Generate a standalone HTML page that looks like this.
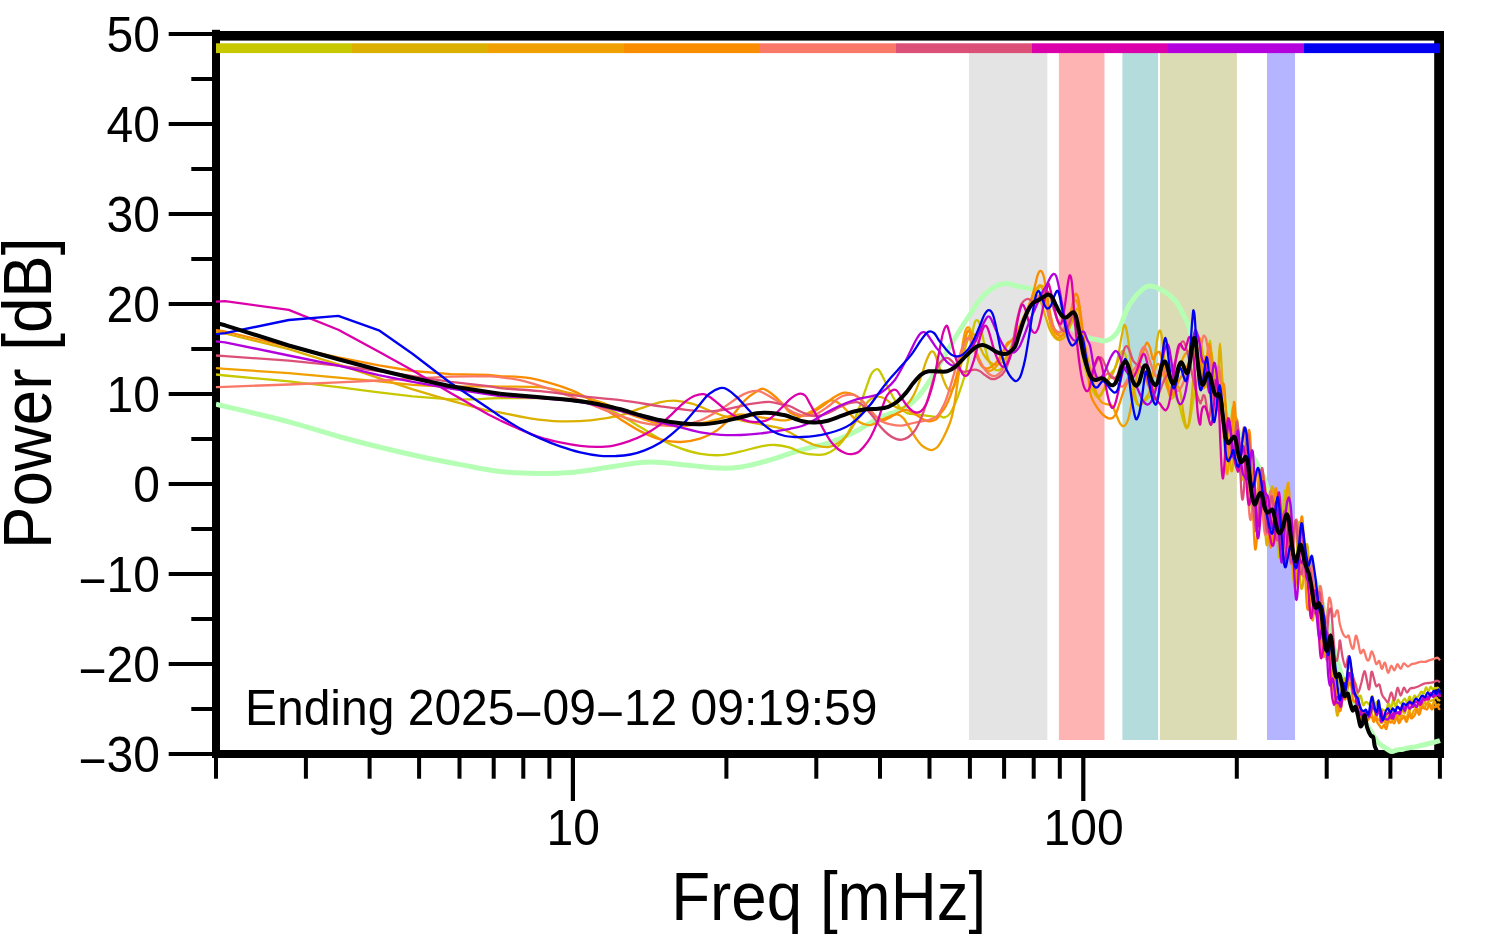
<!DOCTYPE html>
<html lang="en"><head><meta charset="utf-8"><title>Power spectrum</title>
<style>html,body{margin:0;padding:0;background:#fff}svg{display:block}text{font-family:"Liberation Sans",sans-serif;fill:#000}</style></head><body>
<svg width="1494" height="952" viewBox="0 0 1494 952">
<rect width="1494" height="952" fill="#fff"/>
<g fill="#000">
<rect x="168.7" y="752.0" width="46" height="4"/>
<rect x="191.3" y="707.0" width="24" height="4"/>
<rect x="168.7" y="662.0" width="46" height="4"/>
<rect x="191.3" y="617.0" width="24" height="4"/>
<rect x="168.7" y="572.0" width="46" height="4"/>
<rect x="191.3" y="527.0" width="24" height="4"/>
<rect x="168.7" y="482.0" width="46" height="4"/>
<rect x="191.3" y="437.0" width="24" height="4"/>
<rect x="168.7" y="392.0" width="46" height="4"/>
<rect x="191.3" y="347.0" width="24" height="4"/>
<rect x="168.7" y="302.0" width="46" height="4"/>
<rect x="191.3" y="257.0" width="24" height="4"/>
<rect x="168.7" y="212.0" width="46" height="4"/>
<rect x="191.3" y="167.0" width="24" height="4"/>
<rect x="168.7" y="122.0" width="46" height="4"/>
<rect x="191.3" y="77.0" width="24" height="4"/>
<rect x="168.7" y="32.0" width="46" height="4"/>
<rect x="214.0" y="754" width="4" height="24.7"/>
<rect x="303.9" y="754" width="4" height="24.7"/>
<rect x="367.6" y="754" width="4" height="24.7"/>
<rect x="417.1" y="754" width="4" height="24.7"/>
<rect x="457.5" y="754" width="4" height="24.7"/>
<rect x="491.7" y="754" width="4" height="24.7"/>
<rect x="521.3" y="754" width="4" height="24.7"/>
<rect x="547.4" y="754" width="4" height="24.7"/>
<rect x="570.8" y="754" width="4.2" height="47"/>
<rect x="724.4" y="754" width="4" height="24.7"/>
<rect x="814.3" y="754" width="4" height="24.7"/>
<rect x="878.0" y="754" width="4" height="24.7"/>
<rect x="927.5" y="754" width="4" height="24.7"/>
<rect x="967.9" y="754" width="4" height="24.7"/>
<rect x="1002.1" y="754" width="4" height="24.7"/>
<rect x="1031.7" y="754" width="4" height="24.7"/>
<rect x="1057.8" y="754" width="4" height="24.7"/>
<rect x="1081.2" y="754" width="4.2" height="47"/>
<rect x="1234.8" y="754" width="4" height="24.7"/>
<rect x="1324.7" y="754" width="4" height="24.7"/>
<rect x="1388.4" y="754" width="4" height="24.7"/>
<rect x="1437.9" y="754" width="4" height="24.7"/>
</g>
<g fill="#000">
<rect x="212" y="29.8" width="8" height="728.2"/>
<rect x="212" y="750" width="1232" height="8"/>
<rect x="212" y="31" width="1232" height="9.6"/>
<rect x="1434.2" y="31" width="9.8" height="727"/>
</g>
<rect x="969.00" y="44" width="78.35" height="696" fill="#e4e4e4"/>
<rect x="1058.90" y="44" width="45.60" height="696" fill="#ffb4b4"/>
<rect x="1122.40" y="44" width="35.70" height="696" fill="#b4dcdc"/>
<rect x="1159.90" y="44" width="77.00" height="696" fill="#dcdcb4"/>
<rect x="1267.00" y="44" width="28.00" height="696" fill="#b4b4ff"/>
<rect x="216.0" y="43.3" width="136.2" height="9.8" fill="#c8c800"/>
<rect x="352.0" y="43.3" width="136.2" height="9.8" fill="#dcb000"/>
<rect x="488.0" y="43.3" width="136.2" height="9.8" fill="#f0a000"/>
<rect x="624.0" y="43.3" width="136.2" height="9.8" fill="#fa8c00"/>
<rect x="760.0" y="43.3" width="136.2" height="9.8" fill="#fa7868"/>
<rect x="896.0" y="43.3" width="136.2" height="9.8" fill="#dc5078"/>
<rect x="1032.0" y="43.3" width="136.2" height="9.8" fill="#dc00aa"/>
<rect x="1168.0" y="43.3" width="136.2" height="9.8" fill="#b400dc"/>
<rect x="1304.0" y="43.3" width="136.0" height="9.8" fill="#0000f0"/>
<defs><clipPath id="cp"><rect x="216" y="34" width="1225.3" height="722"/></clipPath></defs>
<g clip-path="url(#cp)" fill="none" stroke-linejoin="round" stroke-linecap="butt">
<path d="M216.0,404.1 C228.1,407.1 268.4,416.4 288.8,421.8 C309.2,427.2 323.6,432.3 338.6,436.5 C353.6,440.7 365.4,443.7 379.0,447.0 C392.6,450.3 406.2,453.5 420.0,456.5 C433.8,459.5 448.7,462.4 462.0,464.9 C475.3,467.4 487.0,470.1 500.0,471.5 C513.0,472.9 528.5,473.3 540.2,473.5 C551.9,473.7 560.3,473.3 570.3,472.5 C580.3,471.7 588.7,470.2 600.4,468.5 C612.1,466.8 630.6,463.5 640.6,462.5 C650.6,461.5 652.2,462.0 660.6,462.5 C669.0,463.0 680.8,464.6 690.8,465.5 C700.8,466.4 712.5,467.9 720.9,468.1 C729.3,468.3 734.3,467.8 741.0,466.9 C747.7,466.0 754.3,464.2 761.0,462.5 C767.7,460.8 776.3,458.0 781.1,456.5 C785.9,455.0 785.4,454.8 790.0,453.4 C794.6,451.9 802.6,449.5 808.9,447.8 C815.2,446.1 821.5,445.3 827.8,443.3 C834.1,441.3 841.5,438.1 846.7,435.8 C852.0,433.5 855.1,431.8 859.3,429.5 C863.5,427.2 867.7,424.2 871.9,421.9 C876.1,419.6 880.3,417.4 884.5,415.6 C888.7,413.8 892.9,413.1 897.1,411.2 C901.3,409.3 906.1,407.1 909.7,404.5 C913.3,401.9 915.3,400.2 918.9,395.8 C922.5,391.4 927.7,384.1 931.5,378.2 C935.3,372.3 938.0,366.6 941.6,360.5 C945.2,354.4 949.3,347.5 952.9,341.6 C956.5,335.7 960.0,329.9 963.0,325.2 C966.0,320.5 968.1,317.3 970.6,313.5 C973.1,309.7 975.5,305.8 978.0,302.5 C980.5,299.2 982.9,296.2 985.4,293.8 C987.9,291.4 990.5,289.4 993.0,287.8 C995.5,286.2 998.0,285.1 1000.5,284.4 C1003.0,283.7 1005.7,283.4 1008.1,283.6 C1010.5,283.8 1012.4,285.1 1015.0,285.7 C1017.6,286.3 1020.9,286.6 1023.8,287.2 C1026.7,287.8 1029.6,288.4 1032.6,289.4 C1035.5,290.4 1038.5,291.4 1041.5,293.1 C1044.5,294.8 1047.4,296.9 1050.3,299.7 C1053.2,302.5 1056.2,306.1 1059.1,310.0 C1062.0,313.9 1065.0,319.5 1067.9,323.2 C1070.9,326.9 1073.8,329.9 1076.8,332.1 C1079.8,334.3 1083.4,335.5 1085.6,336.5 C1087.8,337.5 1088.1,337.8 1090.0,338.3 C1091.9,338.8 1094.5,339.2 1096.8,339.6 C1099.1,340.1 1101.4,341.1 1103.7,341.0 C1106.0,340.9 1108.5,340.0 1110.5,338.9 C1112.5,337.8 1114.3,336.1 1115.9,334.2 C1117.5,332.3 1118.6,330.3 1120.0,327.3 C1121.4,324.3 1122.7,319.8 1124.1,316.4 C1125.5,313.0 1126.6,309.8 1128.2,306.9 C1129.8,303.9 1131.9,301.1 1133.7,298.7 C1135.5,296.3 1137.3,294.3 1139.1,292.5 C1140.9,290.7 1143.0,288.8 1144.6,287.7 C1146.2,286.6 1147.1,286.3 1148.7,286.1 C1150.3,285.9 1152.4,286.2 1154.2,286.7 C1156.0,287.2 1157.8,288.2 1159.6,289.1 C1161.4,290.0 1163.3,290.7 1165.1,291.8 C1166.9,292.9 1168.7,294.3 1170.5,295.9 C1172.3,297.5 1174.4,299.3 1176.0,301.4 C1177.6,303.4 1178.7,305.7 1180.1,308.2 C1181.5,310.7 1183.0,313.9 1184.2,316.4 C1185.5,318.9 1186.6,320.7 1187.6,323.2 C1188.6,325.7 1189.5,328.9 1190.3,331.4 C1191.1,333.9 1191.3,334.9 1192.4,338.3 C1193.5,341.7 1195.4,347.4 1197.0,352.0 C1198.6,356.6 1199.8,361.3 1202.0,365.6 C1204.2,369.9 1207.5,374.3 1210.0,378.0 C1212.5,381.7 1214.6,384.6 1217.0,388.0 C1219.4,391.4 1221.2,391.6 1224.5,398.3 C1227.8,405.0 1232.6,418.9 1237.0,428.0 C1241.4,437.1 1246.5,444.7 1251.0,453.0 C1255.5,461.3 1260.0,468.2 1264.0,478.0 C1268.0,487.8 1269.0,500.8 1275.0,512.0 C1281.0,523.2 1293.3,533.7 1300.0,545.0 C1306.7,556.3 1310.5,567.5 1315.0,580.0 C1319.5,592.5 1323.3,606.7 1327.0,620.0 C1330.7,633.3 1333.7,648.3 1337.0,660.0 C1340.3,671.7 1343.2,681.0 1347.0,690.0 C1350.8,699.0 1356.4,707.8 1360.0,714.0 C1363.6,720.2 1366.2,723.7 1368.4,727.2 C1370.6,730.7 1371.5,732.5 1373.1,735.0 C1374.7,737.5 1376.2,740.2 1377.8,742.1 C1379.4,744.0 1381.0,744.9 1382.6,746.1 C1384.2,747.3 1385.7,748.3 1387.3,749.2 C1388.9,750.1 1390.4,751.5 1392.0,751.6 C1393.6,751.7 1394.9,750.4 1396.7,750.0 C1398.5,749.6 1400.9,749.6 1403.0,749.2 C1405.1,748.8 1407.2,748.1 1409.3,747.7 C1411.4,747.3 1413.5,747.3 1415.6,746.9 C1417.7,746.5 1419.9,745.8 1422.0,745.3 C1424.1,744.8 1426.2,744.2 1428.3,743.7 C1430.4,743.2 1432.6,742.6 1434.6,742.1 C1436.5,741.6 1439.1,740.9 1440.0,740.6" stroke="#b4ffb4" stroke-width="5"/>
<path d="M216.0,374.5 L225.1,375.5 L288.8,381.4 L338.3,387.1 L378.9,392.4 L412.8,396.3 L450.6,399.4 L475.8,399.4" stroke="#c8c800" stroke-width="2.3"/>
<path d="M475.8,399.4 C480.0,399.2 490.3,398.4 501.0,398.2 C511.7,398.0 527.0,397.9 540.2,398.2 C553.4,398.5 570.3,399.0 580.3,400.2 C590.3,401.4 593.7,402.8 600.4,405.3 C607.1,407.8 613.8,411.6 620.5,415.3 C627.2,419.0 633.9,423.3 640.6,427.3 C647.3,431.3 653.9,435.9 660.6,439.4 C667.3,442.9 674.0,446.0 680.7,448.4 C687.4,450.8 694.1,452.8 700.8,453.9 C707.5,455.0 714.2,455.5 720.9,455.1 C727.6,454.7 734.3,452.8 741.0,451.4 C747.7,449.9 755.3,447.5 761.0,446.4 C766.7,445.3 770.4,444.8 775.1,445.0 C779.8,445.2 784.6,446.1 789.2,447.4 C793.8,448.7 798.3,451.6 802.6,452.8 C806.9,454.0 811.4,454.5 815.2,454.7 C819.0,454.9 822.1,455.0 825.3,454.1 C828.4,453.2 831.2,451.8 834.1,449.6 C837.0,447.4 840.2,444.4 842.9,440.8 C845.6,437.2 848.0,433.2 850.5,428.2 C853.0,423.2 855.8,416.5 858.1,410.6 C860.4,404.7 862.3,398.8 864.4,392.9 C866.5,387.0 869.1,379.0 870.7,375.3 C872.3,371.6 872.6,371.9 873.8,370.9 C874.9,369.9 876.5,368.9 877.6,369.2 C878.8,369.5 879.3,370.5 880.7,372.8 C882.1,375.1 884.1,379.5 885.8,382.8 C887.5,386.1 889.1,389.7 890.8,392.9 C892.5,396.1 894.2,399.2 895.9,401.8 C897.6,404.4 899.0,406.8 900.9,408.7 C902.8,410.6 904.7,412.2 907.2,413.1 C909.7,414.1 912.9,414.0 916.0,414.4 C919.1,414.8 923.0,415.2 926.1,415.6 C929.2,416.0 932.6,416.8 934.9,416.9 C937.2,417.0 938.5,416.0 940.0,416.1 C941.5,416.2 942.5,417.8 944.1,417.5 C945.7,417.2 947.8,416.4 949.6,414.1 C951.4,411.8 953.2,408.0 955.0,403.8 C956.8,399.6 958.7,394.3 960.5,388.8 C962.3,383.3 964.4,377.8 966.0,371.0 C967.6,364.2 968.9,355.1 970.1,347.8 C971.4,340.5 972.5,331.9 973.5,327.3 C974.5,322.8 974.9,321.4 975.8,320.5 C976.7,319.6 977.9,320.1 978.9,321.9 C979.9,323.7 980.7,327.1 981.7,331.4 C982.7,335.7 983.9,342.8 985.1,347.8 C986.4,352.8 987.8,358.1 989.2,361.5 C990.6,364.9 991.9,366.8 993.3,368.3 C994.7,369.8 996.0,370.4 997.4,370.4 C998.8,370.4 1000.1,369.6 1001.5,368.3 C1002.9,367.0 1003.9,366.2 1005.6,362.8 C1007.4,359.4 1009.6,353.5 1012.0,348.0 C1014.4,342.5 1017.0,337.3 1020.0,330.0 C1023.0,322.7 1027.0,310.4 1029.7,304.1 C1032.4,297.8 1033.9,295.1 1036.0,292.0 C1038.1,288.9 1040.7,285.7 1042.2,285.7 C1043.7,285.7 1043.9,287.0 1045.0,292.0 C1046.1,297.0 1047.2,309.5 1048.8,315.9 C1050.4,322.3 1053.0,327.7 1054.7,330.6 C1056.4,333.5 1057.5,333.9 1059.1,333.5 C1060.6,333.1 1062.2,330.6 1064.0,328.0 C1065.8,325.4 1068.2,319.0 1070.0,318.0 C1071.8,317.0 1073.3,317.5 1075.0,322.0 C1076.7,326.5 1078.3,337.3 1080.0,345.0 C1081.7,352.7 1083.3,361.6 1085.0,368.0 C1086.7,374.4 1088.5,379.5 1090.0,383.7 C1091.5,387.9 1092.7,391.0 1094.1,393.3 C1095.5,395.6 1096.8,397.4 1098.2,397.4 C1099.6,397.4 1100.9,395.6 1102.3,393.3 C1103.7,391.0 1105.0,386.9 1106.4,383.7 C1107.8,380.5 1109.1,376.6 1110.5,374.1 C1111.9,371.6 1113.2,371.2 1114.6,368.7 C1116.0,366.2 1117.5,362.1 1118.7,359.1 C1120.0,356.2 1121.0,351.7 1122.1,351.0 C1123.2,350.3 1124.4,351.6 1125.5,355.0 C1126.6,358.4 1127.8,365.7 1128.9,371.4 C1130.0,377.1 1131.2,384.2 1132.3,389.2 C1133.4,394.2 1134.6,398.7 1135.7,401.4 C1136.8,404.1 1137.8,405.3 1139.1,405.5 C1140.3,405.7 1141.8,403.9 1143.2,402.8 C1144.6,401.7 1145.9,400.1 1147.3,398.7 C1148.7,397.3 1150.0,396.7 1151.4,394.6 C1152.8,392.6 1154.1,389.8 1155.5,386.4 C1156.9,383.0 1158.2,376.8 1159.6,374.1 C1161.0,371.4 1162.3,369.0 1163.7,370.1 C1165.1,371.2 1166.4,377.4 1167.8,381.0 C1169.2,384.6 1170.5,389.2 1171.9,391.9 C1173.3,394.6 1174.8,395.1 1176.0,397.4 C1177.2,399.7 1178.3,401.9 1179.4,405.5 C1180.5,409.1 1181.8,415.7 1182.8,419.2 C1183.8,422.7 1184.8,425.2 1185.5,426.7 C1186.2,428.2 1186.5,428.9 1187.2,428.1 C1187.9,427.3 1188.7,425.7 1189.6,421.9 C1190.5,418.1 1191.4,411.4 1192.4,405.5 C1193.4,399.6 1194.5,391.4 1195.8,386.4 C1197.1,381.4 1199.1,377.2 1200.0,375.5 C1200.9,373.8 1200.7,376.2 1201.0,376.4 C1201.3,376.6 1201.7,376.2 1202.0,376.6 C1202.3,377.0 1202.7,377.6 1203.0,378.6 C1203.3,379.5 1203.7,381.1 1204.0,382.2 C1204.3,383.4 1204.7,384.8 1205.0,385.5 C1205.3,386.2 1205.7,387.3 1206.0,386.5 C1206.3,385.7 1206.7,384.5 1207.0,380.9 C1207.3,377.2 1207.7,370.2 1208.0,364.7 C1208.3,359.2 1208.7,351.8 1209.0,347.8 C1209.3,343.8 1209.7,340.7 1210.0,340.8 C1210.3,341.0 1210.7,344.8 1211.0,348.5 C1211.3,352.2 1211.7,358.5 1212.0,362.9 C1212.3,367.3 1212.7,371.3 1213.0,374.9 C1213.3,378.5 1213.7,381.7 1214.0,384.4 C1214.3,387.1 1214.7,389.5 1215.0,391.2 C1215.3,392.9 1215.7,393.7 1216.0,394.5 C1216.3,395.3 1216.7,395.4 1217.0,395.9 C1217.3,396.3 1217.7,396.9 1218.0,397.4 C1218.3,397.9 1218.7,397.5 1219.0,399.0 C1219.3,400.4 1219.7,403.6 1220.0,406.2 C1220.3,408.8 1220.7,411.8 1221.0,414.7 C1221.3,417.5 1221.7,420.7 1222.0,423.2 C1222.3,425.7 1222.7,428.2 1223.0,429.6 C1223.3,431.1 1223.7,431.8 1224.0,432.1 C1224.3,432.4 1224.7,431.4 1225.0,431.5 C1225.3,431.6 1225.7,432.1 1226.0,432.6 C1226.3,433.2 1226.7,433.5 1227.0,434.7 C1227.3,436.0 1227.7,438.0 1228.0,440.1 C1228.3,442.2 1228.7,445.3 1229.0,447.3 C1229.3,449.4 1229.7,451.7 1230.0,452.4 C1230.3,453.2 1230.7,453.0 1231.0,451.8 C1231.3,450.5 1231.7,447.8 1232.0,444.6 C1232.3,441.5 1232.7,437.0 1233.0,433.0 C1233.3,429.0 1233.7,423.7 1234.0,420.8 C1234.3,417.9 1234.7,415.9 1235.0,415.5 C1235.3,415.1 1235.7,416.5 1236.0,418.4 C1236.3,420.4 1236.7,423.4 1237.0,427.4 C1237.3,431.4 1237.7,437.3 1238.0,442.3 C1238.3,447.4 1238.7,453.4 1239.0,457.7 C1239.3,461.9 1239.7,465.2 1240.0,467.9 C1240.3,470.6 1240.7,472.6 1241.0,473.9 C1241.3,475.1 1241.7,475.2 1242.0,475.2 C1242.3,475.1 1242.7,474.0 1243.0,473.4 C1243.3,472.9 1243.7,472.0 1244.0,471.7 C1244.3,471.5 1244.7,472.2 1245.0,472.0 C1245.3,471.8 1245.7,470.8 1246.0,470.6 C1246.3,470.5 1246.7,471.4 1247.0,471.1 C1247.3,470.7 1247.7,469.8 1248.0,468.8 C1248.3,467.7 1248.7,465.5 1249.0,464.8 C1249.3,464.0 1249.7,463.8 1250.0,464.4 C1250.3,464.9 1250.7,465.6 1251.0,467.8 C1251.3,470.1 1251.7,473.6 1252.0,477.9 C1252.3,482.3 1252.7,489.3 1253.0,494.0 C1253.3,498.7 1253.7,502.8 1254.0,506.2 C1254.3,509.7 1254.7,513.0 1255.0,514.5 C1255.3,516.0 1255.7,516.3 1256.0,515.4 C1256.3,514.4 1256.7,511.9 1257.0,508.9 C1257.3,505.8 1257.7,500.6 1258.0,497.3 C1258.3,493.9 1258.7,490.8 1259.0,488.6 C1259.3,486.3 1259.7,483.9 1260.0,483.7 C1260.3,483.4 1260.7,485.2 1261.0,487.2 C1261.3,489.2 1261.7,492.7 1262.0,495.6 C1262.3,498.6 1262.7,502.5 1263.0,505.0 C1263.3,507.5 1263.7,509.2 1264.0,510.6 C1264.3,512.0 1264.7,513.1 1265.0,513.5 C1265.3,514.0 1265.7,513.6 1266.0,513.3 C1266.3,512.9 1266.7,511.8 1267.0,511.4 C1267.3,511.0 1267.7,510.7 1268.0,510.6 C1268.3,510.5 1268.7,510.9 1269.0,510.9 C1269.3,510.9 1269.7,510.7 1270.0,510.4 C1270.3,510.2 1270.7,510.0 1271.0,509.4 C1271.3,508.8 1271.7,508.0 1272.0,507.1 C1272.3,506.1 1272.7,504.4 1273.0,503.7 C1273.3,503.0 1273.7,502.3 1274.0,502.9 C1274.3,503.5 1274.7,505.2 1275.0,507.5 C1275.3,509.9 1275.7,513.1 1276.0,517.2 C1276.3,521.2 1276.7,526.6 1277.0,531.7 C1277.3,536.8 1277.7,543.6 1278.0,547.8 C1278.3,552.0 1278.7,555.1 1279.0,556.7 C1279.3,558.3 1279.7,558.8 1280.0,557.4 C1280.3,556.1 1280.7,552.9 1281.0,548.6 C1281.3,544.3 1281.7,537.7 1282.0,531.7 C1282.3,525.8 1282.7,518.4 1283.0,512.9 C1283.3,507.3 1283.7,502.1 1284.0,498.4 C1284.3,494.6 1284.7,491.3 1285.0,490.4 C1285.3,489.4 1285.7,490.9 1286.0,492.5 C1286.3,494.0 1286.7,496.2 1287.0,499.5 C1287.3,502.8 1287.7,508.0 1288.0,512.3 C1288.3,516.6 1288.7,521.1 1289.0,525.3 C1289.3,529.6 1289.7,533.4 1290.0,537.7 C1290.3,542.0 1290.7,546.8 1291.0,551.1 C1291.3,555.4 1291.7,559.6 1292.0,563.5 C1292.3,567.5 1292.7,571.7 1293.0,574.6 C1293.3,577.6 1293.7,580.7 1294.0,581.2 C1294.3,581.7 1294.7,580.1 1295.0,577.8 C1295.3,575.5 1295.7,572.0 1296.0,567.5 C1296.3,563.0 1296.7,556.6 1297.0,550.8 C1297.3,545.0 1297.7,537.2 1298.0,532.7 C1298.3,528.1 1298.7,525.0 1299.0,523.3 C1299.3,521.7 1299.7,521.2 1300.0,522.7 C1300.3,524.2 1300.7,528.1 1301.0,532.3 C1301.3,536.6 1301.7,543.1 1302.0,548.3 C1302.3,553.5 1302.7,559.5 1303.0,563.6 C1303.3,567.8 1303.7,571.1 1304.0,573.2 C1304.3,575.3 1304.7,576.2 1305.0,576.3 C1305.3,576.4 1305.7,575.1 1306.0,573.9 C1306.3,572.8 1306.7,570.3 1307.0,569.3 C1307.3,568.3 1307.7,567.6 1308.0,567.9 C1308.3,568.2 1308.7,569.1 1309.0,570.8 C1309.3,572.6 1309.7,575.3 1310.0,578.3 C1310.3,581.4 1310.7,585.6 1311.0,589.2 C1311.3,592.8 1311.7,597.7 1312.0,600.2 C1312.3,602.7 1312.7,603.1 1313.0,604.4 C1313.3,605.7 1313.7,607.1 1314.0,608.0 C1314.3,608.8 1314.7,609.2 1315.0,609.7 C1315.3,610.2 1315.7,610.3 1316.0,611.0 C1316.3,611.7 1316.7,612.4 1317.0,613.7 C1317.3,615.1 1317.7,617.9 1318.0,619.1 C1318.3,620.2 1318.7,620.1 1319.0,620.5 C1319.3,620.9 1319.7,621.6 1320.0,621.5 C1320.3,621.4 1320.7,620.6 1321.0,619.8 C1321.3,619.1 1321.7,617.5 1322.0,616.9 C1322.3,616.3 1322.7,615.3 1323.0,616.2 C1323.3,617.1 1323.7,620.3 1324.0,622.2 C1324.3,624.0 1324.7,624.9 1325.0,627.3 C1325.3,629.7 1325.7,633.6 1326.0,636.5 C1326.3,639.5 1326.7,643.1 1327.0,645.2 C1327.3,647.4 1327.7,647.7 1328.0,649.4 C1328.3,651.0 1328.7,653.2 1329.0,655.0 C1329.3,656.8 1329.7,658.2 1330.0,660.3 C1330.3,662.3 1330.7,665.1 1331.0,667.5 C1331.3,669.8 1331.7,673.1 1332.0,674.3 C1332.3,675.6 1332.7,674.5 1333.0,674.9 C1333.3,675.4 1333.7,676.7 1334.0,676.7 C1334.3,676.8 1334.7,675.9 1335.0,675.3 C1335.3,674.7 1335.7,673.8 1336.0,673.2 C1336.3,672.5 1336.7,671.2 1337.0,671.4 C1337.3,671.5 1337.7,672.5 1338.0,673.8 C1338.3,675.2 1338.7,677.4 1339.0,679.7 C1339.3,682.1 1339.7,686.0 1340.0,687.9 C1340.3,689.8 1340.7,690.3 1341.0,690.9 C1341.3,691.6 1341.7,692.7 1342.0,691.7 C1342.3,690.8 1342.7,687.2 1343.0,685.1 C1343.3,682.9 1343.7,680.0 1344.0,678.9 C1344.3,677.8 1344.7,678.4 1345.0,678.4 C1345.3,678.4 1345.7,679.4 1346.0,679.0 C1346.3,678.5 1346.7,677.1 1347.0,675.7 C1347.3,674.3 1347.7,672.1 1348.0,670.7 C1348.3,669.3 1348.7,668.0 1349.0,667.3 C1349.3,666.6 1349.7,666.4 1350.0,666.6 C1350.3,666.7 1350.7,667.1 1351.0,668.2 C1351.3,669.2 1351.7,670.8 1352.0,672.8 C1352.3,674.8 1352.7,678.3 1353.0,680.2 C1353.3,682.1 1353.7,683.6 1354.0,684.1 C1354.3,684.6 1354.7,683.3 1355.0,683.3 C1355.3,683.4 1355.7,683.0 1356.0,684.2 C1356.3,685.4 1356.7,688.2 1357.0,690.4 C1357.3,692.6 1357.7,696.0 1358.0,697.4 C1358.3,698.8 1358.7,699.0 1359.0,698.8 C1359.3,698.5 1359.7,696.4 1360.0,696.0 C1360.3,695.6 1360.7,695.5 1361.0,696.3 C1361.3,697.2 1361.7,699.7 1362.0,701.2 C1362.3,702.6 1362.7,704.5 1363.0,705.1 C1363.3,705.7 1363.7,705.1 1364.0,704.7 C1364.3,704.3 1364.7,703.1 1365.0,702.7 C1365.3,702.2 1365.7,701.9 1366.0,701.8 C1366.3,701.7 1366.7,702.1 1367.0,702.3 C1367.3,702.6 1367.7,703.1 1368.0,703.4 C1368.3,703.8 1368.7,704.3 1369.0,704.4 C1369.3,704.4 1369.7,704.3 1370.0,703.6 C1370.3,702.8 1370.7,701.0 1371.0,699.8 C1371.3,698.5 1371.7,696.3 1372.0,696.1 C1372.3,695.8 1372.7,697.0 1373.0,698.3 C1373.3,699.7 1373.7,702.9 1374.0,704.3 C1374.3,705.7 1374.7,706.7 1375.0,706.5 C1375.3,706.4 1375.7,704.0 1376.0,703.3 C1376.3,702.5 1376.7,701.9 1377.0,702.0 C1377.3,702.1 1377.7,702.7 1378.0,703.7 C1378.3,704.7 1378.7,706.9 1379.0,707.9 C1379.3,709.0 1379.7,709.9 1380.0,710.1 C1380.3,710.3 1380.7,709.3 1381.0,709.1 C1381.3,708.9 1381.7,708.8 1382.0,709.1 C1382.3,709.3 1382.7,710.3 1383.0,710.5 C1383.3,710.8 1383.7,710.4 1384.0,710.4 C1384.3,710.4 1384.7,710.5 1385.0,710.4 C1385.3,710.3 1385.7,710.5 1386.0,710.0 C1386.3,709.6 1386.7,708.9 1387.0,707.9 C1387.3,706.9 1387.7,704.7 1388.0,704.0 C1388.3,703.3 1388.7,703.0 1389.0,703.6 C1389.3,704.1 1389.7,706.4 1390.0,707.3 C1390.3,708.1 1390.7,709.2 1391.0,708.8 C1391.3,708.4 1391.7,706.1 1392.0,704.7 C1392.3,703.2 1392.7,700.6 1393.0,700.1 C1393.3,699.5 1393.7,700.5 1394.0,701.5 C1394.3,702.5 1394.7,705.2 1395.0,705.9 C1395.3,706.7 1395.7,706.8 1396.0,706.2 C1396.3,705.6 1396.7,703.4 1397.0,702.3 C1397.3,701.2 1397.7,700.0 1398.0,699.8 C1398.3,699.6 1398.7,700.5 1399.0,701.1 C1399.3,701.6 1399.7,702.5 1400.0,702.9 C1400.3,703.2 1400.7,703.3 1401.0,703.2 C1401.3,703.0 1401.7,702.5 1402.0,702.1 C1402.3,701.7 1402.7,701.2 1403.0,700.7 C1403.3,700.2 1403.7,699.6 1404.0,699.3 C1404.3,699.0 1404.7,698.4 1405.0,698.7 C1405.3,698.9 1405.7,700.2 1406.0,700.9 C1406.3,701.7 1406.7,703.1 1407.0,703.2 C1407.3,703.3 1407.7,702.5 1408.0,701.6 C1408.3,700.6 1408.7,698.3 1409.0,697.5 C1409.3,696.7 1409.7,696.4 1410.0,696.9 C1410.3,697.4 1410.7,699.5 1411.0,700.4 C1411.3,701.4 1411.7,702.6 1412.0,702.6 C1412.3,702.5 1412.7,701.0 1413.0,699.9 C1413.3,698.8 1413.7,696.9 1414.0,696.2 C1414.3,695.5 1414.7,695.6 1415.0,695.8 C1415.3,695.9 1415.7,696.9 1416.0,697.2 C1416.3,697.5 1416.7,697.6 1417.0,697.5 C1417.3,697.4 1417.7,696.8 1418.0,696.4 C1418.3,696.0 1418.7,695.7 1419.0,695.2 C1419.3,694.8 1419.7,694.1 1420.0,693.5 C1420.3,693.0 1420.7,692.2 1421.0,691.9 C1421.3,691.6 1421.7,691.5 1422.0,691.8 C1422.3,692.0 1422.7,693.3 1423.0,693.5 C1423.3,693.7 1423.7,693.8 1424.0,693.2 C1424.3,692.6 1424.7,690.9 1425.0,690.0 C1425.3,689.0 1425.7,687.6 1426.0,687.4 C1426.3,687.2 1426.7,688.2 1427.0,688.9 C1427.3,689.5 1427.7,691.2 1428.0,691.4 C1428.3,691.7 1428.7,691.2 1429.0,690.6 C1429.3,689.9 1429.7,688.2 1430.0,687.5 C1430.3,686.9 1430.7,686.6 1431.0,686.8 C1431.3,686.9 1431.7,688.0 1432.0,688.5 C1432.3,688.9 1432.7,689.4 1433.0,689.4 C1433.3,689.4 1433.7,688.7 1434.0,688.4 C1434.3,688.2 1434.7,688.0 1435.0,688.0 C1435.3,688.0 1435.7,688.3 1436.0,688.3 C1436.3,688.3 1436.7,687.9 1437.0,687.8 C1437.3,687.7 1437.7,687.4 1438.0,687.7 C1438.3,688.0 1438.7,689.2 1439.0,689.6 C1439.3,690.0 1439.8,690.0 1440.0,690.1" stroke="#c8c800" stroke-width="2.3"/>
<path d="M216.0,332.2 L225.1,333.5 L288.8,349.2 L338.3,364.4 L378.9,378.2 L412.8,389.3 L450.6,400.7 L488.4,410.8 L500.0,412.3" stroke="#dcb000" stroke-width="2.3"/>
<path d="M500.0,412.3 C505.0,413.3 520.1,416.8 530.1,418.3 C540.1,419.8 550.2,421.0 560.2,421.3 C570.2,421.6 580.4,421.3 590.4,420.3 C600.4,419.3 612.1,417.3 620.5,415.3 C628.9,413.3 633.9,410.5 640.6,408.3 C647.3,406.1 654.6,403.4 660.6,402.2 C666.6,400.9 671.3,400.5 676.7,400.8 C682.1,401.1 687.4,402.3 692.8,403.9 C698.1,405.5 703.4,408.2 708.8,410.3 C714.1,412.4 719.5,414.6 724.9,416.3 C730.3,418.0 735.0,419.0 741.0,420.3 C747.0,421.6 754.3,423.0 761.0,424.3 C767.7,425.6 776.3,427.0 781.1,428.4 C785.9,429.8 786.4,430.7 790.0,432.6 C793.6,434.5 798.4,437.5 802.6,439.6 C806.8,441.7 811.0,443.9 815.2,445.2 C819.4,446.4 824.0,447.4 827.8,447.1 C831.6,446.8 834.8,445.2 837.9,443.3 C841.0,441.4 843.8,439.4 846.7,435.8 C849.6,432.2 852.8,426.5 855.5,421.9 C858.2,417.3 860.6,411.9 863.1,408.1 C865.6,404.3 868.2,401.1 870.7,399.2 C873.2,397.3 875.7,396.7 878.2,396.7 C880.7,396.7 883.3,397.7 885.8,399.2 C888.3,400.7 890.8,403.9 893.3,405.5 C895.8,407.1 898.6,408.9 900.9,408.7 C903.2,408.5 905.1,406.5 907.2,404.3 C909.3,402.1 911.4,399.5 913.5,395.5 C915.6,391.5 917.7,386.0 919.8,380.3 C921.9,374.6 924.4,365.9 926.1,361.4 C927.8,356.9 928.9,354.9 929.9,353.2 C930.9,351.5 931.6,351.2 932.4,351.3 C933.2,351.4 933.8,351.6 934.9,353.9 C936.0,356.2 937.4,361.2 938.7,365.2 C940.0,369.2 941.4,374.2 942.7,377.9 C944.1,381.6 945.5,385.2 946.8,387.4 C948.0,389.5 949.1,390.8 950.2,390.8 C951.4,390.8 952.4,389.8 953.7,387.4 C955.0,385.0 956.4,380.8 957.8,376.5 C959.2,372.2 960.5,366.7 961.9,361.5 C963.3,356.3 964.8,349.4 966.0,345.1 C967.2,340.8 968.4,337.6 969.4,335.5 C970.4,333.4 971.1,332.6 972.1,332.8 C973.1,333.0 974.2,334.6 975.5,336.9 C976.8,339.2 978.2,343.4 979.6,346.4 C981.0,349.3 982.3,352.3 983.7,354.6 C985.1,356.9 986.2,358.5 987.8,360.1 C989.4,361.7 991.5,363.5 993.3,364.2 C995.1,364.9 996.9,364.9 998.7,364.2 C1000.5,363.5 1002.0,363.3 1004.2,360.1 C1006.4,356.9 1009.4,350.9 1012.0,345.0 C1014.6,339.1 1017.3,331.2 1020.0,325.0 C1022.7,318.8 1025.5,312.5 1028.0,308.0 C1030.5,303.5 1033.0,299.3 1035.0,298.0 C1037.0,296.7 1038.3,297.2 1040.0,300.0 C1041.7,302.8 1043.3,310.0 1045.0,315.0 C1046.7,320.0 1048.3,326.2 1050.0,330.0 C1051.7,333.8 1053.3,336.3 1055.0,338.0 C1056.7,339.7 1058.2,340.5 1060.0,340.0 C1061.8,339.5 1064.0,338.0 1066.0,335.0 C1068.0,332.0 1070.3,326.2 1072.0,322.0 C1073.7,317.8 1074.8,311.7 1076.0,310.0 C1077.2,308.3 1077.8,307.8 1079.0,312.0 C1080.2,316.2 1081.7,327.8 1083.0,335.0 C1084.3,342.2 1085.8,349.6 1087.0,355.0 C1088.2,360.4 1088.8,362.1 1090.0,367.3 C1091.2,372.5 1092.7,381.6 1094.1,386.4 C1095.5,391.2 1096.8,395.1 1098.2,396.0 C1099.6,396.9 1100.7,394.4 1102.3,391.9 C1103.9,389.4 1105.9,384.2 1107.7,381.0 C1109.5,377.8 1111.6,376.2 1113.2,372.8 C1114.8,369.4 1116.0,365.7 1117.3,360.5 C1118.5,355.3 1119.7,346.9 1120.7,341.4 C1121.7,335.9 1122.7,330.4 1123.4,327.7 C1124.1,325.0 1124.3,324.5 1124.8,325.0 C1125.3,325.5 1125.9,327.1 1126.6,330.5 C1127.3,333.9 1128.2,339.8 1128.9,345.5 C1129.6,351.2 1130.1,357.8 1130.9,364.6 C1131.7,371.4 1132.8,380.5 1133.7,386.4 C1134.6,392.3 1135.5,396.9 1136.4,400.1 C1137.3,403.3 1138.1,405.1 1139.1,405.5 C1140.1,405.9 1141.3,404.2 1142.5,402.8 C1143.7,401.4 1144.8,399.2 1146.0,397.4 C1147.2,395.6 1148.4,395.1 1149.4,391.9 C1150.4,388.7 1151.2,383.9 1152.1,378.2 C1153.0,372.5 1153.9,364.6 1154.8,357.8 C1155.7,351.0 1156.8,341.9 1157.6,337.3 C1158.4,332.8 1158.9,330.7 1159.6,330.5 C1160.3,330.3 1161.0,332.1 1161.7,336.0 C1162.4,339.9 1163.0,347.3 1163.7,353.7 C1164.4,360.1 1165.0,367.7 1165.8,374.1 C1166.6,380.5 1167.5,387.8 1168.5,391.9 C1169.5,396.0 1170.8,398.7 1171.9,398.7 C1173.0,398.7 1174.3,393.9 1175.3,391.9 C1176.3,389.8 1177.1,385.9 1178.0,386.4 C1178.9,386.8 1179.9,390.1 1180.8,394.6 C1181.7,399.2 1182.7,408.7 1183.5,413.7 C1184.3,418.7 1184.9,422.3 1185.5,424.6 C1186.1,426.9 1186.6,427.8 1187.2,427.4 C1187.8,426.9 1188.2,426.9 1189.0,421.9 C1189.8,416.9 1190.8,406.9 1191.7,397.4 C1192.6,387.8 1193.6,373.5 1194.4,364.6 C1195.2,355.7 1195.8,348.7 1196.5,344.1 C1197.2,339.6 1197.9,337.8 1198.5,337.3 C1199.1,336.9 1199.6,340.3 1200.0,341.4 C1200.4,342.5 1200.7,342.5 1201.0,343.6 C1201.3,344.8 1201.7,346.4 1202.0,348.3 C1202.3,350.2 1202.7,352.7 1203.0,355.3 C1203.3,357.8 1203.7,360.8 1204.0,363.6 C1204.3,366.4 1204.7,369.8 1205.0,371.9 C1205.3,374.1 1205.7,375.6 1206.0,376.4 C1206.3,377.2 1206.7,377.5 1207.0,376.7 C1207.3,376.0 1207.7,374.1 1208.0,371.9 C1208.3,369.6 1208.7,365.8 1209.0,363.3 C1209.3,360.7 1209.7,358.4 1210.0,356.6 C1210.3,354.8 1210.7,352.8 1211.0,352.6 C1211.3,352.4 1211.7,353.4 1212.0,355.4 C1212.3,357.5 1212.7,361.1 1213.0,365.0 C1213.3,368.9 1213.7,374.0 1214.0,378.8 C1214.3,383.5 1214.7,389.2 1215.0,393.4 C1215.3,397.5 1215.7,402.3 1216.0,403.7 C1216.3,405.2 1216.7,405.2 1217.0,402.0 C1217.3,398.7 1217.7,391.9 1218.0,384.3 C1218.3,376.7 1218.7,363.2 1219.0,356.4 C1219.3,349.6 1219.7,343.5 1220.0,343.5 C1220.3,343.5 1220.7,351.2 1221.0,356.4 C1221.3,361.5 1221.7,369.5 1222.0,374.6 C1222.3,379.6 1222.7,383.6 1223.0,386.9 C1223.3,390.3 1223.7,392.2 1224.0,394.7 C1224.3,397.2 1224.7,399.4 1225.0,402.1 C1225.3,404.8 1225.7,407.3 1226.0,410.7 C1226.3,414.1 1226.7,418.7 1227.0,422.5 C1227.3,426.3 1227.7,429.2 1228.0,433.3 C1228.3,437.5 1228.7,442.8 1229.0,447.4 C1229.3,452.0 1229.7,457.4 1230.0,461.1 C1230.3,464.7 1230.7,467.7 1231.0,469.3 C1231.3,471.0 1231.7,471.8 1232.0,471.0 C1232.3,470.2 1232.7,467.8 1233.0,464.4 C1233.3,461.0 1233.7,455.8 1234.0,450.7 C1234.3,445.7 1234.7,438.8 1235.0,434.2 C1235.3,429.6 1235.7,425.4 1236.0,422.9 C1236.3,420.4 1236.7,418.3 1237.0,419.1 C1237.3,419.9 1237.7,423.5 1238.0,427.7 C1238.3,431.9 1238.7,438.6 1239.0,444.2 C1239.3,449.8 1239.7,456.5 1240.0,461.5 C1240.3,466.6 1240.7,471.3 1241.0,474.4 C1241.3,477.5 1241.7,480.0 1242.0,480.0 C1242.3,479.9 1242.7,477.1 1243.0,474.2 C1243.3,471.2 1243.7,466.2 1244.0,462.1 C1244.3,457.9 1244.7,453.0 1245.0,449.3 C1245.3,445.6 1245.7,441.9 1246.0,440.1 C1246.3,438.3 1246.7,437.1 1247.0,438.3 C1247.3,439.6 1247.7,443.5 1248.0,447.6 C1248.3,451.7 1248.7,457.0 1249.0,462.7 C1249.3,468.3 1249.7,475.5 1250.0,481.6 C1250.3,487.8 1250.7,494.7 1251.0,499.6 C1251.3,504.6 1251.7,508.5 1252.0,511.4 C1252.3,514.3 1252.7,515.9 1253.0,517.0 C1253.3,518.1 1253.7,518.5 1254.0,517.8 C1254.3,517.2 1254.7,514.8 1255.0,513.1 C1255.3,511.4 1255.7,509.9 1256.0,507.7 C1256.3,505.5 1256.7,502.9 1257.0,499.8 C1257.3,496.8 1257.7,492.9 1258.0,489.6 C1258.3,486.3 1258.7,482.8 1259.0,480.1 C1259.3,477.4 1259.7,474.9 1260.0,473.3 C1260.3,471.7 1260.7,470.3 1261.0,470.6 C1261.3,470.9 1261.7,472.3 1262.0,475.1 C1262.3,477.9 1262.7,482.3 1263.0,487.3 C1263.3,492.3 1263.7,498.7 1264.0,504.9 C1264.3,511.2 1264.7,518.9 1265.0,524.8 C1265.3,530.7 1265.7,536.9 1266.0,540.4 C1266.3,543.8 1266.7,545.5 1267.0,545.4 C1267.3,545.3 1267.7,542.9 1268.0,539.8 C1268.3,536.7 1268.7,531.9 1269.0,526.6 C1269.3,521.4 1269.7,513.9 1270.0,508.3 C1270.3,502.8 1270.7,497.0 1271.0,493.4 C1271.3,489.8 1271.7,487.2 1272.0,486.6 C1272.3,485.9 1272.7,487.2 1273.0,489.4 C1273.3,491.6 1273.7,495.2 1274.0,499.7 C1274.3,504.2 1274.7,511.3 1275.0,516.4 C1275.3,521.4 1275.7,526.5 1276.0,530.1 C1276.3,533.8 1276.7,536.8 1277.0,538.2 C1277.3,539.6 1277.7,539.5 1278.0,538.7 C1278.3,537.9 1278.7,535.7 1279.0,533.3 C1279.3,531.0 1279.7,526.9 1280.0,524.5 C1280.3,522.1 1280.7,520.2 1281.0,519.1 C1281.3,518.1 1281.7,517.8 1282.0,518.2 C1282.3,518.6 1282.7,519.7 1283.0,521.4 C1283.3,523.1 1283.7,526.3 1284.0,528.5 C1284.3,530.6 1284.7,532.8 1285.0,534.3 C1285.3,535.8 1285.7,536.9 1286.0,537.4 C1286.3,537.9 1286.7,537.5 1287.0,537.2 C1287.3,537.0 1287.7,536.4 1288.0,535.8 C1288.3,535.2 1288.7,534.2 1289.0,533.7 C1289.3,533.3 1289.7,533.1 1290.0,533.1 C1290.3,533.1 1290.7,533.5 1291.0,533.8 C1291.3,534.1 1291.7,534.8 1292.0,534.8 C1292.3,534.8 1292.7,534.4 1293.0,533.9 C1293.3,533.4 1293.7,532.3 1294.0,531.8 C1294.3,531.4 1294.7,531.1 1295.0,531.1 C1295.3,531.1 1295.7,530.3 1296.0,531.7 C1296.3,533.1 1296.7,536.4 1297.0,539.4 C1297.3,542.4 1297.7,545.5 1298.0,549.6 C1298.3,553.7 1298.7,559.1 1299.0,563.9 C1299.3,568.7 1299.7,574.4 1300.0,578.3 C1300.3,582.2 1300.7,585.5 1301.0,587.2 C1301.3,588.9 1301.7,589.2 1302.0,588.6 C1302.3,588.0 1302.7,586.6 1303.0,583.7 C1303.3,580.8 1303.7,575.3 1304.0,571.0 C1304.3,566.7 1304.7,561.7 1305.0,557.8 C1305.3,554.0 1305.7,550.4 1306.0,548.1 C1306.3,545.8 1306.7,543.9 1307.0,544.1 C1307.3,544.4 1307.7,546.5 1308.0,549.6 C1308.3,552.7 1308.7,557.9 1309.0,562.8 C1309.3,567.6 1309.7,573.7 1310.0,578.8 C1310.3,583.8 1310.7,588.9 1311.0,592.9 C1311.3,596.9 1311.7,600.6 1312.0,602.7 C1312.3,604.8 1312.7,604.9 1313.0,605.4 C1313.3,605.9 1313.7,605.6 1314.0,605.5 C1314.3,605.5 1314.7,605.4 1315.0,605.2 C1315.3,605.1 1315.7,604.6 1316.0,604.6 C1316.3,604.7 1316.7,604.7 1317.0,605.7 C1317.3,606.7 1317.7,609.2 1318.0,610.6 C1318.3,612.1 1318.7,613.2 1319.0,614.5 C1319.3,615.8 1319.7,616.8 1320.0,618.5 C1320.3,620.2 1320.7,622.7 1321.0,624.7 C1321.3,626.7 1321.7,628.6 1322.0,630.6 C1322.3,632.6 1322.7,634.2 1323.0,636.6 C1323.3,639.1 1323.7,642.8 1324.0,645.6 C1324.3,648.4 1324.7,651.5 1325.0,653.6 C1325.3,655.7 1325.7,657.0 1326.0,658.2 C1326.3,659.4 1326.7,660.8 1327.0,660.7 C1327.3,660.7 1327.7,659.8 1328.0,657.9 C1328.3,655.9 1328.7,651.8 1329.0,649.1 C1329.3,646.4 1329.7,644.2 1330.0,641.9 C1330.3,639.6 1330.7,636.4 1331.0,635.2 C1331.3,634.0 1331.7,632.4 1332.0,634.7 C1332.3,637.1 1332.7,643.5 1333.0,649.2 C1333.3,654.8 1333.7,661.8 1334.0,668.9 C1334.3,676.0 1334.7,685.4 1335.0,691.9 C1335.3,698.4 1335.7,704.1 1336.0,708.0 C1336.3,711.8 1336.7,713.8 1337.0,714.9 C1337.3,716.1 1337.7,716.0 1338.0,714.7 C1338.3,713.5 1338.7,709.9 1339.0,707.3 C1339.3,704.6 1339.7,700.2 1340.0,699.1 C1340.3,698.0 1340.7,700.4 1341.0,700.7 C1341.3,701.1 1341.7,702.3 1342.0,701.3 C1342.3,700.3 1342.7,697.1 1343.0,694.8 C1343.3,692.5 1343.7,689.1 1344.0,687.5 C1344.3,685.9 1344.7,685.4 1345.0,685.0 C1345.3,684.5 1345.7,685.1 1346.0,684.6 C1346.3,684.0 1346.7,683.0 1347.0,681.7 C1347.3,680.5 1347.7,678.4 1348.0,677.1 C1348.3,675.8 1348.7,674.4 1349.0,673.7 C1349.3,673.0 1349.7,672.9 1350.0,673.0 C1350.3,673.1 1350.7,673.4 1351.0,674.2 C1351.3,675.1 1351.7,676.0 1352.0,677.9 C1352.3,679.8 1352.7,683.2 1353.0,685.7 C1353.3,688.2 1353.7,691.3 1354.0,692.8 C1354.3,694.3 1354.7,694.6 1355.0,694.9 C1355.3,695.1 1355.7,694.0 1356.0,694.5 C1356.3,694.9 1356.7,695.7 1357.0,697.6 C1357.3,699.5 1357.7,703.2 1358.0,705.6 C1358.3,708.0 1358.7,711.0 1359.0,712.2 C1359.3,713.3 1359.7,712.8 1360.0,712.5 C1360.3,712.3 1360.7,710.7 1361.0,710.7 C1361.3,710.7 1361.7,711.3 1362.0,712.3 C1362.3,713.4 1362.7,715.6 1363.0,716.8 C1363.3,717.9 1363.7,718.9 1364.0,719.3 C1364.3,719.6 1364.7,719.2 1365.0,718.9 C1365.3,718.7 1365.7,718.1 1366.0,717.8 C1366.3,717.4 1366.7,717.2 1367.0,716.8 C1367.3,716.4 1367.7,715.7 1368.0,715.2 C1368.3,714.7 1368.7,714.1 1369.0,714.0 C1369.3,713.9 1369.7,714.7 1370.0,714.8 C1370.3,714.9 1370.7,715.5 1371.0,714.8 C1371.3,714.2 1371.7,712.1 1372.0,710.7 C1372.3,709.3 1372.7,706.9 1373.0,706.4 C1373.3,705.9 1373.7,706.4 1374.0,707.5 C1374.3,708.5 1374.7,711.5 1375.0,712.9 C1375.3,714.2 1375.7,715.4 1376.0,715.6 C1376.3,715.7 1376.7,714.8 1377.0,713.8 C1377.3,712.7 1377.7,709.9 1378.0,709.2 C1378.3,708.6 1378.7,709.1 1379.0,710.0 C1379.3,710.9 1379.7,713.5 1380.0,714.8 C1380.3,716.1 1380.7,717.1 1381.0,717.7 C1381.3,718.4 1381.7,718.5 1382.0,718.8 C1382.3,719.1 1382.7,719.7 1383.0,719.5 C1383.3,719.3 1383.7,718.4 1384.0,717.8 C1384.3,717.2 1384.7,716.2 1385.0,715.9 C1385.3,715.7 1385.7,715.7 1386.0,716.3 C1386.3,716.9 1386.7,718.7 1387.0,719.3 C1387.3,720.0 1387.7,720.5 1388.0,720.2 C1388.3,719.9 1388.7,718.3 1389.0,717.4 C1389.3,716.4 1389.7,714.8 1390.0,714.6 C1390.3,714.3 1390.7,715.0 1391.0,715.8 C1391.3,716.6 1391.7,718.7 1392.0,719.4 C1392.3,720.1 1392.7,720.3 1393.0,720.0 C1393.3,719.8 1393.7,718.4 1394.0,717.7 C1394.3,717.0 1394.7,716.1 1395.0,715.8 C1395.3,715.4 1395.7,715.7 1396.0,715.8 C1396.3,715.9 1396.7,716.2 1397.0,716.3 C1397.3,716.3 1397.7,716.1 1398.0,716.1 C1398.3,716.0 1398.7,716.1 1399.0,716.0 C1399.3,716.0 1399.7,716.1 1400.0,715.6 C1400.3,715.2 1400.7,714.3 1401.0,713.4 C1401.3,712.5 1401.7,710.8 1402.0,710.2 C1402.3,709.6 1402.7,709.4 1403.0,709.8 C1403.3,710.2 1403.7,712.2 1404.0,712.7 C1404.3,713.2 1404.7,713.5 1405.0,712.9 C1405.3,712.4 1405.7,710.4 1406.0,709.2 C1406.3,707.9 1406.7,706.1 1407.0,705.7 C1407.3,705.3 1407.7,706.2 1408.0,706.9 C1408.3,707.6 1408.7,709.4 1409.0,709.9 C1409.3,710.5 1409.7,710.5 1410.0,710.1 C1410.3,709.7 1410.7,708.1 1411.0,707.4 C1411.3,706.7 1411.7,706.0 1412.0,705.9 C1412.3,705.7 1412.7,706.3 1413.0,706.5 C1413.3,706.7 1413.7,707.0 1414.0,707.2 C1414.3,707.3 1414.7,707.2 1415.0,707.2 C1415.3,707.2 1415.7,707.3 1416.0,707.3 C1416.3,707.3 1416.7,707.5 1417.0,707.2 C1417.3,706.9 1417.7,706.1 1418.0,705.6 C1418.3,705.0 1418.7,704.2 1419.0,704.1 C1419.3,704.0 1419.7,704.6 1420.0,705.1 C1420.3,705.7 1420.7,707.3 1421.0,707.5 C1421.3,707.8 1421.7,707.5 1422.0,706.8 C1422.3,706.1 1422.7,704.3 1423.0,703.4 C1423.3,702.5 1423.7,701.3 1424.0,701.3 C1424.3,701.3 1424.7,702.6 1425.0,703.2 C1425.3,703.9 1425.7,705.1 1426.0,705.2 C1426.3,705.3 1426.7,704.6 1427.0,703.9 C1427.3,703.2 1427.7,701.8 1428.0,701.1 C1428.3,700.5 1428.7,700.1 1429.0,700.0 C1429.3,700.0 1429.7,700.5 1430.0,700.6 C1430.3,700.7 1430.7,700.9 1431.0,700.9 C1431.3,700.8 1431.7,700.6 1432.0,700.4 C1432.3,700.3 1432.7,700.4 1433.0,700.2 C1433.3,700.0 1433.7,699.7 1434.0,699.3 C1434.3,698.8 1434.7,698.1 1435.0,697.8 C1435.3,697.4 1435.7,697.0 1436.0,697.1 C1436.3,697.1 1436.7,697.7 1437.0,698.2 C1437.3,698.7 1437.7,699.8 1438.0,700.1 C1438.3,700.4 1438.7,699.7 1439.0,699.9 C1439.3,700.1 1439.8,700.9 1440.0,701.1" stroke="#dcb000" stroke-width="2.3"/>
<path d="M216.0,368.2 L225.1,368.8 L288.8,373.2 L338.3,377.6 L378.9,381.4 L412.8,384.9 L450.6,386.8 L488.4,386.2 L500.0,386.6" stroke="#f0a000" stroke-width="2.3"/>
<path d="M500.0,386.6 C506.7,386.7 528.5,386.1 540.2,387.2 C551.9,388.3 560.3,390.7 570.3,393.2 C580.3,395.7 590.4,398.7 600.4,402.2 C610.4,405.7 620.5,410.6 630.5,414.3 C640.5,418.0 652.2,422.3 660.6,424.3 C669.0,426.3 674.0,426.5 680.7,426.3 C687.4,426.1 694.1,424.6 700.8,423.3 C707.5,422.0 714.2,419.8 720.9,418.3 C727.6,416.8 734.3,414.5 741.0,414.3 C747.7,414.1 754.3,416.3 761.0,417.3 C767.7,418.3 776.3,420.0 781.1,420.3 C785.9,420.6 786.4,420.2 790.0,419.4 C793.6,418.6 798.4,417.3 802.6,415.6 C806.8,413.9 811.4,411.5 815.2,409.3 C819.0,407.1 822.4,403.9 825.3,402.4 C828.2,400.9 830.3,400.2 832.8,400.5 C835.3,400.8 837.9,402.4 840.4,404.3 C842.9,406.2 845.5,409.3 848.0,411.8 C850.5,414.3 853.0,417.4 855.5,419.4 C858.0,421.4 860.6,422.9 863.1,423.8 C865.6,424.8 868.2,425.4 870.7,425.1 C873.2,424.8 875.3,423.3 878.2,421.9 C881.1,420.5 885.1,418.1 888.3,416.9 C891.4,415.6 894.6,414.2 897.1,414.4 C899.6,414.6 901.3,415.8 903.4,418.1 C905.5,420.4 907.6,424.8 909.7,428.2 C911.8,431.6 913.9,435.4 916.0,438.3 C918.1,441.2 920.2,444.0 922.3,445.9 C924.4,447.8 926.9,448.7 928.6,449.4 C930.3,450.1 930.9,450.3 932.4,449.9 C933.9,449.5 935.5,449.2 937.4,447.1 C939.3,445.0 941.7,440.9 943.7,437.0 C945.7,433.1 948.0,427.8 949.5,424.0 C951.0,420.2 951.5,418.5 952.5,414.0 C953.5,409.5 954.4,404.3 955.5,397.0 C956.6,389.7 958.2,378.0 959.3,370.0 C960.4,362.0 961.0,355.1 961.9,349.0 C962.8,342.9 963.7,337.1 964.6,333.5 C965.5,329.9 966.4,328.0 967.3,327.3 C968.2,326.6 969.2,327.6 970.1,329.4 C971.0,331.2 971.8,334.8 972.8,338.3 C973.8,341.8 975.0,346.6 976.2,350.5 C977.5,354.4 978.9,358.5 980.3,361.5 C981.7,364.5 982.9,366.7 984.4,368.3 C985.9,369.9 987.5,371.0 989.2,371.0 C990.9,371.0 992.8,370.1 994.6,368.3 C996.4,366.5 998.3,363.5 1000.1,360.1 C1001.9,356.7 1004.0,350.8 1005.6,347.8 C1007.2,344.8 1007.6,344.9 1009.7,342.3 C1011.8,339.7 1015.5,336.6 1018.0,332.0 C1020.5,327.4 1022.8,320.3 1025.0,315.0 C1027.2,309.7 1029.0,304.5 1031.0,300.0 C1033.0,295.5 1035.3,290.3 1037.0,288.0 C1038.7,285.7 1039.7,284.3 1041.0,286.0 C1042.3,287.7 1043.7,292.7 1045.0,298.0 C1046.3,303.3 1047.7,312.3 1049.0,318.0 C1050.3,323.7 1051.5,328.7 1053.0,332.0 C1054.5,335.3 1056.3,337.7 1058.0,338.0 C1059.7,338.3 1061.3,336.7 1063.0,334.0 C1064.7,331.3 1066.5,326.3 1068.0,322.0 C1069.5,317.7 1070.8,311.7 1072.0,308.0 C1073.2,304.3 1074.0,300.5 1075.0,300.0 C1076.0,299.5 1077.0,301.3 1078.0,305.0 C1079.0,308.7 1080.0,315.8 1081.0,322.0 C1082.0,328.2 1083.0,335.7 1084.0,342.0 C1085.0,348.3 1086.0,354.4 1087.0,360.0 C1088.0,365.6 1088.6,370.2 1090.0,375.5 C1091.4,380.8 1093.7,387.6 1095.5,391.9 C1097.3,396.2 1099.1,399.3 1100.9,401.4 C1102.7,403.4 1104.6,403.5 1106.4,404.2 C1108.2,404.9 1110.2,403.9 1111.8,405.5 C1113.4,407.1 1114.5,410.7 1115.9,413.7 C1117.3,416.7 1118.6,421.2 1120.0,423.3 C1121.4,425.4 1122.7,426.7 1124.1,426.0 C1125.5,425.3 1126.8,423.5 1128.2,419.2 C1129.6,414.9 1130.9,406.9 1132.3,400.1 C1133.7,393.3 1135.0,383.7 1136.4,378.2 C1137.8,372.7 1139.1,368.0 1140.5,367.3 C1141.9,366.6 1143.2,370.9 1144.6,374.1 C1146.0,377.3 1147.3,385.7 1148.7,386.4 C1150.1,387.1 1151.4,381.8 1152.8,378.2 C1154.2,374.6 1155.5,366.4 1156.9,364.6 C1158.3,362.8 1159.6,364.6 1161.0,367.3 C1162.4,370.0 1163.7,376.9 1165.1,381.0 C1166.5,385.1 1167.8,390.5 1169.2,391.9 C1170.6,393.3 1172.0,391.9 1173.3,389.2 C1174.6,386.5 1175.9,380.1 1177.3,375.5 C1178.7,370.9 1180.0,365.5 1181.4,361.9 C1182.8,358.3 1184.1,355.5 1185.5,353.7 C1186.9,351.9 1188.2,350.8 1189.6,351.0 C1191.0,351.2 1192.3,351.6 1193.7,355.0 C1195.1,358.4 1196.8,367.1 1197.8,371.4 C1198.8,375.7 1199.5,380.3 1200.0,381.0 C1200.5,381.7 1200.7,377.4 1201.0,375.5 C1201.3,373.6 1201.7,371.6 1202.0,369.4 C1202.3,367.2 1202.7,364.2 1203.0,362.2 C1203.3,360.3 1203.7,358.6 1204.0,357.6 C1204.3,356.6 1204.7,356.3 1205.0,356.4 C1205.3,356.5 1205.7,356.9 1206.0,358.0 C1206.3,359.1 1206.7,360.9 1207.0,362.9 C1207.3,365.0 1207.7,368.0 1208.0,370.3 C1208.3,372.7 1208.7,374.6 1209.0,377.0 C1209.3,379.4 1209.7,382.5 1210.0,384.8 C1210.3,387.1 1210.7,389.1 1211.0,390.8 C1211.3,392.4 1211.7,393.8 1212.0,395.0 C1212.3,396.2 1212.7,397.4 1213.0,398.0 C1213.3,398.5 1213.7,398.4 1214.0,398.2 C1214.3,398.0 1214.7,397.6 1215.0,396.6 C1215.3,395.7 1215.7,394.3 1216.0,392.5 C1216.3,390.7 1216.7,388.0 1217.0,385.7 C1217.3,383.4 1217.7,380.6 1218.0,378.7 C1218.3,376.8 1218.7,375.3 1219.0,374.2 C1219.3,373.2 1219.7,371.5 1220.0,372.4 C1220.3,373.4 1220.7,376.4 1221.0,379.9 C1221.3,383.3 1221.7,387.8 1222.0,393.3 C1222.3,398.7 1222.7,405.5 1223.0,412.3 C1223.3,419.2 1223.7,427.2 1224.0,434.1 C1224.3,441.0 1224.7,448.2 1225.0,453.7 C1225.3,459.2 1225.7,463.8 1226.0,467.2 C1226.3,470.6 1226.7,473.5 1227.0,474.0 C1227.3,474.5 1227.7,472.7 1228.0,470.1 C1228.3,467.5 1228.7,463.0 1229.0,458.3 C1229.3,453.7 1229.7,447.8 1230.0,442.3 C1230.3,436.9 1230.7,430.7 1231.0,425.8 C1231.3,420.9 1231.7,416.0 1232.0,412.9 C1232.3,409.7 1232.7,407.7 1233.0,407.1 C1233.3,406.5 1233.7,407.5 1234.0,409.3 C1234.3,411.1 1234.7,414.0 1235.0,417.9 C1235.3,421.7 1235.7,427.7 1236.0,432.5 C1236.3,437.2 1236.7,442.6 1237.0,446.6 C1237.3,450.5 1237.7,453.4 1238.0,456.2 C1238.3,459.0 1238.7,461.6 1239.0,463.5 C1239.3,465.4 1239.7,467.0 1240.0,467.8 C1240.3,468.7 1240.7,468.5 1241.0,468.8 C1241.3,469.1 1241.7,469.5 1242.0,469.7 C1242.3,469.8 1242.7,469.9 1243.0,469.6 C1243.3,469.3 1243.7,468.6 1244.0,467.9 C1244.3,467.2 1244.7,466.1 1245.0,465.2 C1245.3,464.4 1245.7,463.9 1246.0,462.9 C1246.3,461.9 1246.7,459.6 1247.0,459.1 C1247.3,458.7 1247.7,459.4 1248.0,460.1 C1248.3,460.9 1248.7,461.9 1249.0,463.6 C1249.3,465.2 1249.7,466.9 1250.0,469.9 C1250.3,472.9 1250.7,477.5 1251.0,481.5 C1251.3,485.5 1251.7,489.8 1252.0,493.9 C1252.3,498.0 1252.7,502.4 1253.0,506.1 C1253.3,509.8 1253.7,514.6 1254.0,516.3 C1254.3,517.9 1254.7,517.2 1255.0,516.2 C1255.3,515.1 1255.7,512.8 1256.0,509.9 C1256.3,507.1 1256.7,502.9 1257.0,498.9 C1257.3,495.0 1257.7,490.2 1258.0,486.2 C1258.3,482.2 1258.7,477.4 1259.0,475.0 C1259.3,472.7 1259.7,471.9 1260.0,472.1 C1260.3,472.2 1260.7,473.0 1261.0,475.7 C1261.3,478.4 1261.7,483.5 1262.0,488.3 C1262.3,493.2 1262.7,499.5 1263.0,504.8 C1263.3,510.2 1263.7,516.2 1264.0,520.4 C1264.3,524.6 1264.7,527.7 1265.0,530.0 C1265.3,532.2 1265.7,533.8 1266.0,534.0 C1266.3,534.1 1266.7,532.8 1267.0,531.0 C1267.3,529.1 1267.7,525.7 1268.0,522.7 C1268.3,519.6 1268.7,516.0 1269.0,512.8 C1269.3,509.7 1269.7,506.5 1270.0,503.9 C1270.3,501.3 1270.7,498.7 1271.0,497.3 C1271.3,495.9 1271.7,495.3 1272.0,495.3 C1272.3,495.3 1272.7,496.3 1273.0,497.2 C1273.3,498.1 1273.7,499.4 1274.0,500.9 C1274.3,502.5 1274.7,504.3 1275.0,506.3 C1275.3,508.3 1275.7,510.8 1276.0,513.0 C1276.3,515.2 1276.7,517.0 1277.0,519.5 C1277.3,522.0 1277.7,524.6 1278.0,527.9 C1278.3,531.1 1278.7,535.6 1279.0,539.0 C1279.3,542.4 1279.7,545.3 1280.0,548.1 C1280.3,550.9 1280.7,554.1 1281.0,555.9 C1281.3,557.7 1281.7,559.2 1282.0,558.8 C1282.3,558.4 1282.7,556.4 1283.0,553.3 C1283.3,550.2 1283.7,545.4 1284.0,540.2 C1284.3,535.0 1284.7,528.5 1285.0,522.2 C1285.3,515.9 1285.7,507.8 1286.0,502.3 C1286.3,496.7 1286.7,492.0 1287.0,488.7 C1287.3,485.4 1287.7,482.3 1288.0,482.3 C1288.3,482.4 1288.7,485.3 1289.0,489.0 C1289.3,492.8 1289.7,498.6 1290.0,504.8 C1290.3,511.0 1290.7,518.7 1291.0,526.3 C1291.3,533.9 1291.7,542.9 1292.0,550.2 C1292.3,557.5 1292.7,564.6 1293.0,570.1 C1293.3,575.7 1293.7,580.5 1294.0,583.5 C1294.3,586.5 1294.7,588.4 1295.0,588.3 C1295.3,588.1 1295.7,585.2 1296.0,582.6 C1296.3,580.1 1296.7,576.6 1297.0,572.9 C1297.3,569.3 1297.7,564.7 1298.0,560.7 C1298.3,556.7 1298.7,551.7 1299.0,548.9 C1299.3,546.1 1299.7,545.1 1300.0,543.8 C1300.3,542.5 1300.7,541.6 1301.0,541.2 C1301.3,540.9 1301.7,541.4 1302.0,541.8 C1302.3,542.3 1302.7,543.2 1303.0,543.8 C1303.3,544.5 1303.7,545.0 1304.0,545.6 C1304.3,546.2 1304.7,546.4 1305.0,547.5 C1305.3,548.6 1305.7,550.2 1306.0,552.4 C1306.3,554.7 1306.7,557.6 1307.0,561.0 C1307.3,564.4 1307.7,568.5 1308.0,573.0 C1308.3,577.5 1308.7,583.2 1309.0,588.0 C1309.3,592.9 1309.7,598.1 1310.0,602.2 C1310.3,606.4 1310.7,610.1 1311.0,613.0 C1311.3,615.8 1311.7,618.2 1312.0,619.3 C1312.3,620.4 1312.7,621.0 1313.0,619.6 C1313.3,618.2 1313.7,613.8 1314.0,611.0 C1314.3,608.2 1314.7,605.2 1315.0,602.6 C1315.3,600.0 1315.7,597.0 1316.0,595.3 C1316.3,593.5 1316.7,592.0 1317.0,592.0 C1317.3,592.1 1317.7,592.9 1318.0,595.4 C1318.3,597.9 1318.7,603.0 1319.0,607.0 C1319.3,611.0 1319.7,615.0 1320.0,619.6 C1320.3,624.1 1320.7,629.9 1321.0,634.3 C1321.3,638.7 1321.7,643.0 1322.0,645.9 C1322.3,648.8 1322.7,650.7 1323.0,651.9 C1323.3,653.1 1323.7,652.9 1324.0,653.2 C1324.3,653.4 1324.7,654.3 1325.0,653.2 C1325.3,652.2 1325.7,648.5 1326.0,646.8 C1326.3,645.0 1326.7,643.6 1327.0,642.5 C1327.3,641.4 1327.7,640.8 1328.0,640.2 C1328.3,639.6 1328.7,638.0 1329.0,638.9 C1329.3,639.9 1329.7,642.8 1330.0,645.7 C1330.3,648.7 1330.7,652.4 1331.0,656.8 C1331.3,661.2 1331.7,667.0 1332.0,672.0 C1332.3,677.0 1332.7,683.1 1333.0,686.7 C1333.3,690.3 1333.7,691.3 1334.0,693.6 C1334.3,695.9 1334.7,698.7 1335.0,700.2 C1335.3,701.8 1335.7,702.2 1336.0,702.9 C1336.3,703.5 1336.7,703.9 1337.0,704.3 C1337.3,704.7 1337.7,704.5 1338.0,705.1 C1338.3,705.7 1338.7,707.0 1339.0,707.9 C1339.3,708.9 1339.7,710.7 1340.0,710.8 C1340.3,710.9 1340.7,710.1 1341.0,708.5 C1341.3,706.8 1341.7,703.3 1342.0,701.0 C1342.3,698.6 1342.7,695.7 1343.0,694.4 C1343.3,693.2 1343.7,693.7 1344.0,693.5 C1344.3,693.3 1344.7,693.9 1345.0,693.3 C1345.3,692.8 1345.7,691.4 1346.0,690.3 C1346.3,689.2 1346.7,687.7 1347.0,686.7 C1347.3,685.7 1347.7,685.5 1348.0,684.3 C1348.3,683.2 1348.7,681.4 1349.0,679.9 C1349.3,678.4 1349.7,675.9 1350.0,675.3 C1350.3,674.8 1350.7,675.1 1351.0,676.5 C1351.3,678.0 1351.7,681.5 1352.0,684.1 C1352.3,686.7 1352.7,690.4 1353.0,692.2 C1353.3,694.0 1353.7,694.4 1354.0,694.9 C1354.3,695.4 1354.7,694.9 1355.0,695.4 C1355.3,696.0 1355.7,697.2 1356.0,698.3 C1356.3,699.3 1356.7,700.7 1357.0,701.7 C1357.3,702.7 1357.7,703.2 1358.0,704.3 C1358.3,705.3 1358.7,706.5 1359.0,708.1 C1359.3,709.7 1359.7,712.3 1360.0,713.8 C1360.3,715.4 1360.7,716.9 1361.0,717.2 C1361.3,717.5 1361.7,716.1 1362.0,715.5 C1362.3,714.8 1362.7,713.1 1363.0,713.1 C1363.3,713.0 1363.7,714.0 1364.0,715.1 C1364.3,716.3 1364.7,718.7 1365.0,719.8 C1365.3,720.8 1365.7,721.5 1366.0,721.6 C1366.3,721.7 1366.7,720.8 1367.0,720.5 C1367.3,720.1 1367.7,719.8 1368.0,719.4 C1368.3,719.0 1368.7,718.9 1369.0,718.2 C1369.3,717.6 1369.7,716.4 1370.0,715.6 C1370.3,714.7 1370.7,713.5 1371.0,713.3 C1371.3,713.2 1371.7,713.7 1372.0,714.6 C1372.3,715.5 1372.7,717.7 1373.0,718.6 C1373.3,719.4 1373.7,719.8 1374.0,719.5 C1374.3,719.1 1374.7,717.2 1375.0,716.3 C1375.3,715.5 1375.7,714.2 1376.0,714.4 C1376.3,714.7 1376.7,716.8 1377.0,717.6 C1377.3,718.5 1377.7,719.0 1378.0,719.4 C1378.3,719.8 1378.7,719.7 1379.0,720.0 C1379.3,720.3 1379.7,720.9 1380.0,721.4 C1380.3,721.8 1380.7,722.5 1381.0,722.7 C1381.3,722.9 1381.7,723.0 1382.0,722.7 C1382.3,722.4 1382.7,721.5 1383.0,721.0 C1383.3,720.5 1383.7,719.4 1384.0,719.6 C1384.3,719.8 1384.7,721.3 1385.0,722.1 C1385.3,722.8 1385.7,724.2 1386.0,724.2 C1386.3,724.1 1386.7,723.0 1387.0,721.7 C1387.3,720.5 1387.7,717.8 1388.0,716.7 C1388.3,715.7 1388.7,715.4 1389.0,715.6 C1389.3,715.8 1389.7,717.4 1390.0,718.1 C1390.3,718.7 1390.7,719.3 1391.0,719.4 C1391.3,719.5 1391.7,718.9 1392.0,718.8 C1392.3,718.7 1392.7,718.6 1393.0,718.7 C1393.3,718.9 1393.7,719.7 1394.0,719.6 C1394.3,719.6 1394.7,719.1 1395.0,718.4 C1395.3,717.7 1395.7,716.0 1396.0,715.5 C1396.3,715.1 1396.7,715.0 1397.0,715.7 C1397.3,716.3 1397.7,718.3 1398.0,719.3 C1398.3,720.2 1398.7,721.4 1399.0,721.4 C1399.3,721.4 1399.7,720.2 1400.0,719.4 C1400.3,718.5 1400.7,717.1 1401.0,716.4 C1401.3,715.8 1401.7,715.5 1402.0,715.4 C1402.3,715.3 1402.7,715.6 1403.0,715.7 C1403.3,715.8 1403.7,716.0 1404.0,716.2 C1404.3,716.4 1404.7,716.5 1405.0,716.8 C1405.3,717.0 1405.7,717.9 1406.0,717.9 C1406.3,718.0 1406.7,717.8 1407.0,717.1 C1407.3,716.3 1407.7,714.6 1408.0,713.6 C1408.3,712.5 1408.7,711.2 1409.0,711.0 C1409.3,710.8 1409.7,711.9 1410.0,712.6 C1410.3,713.4 1410.7,715.1 1411.0,715.6 C1411.3,716.1 1411.7,716.1 1412.0,715.6 C1412.3,715.1 1412.7,713.5 1413.0,712.7 C1413.3,711.8 1413.7,710.8 1414.0,710.3 C1414.3,709.8 1414.7,709.8 1415.0,709.6 C1415.3,709.3 1415.7,709.0 1416.0,708.9 C1416.3,708.7 1416.7,708.4 1417.0,708.6 C1417.3,708.7 1417.7,709.3 1418.0,709.7 C1418.3,710.1 1418.7,711.0 1419.0,710.9 C1419.3,710.7 1419.7,709.8 1420.0,708.7 C1420.3,707.7 1420.7,705.7 1421.0,704.7 C1421.3,703.8 1421.7,702.9 1422.0,703.0 C1422.3,703.2 1422.7,704.7 1423.0,705.5 C1423.3,706.2 1423.7,707.4 1424.0,707.7 C1424.3,707.9 1424.7,707.6 1425.0,707.2 C1425.3,706.8 1425.7,705.6 1426.0,705.1 C1426.3,704.5 1426.7,704.2 1427.0,703.9 C1427.3,703.7 1427.7,703.6 1428.0,703.5 C1428.3,703.3 1428.7,703.0 1429.0,703.1 C1429.3,703.2 1429.7,703.5 1430.0,704.0 C1430.3,704.6 1430.7,705.9 1431.0,706.4 C1431.3,706.9 1431.7,707.4 1432.0,707.0 C1432.3,706.7 1432.7,705.3 1433.0,704.4 C1433.3,703.5 1433.7,701.8 1434.0,701.5 C1434.3,701.2 1434.7,701.8 1435.0,702.4 C1435.3,703.1 1435.7,704.7 1436.0,705.3 C1436.3,705.9 1436.7,705.9 1437.0,705.8 C1437.3,705.7 1437.7,704.9 1438.0,704.7 C1438.3,704.4 1438.7,704.5 1439.0,704.6 C1439.3,704.6 1439.8,705.0 1440.0,705.1" stroke="#f0a000" stroke-width="2.3"/>
<path d="M216.0,330.1 L225.1,331.5 L288.8,346.7 L338.3,357.4 L378.9,365.4 L412.8,371.0 L450.6,374.2 L488.4,374.8 L500.0,376.1" stroke="#fa8c00" stroke-width="2.3"/>
<path d="M500.0,376.1 C505.0,376.5 520.1,376.5 530.1,378.2 C540.1,379.9 551.8,383.5 560.2,386.2 C568.6,388.9 573.6,390.8 580.3,394.2 C587.0,397.6 593.7,402.1 600.4,406.3 C607.1,410.5 613.8,415.1 620.5,419.3 C627.2,423.5 633.9,428.0 640.6,431.4 C647.3,434.8 653.9,437.6 660.6,439.4 C667.3,441.2 674.0,442.2 680.7,442.0 C687.4,441.8 694.8,440.3 700.8,438.4 C706.8,436.5 711.9,433.9 716.9,430.4 C721.9,426.9 726.2,422.3 730.9,417.3 C735.6,412.3 740.6,404.6 745.0,400.2 C749.4,395.8 754.0,393.1 757.0,391.2 C760.0,389.3 760.8,388.5 763.1,388.8 C765.5,389.1 768.1,391.0 771.1,393.2 C774.1,395.4 778.0,399.0 781.1,402.2 C784.2,405.4 786.9,410.2 790.0,412.5 C793.1,414.8 796.9,415.7 800.0,416.0 C803.1,416.3 805.3,415.9 808.9,414.4 C812.5,412.9 817.3,409.6 821.5,406.8 C825.7,404.0 830.3,399.7 834.1,397.3 C837.9,394.9 841.1,393.2 844.2,392.7 C847.4,392.2 850.3,393.1 853.0,394.2 C855.7,395.3 858.1,396.9 860.6,399.2 C863.1,401.5 865.6,405.2 868.1,408.1 C870.6,411.1 873.2,414.9 875.7,416.9 C878.2,418.9 880.8,420.0 883.3,420.0 C885.8,420.0 888.3,418.1 890.8,416.9 C893.3,415.6 895.9,413.7 898.4,412.5 C900.9,411.3 903.4,409.8 905.9,409.9 C908.4,410.0 911.0,411.7 913.5,413.1 C916.0,414.5 918.6,416.7 921.1,418.1 C923.6,419.5 926.1,421.1 928.6,421.3 C931.1,421.5 934.3,420.6 936.2,419.4 C938.1,418.2 938.5,416.2 940.0,414.1 C941.5,412.0 943.7,409.9 945.5,406.6 C947.3,403.3 949.1,399.3 950.9,394.3 C952.7,389.3 954.8,382.2 956.4,376.5 C958.0,370.8 959.1,366.0 960.5,360.1 C961.9,354.2 963.4,345.9 964.6,341.0 C965.9,336.1 967.0,331.6 968.0,330.7 C969.0,329.8 969.7,332.6 970.7,335.5 C971.7,338.4 972.9,343.7 974.2,347.8 C975.5,351.9 976.9,356.9 978.3,360.1 C979.6,363.3 980.7,365.5 982.3,366.9 C983.9,368.3 985.8,368.8 987.8,368.3 C989.8,367.9 992.3,366.5 994.6,364.2 C996.9,361.9 999.5,358.0 1001.5,354.6 C1003.5,351.2 1005.3,346.0 1006.9,343.7 C1008.5,341.4 1009.5,342.4 1011.0,341.0 C1012.5,339.6 1014.0,338.5 1016.0,335.0 C1018.0,331.5 1020.7,325.1 1023.0,320.0 C1025.3,314.9 1027.9,309.2 1029.7,304.1 C1031.5,299.0 1032.8,294.3 1034.1,289.4 C1035.4,284.5 1036.7,277.8 1037.8,274.7 C1038.9,271.6 1039.7,270.8 1040.7,271.0 C1041.7,271.2 1042.7,272.6 1043.7,276.2 C1044.7,279.8 1045.6,286.8 1046.6,292.4 C1047.6,298.0 1048.6,304.9 1049.6,310.0 C1050.6,315.1 1051.5,319.5 1052.5,323.2 C1053.5,326.9 1054.3,330.0 1055.4,332.1 C1056.5,334.2 1057.9,335.2 1059.1,335.7 C1060.3,336.2 1061.6,336.1 1062.8,335.0 C1064.0,333.9 1065.3,332.3 1066.5,329.1 C1067.7,325.9 1069.0,320.5 1070.1,315.9 C1071.2,311.2 1072.2,304.9 1073.1,301.2 C1074.0,297.5 1074.8,294.3 1075.6,293.8 C1076.4,293.3 1077.4,295.2 1078.2,298.2 C1079.0,301.1 1079.7,306.4 1080.4,311.5 C1081.1,316.6 1081.8,323.2 1082.6,329.1 C1083.3,335.0 1084.0,340.7 1084.9,346.8 C1085.8,352.9 1087.0,358.4 1087.8,365.9 C1088.6,373.4 1089.0,385.8 1090.0,391.9 C1091.0,398.0 1092.5,399.6 1094.1,402.8 C1095.7,406.0 1097.8,408.7 1099.6,411.0 C1101.4,413.3 1103.2,415.2 1105.0,416.5 C1106.8,417.8 1108.8,418.7 1110.5,418.5 C1112.2,418.3 1113.7,417.5 1115.2,415.1 C1116.7,412.7 1117.9,408.1 1119.3,404.2 C1120.7,400.3 1121.9,395.8 1123.4,391.9 C1124.9,388.0 1126.5,384.0 1128.2,381.0 C1129.9,378.0 1132.1,375.9 1133.7,374.1 C1135.3,372.3 1136.4,373.1 1137.8,370.1 C1139.2,367.2 1140.7,360.5 1141.9,356.4 C1143.2,352.3 1144.4,347.8 1145.3,345.5 C1146.2,343.2 1146.5,342.4 1147.3,342.8 C1148.1,343.2 1149.2,345.5 1150.1,348.2 C1151.0,350.9 1152.0,357.7 1152.8,359.1 C1153.6,360.5 1154.0,357.5 1154.8,356.4 C1155.6,355.3 1156.7,352.8 1157.6,352.3 C1158.5,351.9 1159.3,351.2 1160.3,353.7 C1161.3,356.2 1162.6,362.3 1163.7,367.3 C1164.8,372.3 1166.0,379.1 1167.1,383.7 C1168.2,388.2 1169.2,393.2 1170.5,394.6 C1171.8,396.0 1173.2,394.2 1174.6,391.9 C1176.0,389.6 1177.3,384.0 1178.7,381.0 C1180.1,378.0 1181.4,376.4 1182.8,374.1 C1184.2,371.8 1185.5,370.7 1186.9,367.3 C1188.3,363.9 1189.6,358.0 1191.0,353.7 C1192.4,349.4 1194.0,344.1 1195.1,341.4 C1196.2,338.7 1197.0,337.5 1197.8,337.3 C1198.6,337.1 1199.5,336.1 1200.0,340.0 C1200.5,343.9 1200.7,354.4 1201.0,360.5 C1201.3,366.6 1201.7,372.1 1202.0,376.4 C1202.3,380.7 1202.7,384.4 1203.0,386.3 C1203.3,388.2 1203.7,388.6 1204.0,387.8 C1204.3,387.0 1204.7,384.2 1205.0,381.3 C1205.3,378.5 1205.7,374.7 1206.0,370.7 C1206.3,366.8 1206.7,361.4 1207.0,357.7 C1207.3,353.9 1207.7,350.4 1208.0,348.2 C1208.3,346.0 1208.7,344.6 1209.0,344.3 C1209.3,344.0 1209.7,344.6 1210.0,346.5 C1210.3,348.3 1210.7,352.4 1211.0,355.6 C1211.3,358.9 1211.7,362.5 1212.0,366.1 C1212.3,369.6 1212.7,373.6 1213.0,377.0 C1213.3,380.4 1213.7,383.8 1214.0,386.7 C1214.3,389.5 1214.7,391.9 1215.0,394.1 C1215.3,396.4 1215.7,398.5 1216.0,400.4 C1216.3,402.4 1216.7,404.5 1217.0,405.9 C1217.3,407.4 1217.7,408.2 1218.0,408.9 C1218.3,409.6 1218.7,410.7 1219.0,410.2 C1219.3,409.8 1219.7,408.2 1220.0,406.3 C1220.3,404.3 1220.7,401.1 1221.0,398.6 C1221.3,396.0 1221.7,393.3 1222.0,390.9 C1222.3,388.5 1222.7,385.2 1223.0,384.2 C1223.3,383.2 1223.7,383.1 1224.0,384.8 C1224.3,386.5 1224.7,389.9 1225.0,394.3 C1225.3,398.6 1225.7,405.0 1226.0,411.2 C1226.3,417.4 1226.7,424.9 1227.0,431.6 C1227.3,438.3 1227.7,446.5 1228.0,451.3 C1228.3,456.2 1228.7,459.0 1229.0,460.9 C1229.3,462.7 1229.7,463.4 1230.0,462.3 C1230.3,461.1 1230.7,458.3 1231.0,453.8 C1231.3,449.3 1231.7,441.9 1232.0,435.3 C1232.3,428.7 1232.7,419.7 1233.0,414.2 C1233.3,408.7 1233.7,403.2 1234.0,402.1 C1234.3,401.0 1234.7,404.0 1235.0,407.8 C1235.3,411.6 1235.7,419.2 1236.0,425.1 C1236.3,431.1 1236.7,438.4 1237.0,443.5 C1237.3,448.6 1237.7,452.0 1238.0,455.5 C1238.3,459.1 1238.7,462.4 1239.0,464.9 C1239.3,467.3 1239.7,469.2 1240.0,470.4 C1240.3,471.7 1240.7,471.9 1241.0,472.3 C1241.3,472.7 1241.7,472.5 1242.0,472.7 C1242.3,473.0 1242.7,474.0 1243.0,473.8 C1243.3,473.6 1243.7,472.8 1244.0,471.6 C1244.3,470.4 1244.7,468.9 1245.0,466.7 C1245.3,464.5 1245.7,461.8 1246.0,458.4 C1246.3,455.0 1246.7,450.4 1247.0,446.4 C1247.3,442.3 1247.7,436.9 1248.0,434.2 C1248.3,431.4 1248.7,429.7 1249.0,429.8 C1249.3,429.9 1249.7,430.8 1250.0,434.6 C1250.3,438.3 1250.7,444.8 1251.0,452.4 C1251.3,460.0 1251.7,470.6 1252.0,480.1 C1252.3,489.6 1252.7,500.4 1253.0,509.5 C1253.3,518.5 1253.7,527.6 1254.0,534.1 C1254.3,540.6 1254.7,546.2 1255.0,548.4 C1255.3,550.6 1255.7,549.3 1256.0,547.3 C1256.3,545.3 1256.7,541.3 1257.0,536.3 C1257.3,531.3 1257.7,524.1 1258.0,517.5 C1258.3,511.0 1258.7,502.9 1259.0,496.8 C1259.3,490.8 1259.7,485.2 1260.0,481.3 C1260.3,477.4 1260.7,474.9 1261.0,473.2 C1261.3,471.5 1261.7,470.9 1262.0,470.9 C1262.3,471.0 1262.7,472.3 1263.0,473.6 C1263.3,475.0 1263.7,476.9 1264.0,479.0 C1264.3,481.0 1264.7,483.1 1265.0,485.9 C1265.3,488.8 1265.7,492.4 1266.0,496.2 C1266.3,500.0 1266.7,504.5 1267.0,508.9 C1267.3,513.2 1267.7,517.7 1268.0,522.1 C1268.3,526.5 1268.7,531.3 1269.0,535.2 C1269.3,539.1 1269.7,543.6 1270.0,545.6 C1270.3,547.6 1270.7,548.0 1271.0,547.1 C1271.3,546.2 1271.7,543.7 1272.0,540.1 C1272.3,536.6 1272.7,531.0 1273.0,525.6 C1273.3,520.2 1273.7,513.4 1274.0,507.8 C1274.3,502.3 1274.7,495.6 1275.0,492.3 C1275.3,489.0 1275.7,487.8 1276.0,488.1 C1276.3,488.3 1276.7,490.2 1277.0,493.6 C1277.3,497.0 1277.7,502.9 1278.0,508.5 C1278.3,514.1 1278.7,521.4 1279.0,527.2 C1279.3,533.0 1279.7,539.4 1280.0,543.2 C1280.3,547.1 1280.7,549.3 1281.0,550.5 C1281.3,551.6 1281.7,551.5 1282.0,550.2 C1282.3,548.9 1282.7,545.8 1283.0,542.8 C1283.3,539.7 1283.7,535.2 1284.0,532.0 C1284.3,528.8 1284.7,526.0 1285.0,523.7 C1285.3,521.4 1285.7,519.3 1286.0,518.1 C1286.3,516.9 1286.7,516.5 1287.0,516.3 C1287.3,516.1 1287.7,516.3 1288.0,516.7 C1288.3,517.1 1288.7,518.0 1289.0,518.7 C1289.3,519.4 1289.7,519.9 1290.0,520.9 C1290.3,521.9 1290.7,523.0 1291.0,525.0 C1291.3,526.9 1291.7,529.3 1292.0,532.5 C1292.3,535.7 1292.7,540.1 1293.0,544.4 C1293.3,548.6 1293.7,553.7 1294.0,558.2 C1294.3,562.8 1294.7,567.8 1295.0,571.6 C1295.3,575.5 1295.7,579.7 1296.0,581.3 C1296.3,582.8 1296.7,582.3 1297.0,580.9 C1297.3,579.5 1297.7,577.3 1298.0,572.9 C1298.3,568.6 1298.7,561.0 1299.0,554.7 C1299.3,548.4 1299.7,540.9 1300.0,535.2 C1300.3,529.6 1300.7,524.1 1301.0,521.0 C1301.3,517.8 1301.7,515.8 1302.0,516.4 C1302.3,517.1 1302.7,519.9 1303.0,524.8 C1303.3,529.6 1303.7,538.2 1304.0,545.6 C1304.3,553.0 1304.7,561.5 1305.0,569.1 C1305.3,576.8 1305.7,585.4 1306.0,591.6 C1306.3,597.8 1306.7,603.2 1307.0,606.3 C1307.3,609.3 1307.7,609.8 1308.0,609.8 C1308.3,609.9 1308.7,608.1 1309.0,606.5 C1309.3,604.8 1309.7,602.1 1310.0,599.9 C1310.3,597.8 1310.7,595.2 1311.0,593.4 C1311.3,591.5 1311.7,589.9 1312.0,588.9 C1312.3,587.8 1312.7,587.6 1313.0,587.0 C1313.3,586.4 1313.7,585.7 1314.0,585.4 C1314.3,585.2 1314.7,585.3 1315.0,585.5 C1315.3,585.8 1315.7,586.4 1316.0,587.0 C1316.3,587.7 1316.7,588.1 1317.0,589.5 C1317.3,590.9 1317.7,592.3 1318.0,595.3 C1318.3,598.4 1318.7,603.4 1319.0,607.8 C1319.3,612.2 1319.7,617.0 1320.0,621.7 C1320.3,626.4 1320.7,631.3 1321.0,635.9 C1321.3,640.5 1321.7,646.0 1322.0,649.4 C1322.3,652.8 1322.7,655.3 1323.0,656.5 C1323.3,657.7 1323.7,657.0 1324.0,656.6 C1324.3,656.3 1324.7,655.5 1325.0,654.5 C1325.3,653.5 1325.7,651.9 1326.0,650.8 C1326.3,649.7 1326.7,648.0 1327.0,647.9 C1327.3,647.9 1327.7,649.3 1328.0,650.6 C1328.3,651.9 1328.7,654.1 1329.0,655.6 C1329.3,657.2 1329.7,658.1 1330.0,659.6 C1330.3,661.1 1330.7,663.7 1331.0,664.6 C1331.3,665.4 1331.7,665.0 1332.0,664.8 C1332.3,664.6 1332.7,662.5 1333.0,663.3 C1333.3,664.1 1333.7,667.2 1334.0,669.6 C1334.3,672.0 1334.7,674.2 1335.0,677.5 C1335.3,680.8 1335.7,686.0 1336.0,689.6 C1336.3,693.2 1336.7,696.5 1337.0,699.3 C1337.3,702.0 1337.7,704.1 1338.0,706.1 C1338.3,708.0 1338.7,710.0 1339.0,710.9 C1339.3,711.7 1339.7,711.4 1340.0,711.0 C1340.3,710.6 1340.7,710.1 1341.0,708.4 C1341.3,706.7 1341.7,703.2 1342.0,700.9 C1342.3,698.6 1342.7,695.4 1343.0,694.6 C1343.3,693.8 1343.7,695.2 1344.0,696.1 C1344.3,696.9 1344.7,699.3 1345.0,699.5 C1345.3,699.7 1345.7,698.6 1346.0,697.2 C1346.3,695.8 1346.7,692.8 1347.0,691.1 C1347.3,689.4 1347.7,688.1 1348.0,687.0 C1348.3,685.8 1348.7,685.1 1349.0,684.3 C1349.3,683.6 1349.7,682.5 1350.0,682.6 C1350.3,682.6 1350.7,683.2 1351.0,684.7 C1351.3,686.3 1351.7,689.5 1352.0,692.1 C1352.3,694.6 1352.7,698.4 1353.0,700.0 C1353.3,701.7 1353.7,701.8 1354.0,702.0 C1354.3,702.1 1354.7,700.6 1355.0,700.8 C1355.3,701.0 1355.7,701.8 1356.0,703.1 C1356.3,704.3 1356.7,706.6 1357.0,708.0 C1357.3,709.5 1357.7,710.8 1358.0,711.9 C1358.3,713.0 1358.7,713.6 1359.0,714.5 C1359.3,715.5 1359.7,716.8 1360.0,717.7 C1360.3,718.6 1360.7,719.7 1361.0,719.8 C1361.3,719.9 1361.7,718.9 1362.0,718.2 C1362.3,717.6 1362.7,716.0 1363.0,715.9 C1363.3,715.8 1363.7,716.6 1364.0,717.6 C1364.3,718.7 1364.7,721.1 1365.0,722.2 C1365.3,723.2 1365.7,724.0 1366.0,723.9 C1366.3,723.8 1366.7,722.5 1367.0,721.8 C1367.3,721.1 1367.7,720.2 1368.0,719.7 C1368.3,719.1 1368.7,719.1 1369.0,718.6 C1369.3,718.2 1369.7,717.7 1370.0,717.2 C1370.3,716.7 1370.7,715.7 1371.0,715.6 C1371.3,715.5 1371.7,715.8 1372.0,716.6 C1372.3,717.4 1372.7,719.6 1373.0,720.5 C1373.3,721.3 1373.7,722.0 1374.0,721.8 C1374.3,721.6 1374.7,719.9 1375.0,719.3 C1375.3,718.6 1375.7,717.3 1376.0,717.7 C1376.3,718.0 1376.7,720.3 1377.0,721.3 C1377.3,722.3 1377.7,723.1 1378.0,723.7 C1378.3,724.2 1378.7,724.3 1379.0,724.7 C1379.3,725.1 1379.7,725.7 1380.0,726.2 C1380.3,726.8 1380.7,727.5 1381.0,727.8 C1381.3,728.1 1381.7,728.3 1382.0,728.1 C1382.3,727.8 1382.7,726.9 1383.0,726.4 C1383.3,725.8 1383.7,724.6 1384.0,724.7 C1384.3,724.9 1384.7,726.4 1385.0,727.1 C1385.3,727.8 1385.7,729.3 1386.0,729.2 C1386.3,729.2 1386.7,728.2 1387.0,726.9 C1387.3,725.7 1387.7,723.0 1388.0,721.9 C1388.3,720.8 1388.7,720.4 1389.0,720.4 C1389.3,720.4 1389.7,721.7 1390.0,722.0 C1390.3,722.4 1390.7,722.6 1391.0,722.5 C1391.3,722.5 1391.7,721.8 1392.0,721.7 C1392.3,721.7 1392.7,721.9 1393.0,722.2 C1393.3,722.5 1393.7,723.5 1394.0,723.4 C1394.3,723.3 1394.7,722.6 1395.0,721.6 C1395.3,720.7 1395.7,718.6 1396.0,717.9 C1396.3,717.2 1396.7,717.0 1397.0,717.5 C1397.3,718.0 1397.7,719.9 1398.0,720.9 C1398.3,721.8 1398.7,723.0 1399.0,723.2 C1399.3,723.3 1399.7,722.5 1400.0,721.9 C1400.3,721.4 1400.7,720.5 1401.0,720.0 C1401.3,719.5 1401.7,719.2 1402.0,718.8 C1402.3,718.4 1402.7,717.9 1403.0,717.7 C1403.3,717.4 1403.7,717.1 1404.0,717.3 C1404.3,717.5 1404.7,718.0 1405.0,718.7 C1405.3,719.4 1405.7,721.1 1406.0,721.5 C1406.3,722.0 1406.7,722.1 1407.0,721.4 C1407.3,720.8 1407.7,718.8 1408.0,717.7 C1408.3,716.6 1408.7,715.1 1409.0,714.8 C1409.3,714.5 1409.7,715.2 1410.0,715.8 C1410.3,716.3 1410.7,717.6 1411.0,718.0 C1411.3,718.4 1411.7,718.4 1412.0,718.3 C1412.3,718.1 1412.7,717.5 1413.0,717.2 C1413.3,716.8 1413.7,716.7 1414.0,716.3 C1414.3,715.9 1414.7,715.5 1415.0,714.7 C1415.3,713.9 1415.7,712.4 1416.0,711.7 C1416.3,711.0 1416.7,710.3 1417.0,710.5 C1417.3,710.6 1417.7,711.8 1418.0,712.5 C1418.3,713.2 1418.7,714.7 1419.0,714.8 C1419.3,714.9 1419.7,714.0 1420.0,713.1 C1420.3,712.2 1420.7,710.3 1421.0,709.4 C1421.3,708.4 1421.7,707.6 1422.0,707.3 C1422.3,707.1 1422.7,707.8 1423.0,708.0 C1423.3,708.2 1423.7,708.3 1424.0,708.4 C1424.3,708.5 1424.7,708.5 1425.0,708.6 C1425.3,708.8 1425.7,709.1 1426.0,709.2 C1426.3,709.3 1426.7,709.7 1427.0,709.4 C1427.3,709.1 1427.7,708.2 1428.0,707.5 C1428.3,706.7 1428.7,705.3 1429.0,705.0 C1429.3,704.7 1429.7,704.9 1430.0,705.4 C1430.3,706.0 1430.7,707.6 1431.0,708.3 C1431.3,709.0 1431.7,709.5 1432.0,709.5 C1432.3,709.4 1432.7,708.5 1433.0,708.0 C1433.3,707.6 1433.7,706.8 1434.0,706.6 C1434.3,706.4 1434.7,707.0 1435.0,707.1 C1435.3,707.1 1435.7,707.3 1436.0,707.1 C1436.3,707.0 1436.7,706.0 1437.0,705.9 C1437.3,705.8 1437.7,705.8 1438.0,706.3 C1438.3,706.8 1438.7,708.7 1439.0,709.0 C1439.3,709.3 1439.8,708.3 1440.0,708.1" stroke="#fa8c00" stroke-width="2.3"/>
<path d="M216.0,387.1 L225.1,386.8 L288.8,384.5 L338.3,382.4 L378.9,380.5 L412.8,378.6 L450.6,376.7 L488.4,376.1 L500.0,377.1" stroke="#fa7868" stroke-width="2.3"/>
<path d="M500.0,377.1 C503.3,377.6 511.6,378.2 520.0,380.2 C528.4,382.2 540.2,385.9 550.2,389.2 C560.2,392.5 570.3,396.3 580.3,400.2 C590.3,404.1 600.3,408.6 610.4,412.3 C620.5,416.0 632.2,420.1 640.6,422.3 C649.0,424.5 653.9,424.8 660.6,425.3 C667.3,425.8 674.0,426.1 680.7,425.3 C687.4,424.5 694.1,423.0 700.8,420.3 C707.5,417.6 714.9,413.0 720.9,409.3 C726.9,405.6 732.2,401.1 736.9,398.2 C741.6,395.3 745.3,393.4 749.0,392.2 C752.7,391.0 755.3,390.4 759.0,391.2 C762.7,392.0 766.8,394.7 771.1,397.2 C775.5,399.7 782.0,404.1 785.1,406.3 C788.2,408.5 787.1,409.1 790.0,410.6 C792.9,412.2 798.4,415.0 802.6,415.6 C806.8,416.2 811.0,415.9 815.2,414.4 C819.4,412.9 824.0,409.4 827.8,406.8 C831.6,404.2 834.9,400.5 837.9,398.6 C840.9,396.7 842.6,395.7 845.5,395.2 C848.4,394.7 852.6,394.4 855.5,395.5 C858.4,396.6 860.4,399.1 863.1,401.8 C865.8,404.5 869.0,408.7 871.9,411.8 C874.8,414.9 877.6,418.6 880.7,420.7 C883.9,422.8 887.4,423.6 890.8,424.4 C894.2,425.2 897.8,425.8 900.9,425.7 C904.0,425.6 906.8,424.4 909.7,423.8 C912.6,423.2 915.4,422.5 918.5,421.9 C921.6,421.3 925.6,420.8 928.6,420.0 C931.6,419.2 934.3,418.2 936.2,416.9 C938.1,415.6 938.5,414.6 940.0,412.0 C941.5,409.4 943.7,405.7 945.5,401.1 C947.3,396.6 949.1,390.6 950.9,384.7 C952.7,378.8 954.6,371.5 956.4,365.6 C958.2,359.7 960.2,353.6 961.9,349.2 C963.6,344.8 965.2,340.5 966.6,338.9 C968.0,337.3 968.8,337.7 970.1,339.6 C971.4,341.5 972.6,346.9 974.2,350.5 C975.8,354.1 977.8,358.3 979.6,361.5 C981.4,364.7 983.3,367.4 985.1,369.7 C986.9,372.0 988.7,374.1 990.5,375.1 C992.3,376.1 994.2,376.5 996.0,375.8 C997.8,375.1 999.7,373.4 1001.5,371.0 C1003.3,368.6 1005.1,365.4 1006.9,361.5 C1008.7,357.6 1010.4,352.7 1012.4,347.8 C1014.4,342.9 1016.7,337.3 1019.0,332.0 C1021.3,326.7 1023.8,320.7 1026.0,316.0 C1028.2,311.3 1030.0,307.3 1032.0,304.0 C1034.0,300.7 1036.2,297.0 1038.0,296.0 C1039.8,295.0 1041.3,295.3 1043.0,298.0 C1044.7,300.7 1046.3,307.3 1048.0,312.0 C1049.7,316.7 1051.3,322.7 1053.0,326.0 C1054.7,329.3 1056.3,331.3 1058.0,332.0 C1059.7,332.7 1061.3,332.0 1063.0,330.0 C1064.7,328.0 1066.3,323.0 1068.0,320.0 C1069.7,317.0 1071.5,312.3 1073.0,312.0 C1074.5,311.7 1075.7,314.2 1077.0,318.0 C1078.3,321.8 1079.7,328.8 1081.0,335.0 C1082.3,341.2 1083.5,349.1 1085.0,355.0 C1086.5,360.9 1088.2,366.5 1090.0,370.1 C1091.8,373.8 1093.7,375.1 1095.5,376.9 C1097.3,378.7 1099.1,381.5 1100.9,381.0 C1102.7,380.5 1104.6,375.0 1106.4,374.1 C1108.2,373.2 1110.0,373.9 1111.8,375.5 C1113.6,377.1 1115.5,381.9 1117.3,383.7 C1119.1,385.5 1121.0,387.3 1122.8,386.4 C1124.6,385.5 1126.4,380.9 1128.2,378.2 C1130.0,375.5 1132.1,372.6 1133.7,370.1 C1135.3,367.6 1136.5,366.4 1137.8,363.2 C1139.0,360.0 1140.2,353.7 1141.2,351.0 C1142.2,348.3 1143.0,346.9 1143.9,346.9 C1144.8,346.9 1145.6,348.5 1146.6,351.0 C1147.6,353.5 1148.8,358.3 1150.1,361.9 C1151.3,365.5 1152.8,370.1 1154.1,372.8 C1155.4,375.5 1156.8,378.0 1158.2,378.2 C1159.6,378.4 1160.9,375.5 1162.3,374.1 C1163.7,372.8 1165.0,369.4 1166.4,370.1 C1167.8,370.8 1169.1,375.0 1170.5,378.2 C1171.9,381.4 1173.2,387.1 1174.6,389.2 C1176.0,391.2 1177.3,391.4 1178.7,390.5 C1180.1,389.6 1181.4,386.9 1182.8,383.7 C1184.2,380.5 1185.5,376.2 1186.9,371.4 C1188.3,366.6 1189.6,359.3 1191.0,355.0 C1192.4,350.7 1193.6,346.2 1195.1,345.5 C1196.6,344.8 1199.0,350.9 1200.0,351.0 C1201.0,351.1 1200.7,348.0 1201.0,346.4 C1201.3,344.8 1201.7,343.1 1202.0,341.6 C1202.3,340.0 1202.7,338.0 1203.0,337.1 C1203.3,336.1 1203.7,335.8 1204.0,335.7 C1204.3,335.6 1204.7,336.1 1205.0,336.6 C1205.3,337.1 1205.7,337.4 1206.0,338.6 C1206.3,339.8 1206.7,342.1 1207.0,343.9 C1207.3,345.7 1207.7,347.3 1208.0,349.4 C1208.3,351.5 1208.7,354.0 1209.0,356.7 C1209.3,359.5 1209.7,362.7 1210.0,365.8 C1210.3,368.9 1210.7,372.2 1211.0,375.3 C1211.3,378.4 1211.7,381.8 1212.0,384.5 C1212.3,387.1 1212.7,389.9 1213.0,391.3 C1213.3,392.7 1213.7,393.0 1214.0,392.8 C1214.3,392.6 1214.7,392.0 1215.0,390.2 C1215.3,388.4 1215.7,384.9 1216.0,382.0 C1216.3,379.0 1216.7,374.9 1217.0,372.5 C1217.3,370.0 1217.7,368.1 1218.0,367.3 C1218.3,366.4 1218.7,365.8 1219.0,367.2 C1219.3,368.7 1219.7,372.1 1220.0,376.2 C1220.3,380.4 1220.7,386.4 1221.0,392.2 C1221.3,397.9 1221.7,405.0 1222.0,410.8 C1222.3,416.6 1222.7,422.5 1223.0,427.2 C1223.3,431.9 1223.7,436.8 1224.0,439.1 C1224.3,441.4 1224.7,441.0 1225.0,441.0 C1225.3,441.0 1225.7,440.1 1226.0,439.1 C1226.3,438.2 1226.7,436.6 1227.0,435.1 C1227.3,433.6 1227.7,431.4 1228.0,430.3 C1228.3,429.2 1228.7,428.6 1229.0,428.4 C1229.3,428.3 1229.7,428.8 1230.0,429.3 C1230.3,429.8 1230.7,430.7 1231.0,431.3 C1231.3,431.9 1231.7,432.1 1232.0,432.7 C1232.3,433.4 1232.7,434.4 1233.0,435.0 C1233.3,435.6 1233.7,435.2 1234.0,436.2 C1234.3,437.1 1234.7,439.0 1235.0,440.9 C1235.3,442.9 1235.7,445.6 1236.0,447.9 C1236.3,450.2 1236.7,452.7 1237.0,454.8 C1237.3,456.9 1237.7,459.0 1238.0,460.5 C1238.3,462.1 1238.7,464.1 1239.0,464.1 C1239.3,464.1 1239.7,462.6 1240.0,460.6 C1240.3,458.6 1240.7,455.4 1241.0,452.2 C1241.3,449.1 1241.7,445.1 1242.0,441.7 C1242.3,438.3 1242.7,434.3 1243.0,431.9 C1243.3,429.5 1243.7,427.1 1244.0,427.4 C1244.3,427.7 1244.7,430.5 1245.0,434.0 C1245.3,437.5 1245.7,442.4 1246.0,448.4 C1246.3,454.4 1246.7,462.5 1247.0,469.9 C1247.3,477.3 1247.7,486.2 1248.0,492.8 C1248.3,499.5 1248.7,505.5 1249.0,509.8 C1249.3,514.1 1249.7,516.9 1250.0,518.5 C1250.3,520.1 1250.7,520.4 1251.0,519.2 C1251.3,518.1 1251.7,514.3 1252.0,511.6 C1252.3,508.9 1252.7,505.9 1253.0,502.9 C1253.3,499.8 1253.7,496.5 1254.0,493.4 C1254.3,490.4 1254.7,487.0 1255.0,484.6 C1255.3,482.1 1255.7,480.2 1256.0,478.6 C1256.3,477.1 1256.7,476.2 1257.0,475.2 C1257.3,474.2 1257.7,473.2 1258.0,472.8 C1258.3,472.4 1258.7,472.3 1259.0,473.1 C1259.3,473.8 1259.7,475.0 1260.0,477.1 C1260.3,479.2 1260.7,482.0 1261.0,485.7 C1261.3,489.5 1261.7,494.7 1262.0,499.6 C1262.3,504.6 1262.7,510.7 1263.0,515.4 C1263.3,520.0 1263.7,524.4 1264.0,527.6 C1264.3,530.7 1264.7,533.1 1265.0,534.1 C1265.3,535.2 1265.7,535.5 1266.0,534.0 C1266.3,532.4 1266.7,528.5 1267.0,524.8 C1267.3,521.1 1267.7,516.1 1268.0,512.0 C1268.3,507.8 1268.7,503.1 1269.0,499.8 C1269.3,496.5 1269.7,493.6 1270.0,492.3 C1270.3,490.9 1270.7,490.1 1271.0,491.5 C1271.3,492.9 1271.7,497.0 1272.0,500.5 C1272.3,504.1 1272.7,508.5 1273.0,512.6 C1273.3,516.7 1273.7,521.5 1274.0,524.9 C1274.3,528.4 1274.7,531.5 1275.0,533.4 C1275.3,535.3 1275.7,536.3 1276.0,536.2 C1276.3,536.1 1276.7,534.1 1277.0,532.7 C1277.3,531.4 1277.7,529.6 1278.0,528.1 C1278.3,526.5 1278.7,524.6 1279.0,523.2 C1279.3,521.8 1279.7,520.3 1280.0,519.5 C1280.3,518.7 1280.7,518.9 1281.0,518.6 C1281.3,518.2 1281.7,517.8 1282.0,517.3 C1282.3,516.7 1282.7,516.0 1283.0,515.3 C1283.3,514.5 1283.7,513.3 1284.0,512.7 C1284.3,512.2 1284.7,511.9 1285.0,512.2 C1285.3,512.6 1285.7,513.0 1286.0,514.8 C1286.3,516.5 1286.7,519.2 1287.0,522.6 C1287.3,526.0 1287.7,530.7 1288.0,535.2 C1288.3,539.6 1288.7,545.3 1289.0,549.4 C1289.3,553.6 1289.7,557.6 1290.0,560.1 C1290.3,562.5 1290.7,564.0 1291.0,564.2 C1291.3,564.5 1291.7,563.7 1292.0,561.4 C1292.3,559.1 1292.7,554.2 1293.0,550.5 C1293.3,546.7 1293.7,543.0 1294.0,538.9 C1294.3,534.9 1294.7,529.4 1295.0,526.2 C1295.3,523.0 1295.7,520.7 1296.0,519.8 C1296.3,519.0 1296.7,519.8 1297.0,521.3 C1297.3,522.8 1297.7,525.5 1298.0,528.8 C1298.3,532.0 1298.7,536.2 1299.0,540.7 C1299.3,545.1 1299.7,551.2 1300.0,555.4 C1300.3,559.6 1300.7,562.8 1301.0,565.8 C1301.3,568.8 1301.7,571.5 1302.0,573.2 C1302.3,575.0 1302.7,576.0 1303.0,576.2 C1303.3,576.4 1303.7,575.2 1304.0,574.5 C1304.3,573.8 1304.7,572.7 1305.0,571.8 C1305.3,570.9 1305.7,570.1 1306.0,569.2 C1306.3,568.3 1306.7,567.3 1307.0,566.2 C1307.3,565.2 1307.7,563.8 1308.0,562.8 C1308.3,561.7 1308.7,560.8 1309.0,559.9 C1309.3,559.0 1309.7,557.5 1310.0,557.3 C1310.3,557.2 1310.7,557.6 1311.0,559.1 C1311.3,560.6 1311.7,563.3 1312.0,566.2 C1312.3,569.0 1312.7,572.7 1313.0,576.3 C1313.3,579.8 1313.7,583.7 1314.0,587.5 C1314.3,591.2 1314.7,596.2 1315.0,598.9 C1315.3,601.5 1315.7,602.9 1316.0,603.4 C1316.3,603.9 1316.7,602.7 1317.0,601.8 C1317.3,600.8 1317.7,599.4 1318.0,597.7 C1318.3,595.9 1318.7,593.1 1319.0,591.2 C1319.3,589.3 1319.7,586.7 1320.0,586.1 C1320.3,585.6 1320.7,586.5 1321.0,588.0 C1321.3,589.5 1321.7,592.2 1322.0,594.9 C1322.3,597.5 1322.7,600.7 1323.0,604.1 C1323.3,607.6 1323.7,612.4 1324.0,615.5 C1324.3,618.6 1324.7,621.6 1325.0,622.7 C1325.3,623.8 1325.7,622.8 1326.0,622.0 C1326.3,621.2 1326.7,620.2 1327.0,617.9 C1327.3,615.6 1327.7,611.4 1328.0,608.1 C1328.3,604.8 1328.7,599.8 1329.0,598.3 C1329.3,596.7 1329.7,598.1 1330.0,598.9 C1330.3,599.6 1330.7,600.7 1331.0,602.7 C1331.3,604.8 1331.7,608.7 1332.0,610.9 C1332.3,613.0 1332.7,614.7 1333.0,615.6 C1333.3,616.6 1333.7,616.5 1334.0,616.6 C1334.3,616.6 1334.7,616.5 1335.0,615.8 C1335.3,615.1 1335.7,613.2 1336.0,612.3 C1336.3,611.4 1336.7,610.5 1337.0,610.4 C1337.3,610.3 1337.7,610.3 1338.0,611.6 C1338.3,612.9 1338.7,616.0 1339.0,618.2 C1339.3,620.3 1339.3,622.0 1340.0,624.7 C1340.7,627.4 1342.2,632.1 1343.2,634.2 C1344.2,636.3 1345.4,637.0 1346.3,637.3 C1347.2,637.6 1347.9,634.5 1348.7,635.8 C1349.5,637.1 1350.2,643.1 1351.0,645.2 C1351.8,647.3 1352.6,650.0 1353.4,648.4 C1354.2,646.8 1355.0,636.8 1355.8,635.8 C1356.6,634.8 1357.3,639.2 1358.1,642.1 C1358.9,645.0 1359.6,651.8 1360.5,653.1 C1361.4,654.4 1362.5,648.9 1363.6,649.9 C1364.6,650.9 1365.9,657.8 1366.8,659.4 C1367.7,661.0 1368.4,660.7 1369.2,659.4 C1370.0,658.1 1370.7,652.0 1371.5,651.5 C1372.3,651.0 1373.1,654.1 1373.9,656.2 C1374.7,658.3 1375.3,663.3 1376.2,664.1 C1377.1,664.9 1378.5,660.2 1379.4,661.0 C1380.3,661.8 1380.9,668.6 1381.8,668.9 C1382.7,669.2 1383.9,662.0 1384.9,662.6 C1386.0,663.2 1387.0,672.3 1388.1,672.8 C1389.1,673.3 1390.2,666.1 1391.2,665.7 C1392.2,665.3 1393.4,670.7 1394.4,670.4 C1395.5,670.1 1396.5,664.4 1397.5,664.1 C1398.5,663.9 1399.7,669.0 1400.7,668.9 C1401.8,668.8 1402.6,663.7 1403.8,663.3 C1405.0,662.9 1406.5,666.4 1407.8,666.5 C1409.1,666.6 1410.4,664.6 1411.7,664.1 C1413.0,663.6 1414.2,663.7 1415.7,663.3 C1417.2,662.9 1418.8,662.0 1420.4,661.8 C1422.0,661.5 1423.5,662.1 1425.1,661.8 C1426.7,661.5 1428.2,660.7 1429.8,660.2 C1431.4,659.7 1433.3,659.0 1434.6,658.6 C1435.9,658.2 1436.8,657.5 1437.7,657.8 C1438.6,658.1 1439.6,659.8 1440.0,660.2" stroke="#fa7868" stroke-width="2.3"/>
<path d="M216.0,355.5 L225.1,356.2 L288.8,360.6 L338.3,365.6 L378.9,371.0 L412.8,376.1 L450.6,381.8 L488.4,386.2 L500.0,388.2" stroke="#dc5078" stroke-width="2.3"/>
<path d="M500.0,388.2 C506.7,388.7 526.8,389.9 540.2,391.2 C553.6,392.5 566.9,394.7 580.3,396.2 C593.7,397.7 607.1,398.5 620.5,400.2 C633.9,401.9 648.9,404.6 660.6,406.3 C672.3,408.0 682.4,409.5 690.8,410.3 C699.2,411.1 704.1,411.6 710.8,411.3 C717.5,411.0 724.2,409.5 730.9,408.3 C737.6,407.1 744.6,405.0 751.0,403.9 C757.4,402.8 764.1,401.7 769.1,401.8 C774.1,401.9 777.6,403.6 781.1,404.3 C784.6,405.0 786.4,404.8 790.0,406.2 C793.6,407.6 798.4,410.8 802.6,412.5 C806.8,414.2 811.0,416.1 815.2,416.2 C819.4,416.3 823.6,414.7 827.8,413.1 C832.0,411.5 836.6,408.5 840.4,406.8 C844.2,405.1 847.5,403.7 850.5,403.0 C853.5,402.3 855.6,401.5 858.1,402.4 C860.6,403.2 863.1,405.7 865.6,408.1 C868.1,410.5 870.7,413.8 873.2,416.9 C875.7,420.0 878.2,424.1 880.7,427.0 C883.2,429.9 885.8,432.5 888.3,434.5 C890.8,436.5 893.6,438.0 895.9,438.9 C898.2,439.8 900.1,439.9 902.2,439.6 C904.3,439.3 906.4,438.5 908.5,437.0 C910.6,435.5 912.7,433.8 914.8,430.7 C916.9,427.6 919.0,423.1 921.1,418.1 C923.2,413.1 925.5,406.4 927.4,400.5 C929.3,394.6 930.7,388.3 932.4,382.8 C934.1,377.3 936.1,371.0 937.4,367.7 C938.7,364.4 938.9,364.3 940.0,362.8 C941.1,361.3 942.7,359.5 944.1,358.7 C945.5,357.9 946.8,357.6 948.2,358.1 C949.6,358.6 950.7,359.8 952.3,361.5 C953.9,363.2 956.0,366.6 957.8,368.3 C959.6,370.0 961.4,371.2 963.2,371.7 C965.0,372.1 966.9,371.3 968.7,371.0 C970.5,370.7 972.4,369.7 974.2,369.7 C976.0,369.7 977.8,370.1 979.6,371.0 C981.4,371.9 983.3,373.8 985.1,375.1 C986.9,376.4 988.7,378.0 990.5,378.6 C992.3,379.2 994.2,379.2 996.0,378.6 C997.8,378.0 999.7,377.1 1001.5,375.1 C1003.3,373.2 1005.1,371.9 1006.9,366.9 C1008.7,361.9 1010.9,352.0 1012.4,345.0 C1013.9,338.0 1014.6,331.5 1016.0,325.0 C1017.4,318.5 1019.2,310.1 1020.6,306.1 C1022.0,302.1 1022.9,302.0 1024.1,300.8 C1025.3,299.6 1026.5,299.0 1027.7,298.9 C1028.9,298.8 1030.0,299.6 1031.2,300.4 C1032.4,301.2 1033.2,303.6 1034.7,303.5 C1036.2,303.4 1038.1,302.1 1040.0,300.0 C1041.9,297.9 1044.3,291.7 1046.0,291.0 C1047.7,290.3 1048.7,292.8 1050.0,296.0 C1051.3,299.2 1052.7,305.7 1054.0,310.0 C1055.3,314.3 1056.7,318.7 1058.0,322.0 C1059.3,325.3 1060.7,328.7 1062.0,330.0 C1063.3,331.3 1064.7,331.3 1066.0,330.0 C1067.3,328.7 1068.7,325.0 1070.0,322.0 C1071.3,319.0 1072.7,312.3 1074.0,312.0 C1075.3,311.7 1076.7,315.0 1078.0,320.0 C1079.3,325.0 1080.7,335.0 1082.0,342.0 C1083.3,349.0 1084.7,356.0 1086.0,362.0 C1087.3,368.0 1088.7,377.3 1090.0,378.2 C1091.3,379.1 1092.7,370.5 1094.1,367.3 C1095.5,364.1 1097.0,360.7 1098.2,359.1 C1099.5,357.5 1100.5,356.9 1101.6,357.8 C1102.7,358.7 1103.8,361.9 1105.0,364.6 C1106.2,367.3 1107.7,371.8 1109.1,374.1 C1110.5,376.4 1111.8,378.0 1113.2,378.2 C1114.6,378.4 1116.0,378.0 1117.3,375.5 C1118.5,373.0 1119.6,367.5 1120.7,363.2 C1121.8,358.9 1123.1,352.4 1124.1,349.6 C1125.1,346.8 1125.9,346.0 1126.8,346.2 C1127.7,346.4 1128.6,348.6 1129.6,351.0 C1130.6,353.4 1131.8,358.2 1133.0,360.5 C1134.2,362.8 1135.7,363.5 1137.1,364.6 C1138.5,365.7 1139.8,365.7 1141.2,367.3 C1142.6,368.9 1143.9,370.7 1145.3,374.1 C1146.7,377.5 1148.2,383.9 1149.4,387.8 C1150.7,391.7 1151.7,395.6 1152.8,397.4 C1153.9,399.2 1155.1,399.6 1156.2,398.7 C1157.3,397.8 1158.3,394.8 1159.6,391.9 C1160.8,388.9 1162.3,384.0 1163.7,381.0 C1165.1,378.0 1166.4,375.9 1167.8,374.1 C1169.2,372.3 1170.5,372.6 1171.9,370.1 C1173.3,367.6 1174.8,363.0 1176.0,359.1 C1177.2,355.2 1178.3,349.8 1179.4,346.9 C1180.5,343.9 1181.8,341.6 1182.8,341.4 C1183.8,341.2 1184.5,342.6 1185.5,345.5 C1186.5,348.4 1187.8,354.1 1189.0,359.1 C1190.2,364.1 1191.3,370.3 1192.4,375.5 C1193.5,380.7 1194.5,385.9 1195.8,390.5 C1197.1,395.1 1199.1,401.0 1200.0,402.8 C1200.9,404.6 1200.7,401.8 1201.0,401.3 C1201.3,400.8 1201.7,400.7 1202.0,399.8 C1202.3,398.9 1202.7,396.4 1203.0,395.7 C1203.3,394.9 1203.7,395.0 1204.0,395.3 C1204.3,395.5 1204.7,395.8 1205.0,397.0 C1205.3,398.2 1205.7,400.2 1206.0,402.3 C1206.3,404.5 1206.7,407.6 1207.0,409.8 C1207.3,412.0 1207.7,414.5 1208.0,415.8 C1208.3,417.2 1208.7,418.1 1209.0,417.9 C1209.3,417.6 1209.7,416.6 1210.0,414.4 C1210.3,412.1 1210.7,407.8 1211.0,404.3 C1211.3,400.9 1211.7,397.0 1212.0,393.6 C1212.3,390.2 1212.7,386.3 1213.0,384.0 C1213.3,381.7 1213.7,380.0 1214.0,379.8 C1214.3,379.6 1214.7,381.1 1215.0,382.8 C1215.3,384.6 1215.7,387.3 1216.0,390.2 C1216.3,393.1 1216.7,397.0 1217.0,400.0 C1217.3,403.0 1217.7,406.1 1218.0,408.2 C1218.3,410.2 1218.7,411.3 1219.0,412.1 C1219.3,413.0 1219.7,413.0 1220.0,413.4 C1220.3,413.8 1220.7,414.1 1221.0,414.4 C1221.3,414.7 1221.7,414.1 1222.0,415.3 C1222.3,416.5 1222.7,419.4 1223.0,421.7 C1223.3,423.9 1223.7,426.5 1224.0,428.8 C1224.3,431.1 1224.7,433.7 1225.0,435.6 C1225.3,437.5 1225.7,439.2 1226.0,440.1 C1226.3,441.0 1226.7,441.2 1227.0,441.2 C1227.3,441.2 1227.7,440.2 1228.0,440.3 C1228.3,440.4 1228.7,441.2 1229.0,441.9 C1229.3,442.6 1229.7,443.3 1230.0,444.5 C1230.3,445.7 1230.7,447.7 1231.0,449.2 C1231.3,450.7 1231.7,452.8 1232.0,453.6 C1232.3,454.4 1232.7,454.9 1233.0,454.0 C1233.3,453.1 1233.7,450.8 1234.0,448.1 C1234.3,445.4 1234.7,441.1 1235.0,437.6 C1235.3,434.0 1235.7,429.6 1236.0,426.9 C1236.3,424.2 1236.7,421.2 1237.0,421.3 C1237.3,421.4 1237.7,423.8 1238.0,427.5 C1238.3,431.2 1238.7,437.4 1239.0,443.4 C1239.3,449.4 1239.7,456.8 1240.0,463.6 C1240.3,470.5 1240.7,478.8 1241.0,484.5 C1241.3,490.3 1241.7,495.8 1242.0,498.1 C1242.3,500.4 1242.7,500.1 1243.0,498.4 C1243.3,496.7 1243.7,492.7 1244.0,487.9 C1244.3,483.2 1244.7,476.2 1245.0,470.0 C1245.3,463.8 1245.7,456.1 1246.0,450.6 C1246.3,445.1 1246.7,439.8 1247.0,437.1 C1247.3,434.4 1247.7,433.9 1248.0,434.3 C1248.3,434.8 1248.7,436.2 1249.0,439.7 C1249.3,443.1 1249.7,449.5 1250.0,455.0 C1250.3,460.4 1250.7,466.9 1251.0,472.4 C1251.3,478.0 1251.7,483.1 1252.0,488.3 C1252.3,493.5 1252.7,499.1 1253.0,503.5 C1253.3,508.0 1253.7,511.6 1254.0,515.0 C1254.3,518.5 1254.7,521.6 1255.0,524.2 C1255.3,526.9 1255.7,530.4 1256.0,531.1 C1256.3,531.7 1256.7,530.2 1257.0,528.3 C1257.3,526.3 1257.7,523.2 1258.0,519.3 C1258.3,515.4 1258.7,510.0 1259.0,504.8 C1259.3,499.5 1259.7,493.1 1260.0,487.8 C1260.3,482.5 1260.7,476.1 1261.0,472.8 C1261.3,469.4 1261.7,467.8 1262.0,467.8 C1262.3,467.7 1262.7,468.9 1263.0,472.3 C1263.3,475.7 1263.7,482.2 1264.0,488.1 C1264.3,494.1 1264.7,501.9 1265.0,508.1 C1265.3,514.3 1265.7,521.1 1266.0,525.1 C1266.3,529.1 1266.7,531.2 1267.0,532.0 C1267.3,532.8 1267.7,531.8 1268.0,529.7 C1268.3,527.6 1268.7,523.3 1269.0,519.4 C1269.3,515.5 1269.7,510.0 1270.0,506.4 C1270.3,502.7 1270.7,499.3 1271.0,497.7 C1271.3,496.1 1271.7,495.9 1272.0,496.9 C1272.3,497.9 1272.7,500.4 1273.0,503.5 C1273.3,506.7 1273.7,511.6 1274.0,515.9 C1274.3,520.1 1274.7,525.4 1275.0,529.0 C1275.3,532.6 1275.7,535.6 1276.0,537.5 C1276.3,539.4 1276.7,540.3 1277.0,540.4 C1277.3,540.6 1277.7,539.8 1278.0,538.4 C1278.3,537.1 1278.7,534.3 1279.0,532.3 C1279.3,530.3 1279.7,527.8 1280.0,526.2 C1280.3,524.6 1280.7,524.1 1281.0,522.7 C1281.3,521.4 1281.7,519.5 1282.0,518.2 C1282.3,517.0 1282.7,516.1 1283.0,515.1 C1283.3,514.2 1283.7,513.4 1284.0,512.6 C1284.3,511.8 1284.7,510.7 1285.0,510.5 C1285.3,510.4 1285.7,510.4 1286.0,511.8 C1286.3,513.2 1286.7,515.9 1287.0,518.9 C1287.3,522.0 1287.7,525.7 1288.0,530.1 C1288.3,534.5 1288.7,540.9 1289.0,545.3 C1289.3,549.7 1289.7,553.5 1290.0,556.3 C1290.3,559.2 1290.7,562.0 1291.0,562.3 C1291.3,562.6 1291.7,560.8 1292.0,558.0 C1292.3,555.2 1292.7,549.8 1293.0,545.4 C1293.3,541.0 1293.7,535.6 1294.0,531.6 C1294.3,527.7 1294.7,523.4 1295.0,521.7 C1295.3,520.0 1295.7,519.9 1296.0,521.6 C1296.3,523.2 1296.7,527.6 1297.0,531.6 C1297.3,535.7 1297.7,540.7 1298.0,545.7 C1298.3,550.8 1298.7,557.3 1299.0,561.8 C1299.3,566.2 1299.7,570.3 1300.0,572.4 C1300.3,574.5 1300.7,574.3 1301.0,574.3 C1301.3,574.3 1301.7,573.9 1302.0,572.6 C1302.3,571.3 1302.7,568.3 1303.0,566.5 C1303.3,564.6 1303.7,562.5 1304.0,561.3 C1304.3,560.1 1304.7,559.4 1305.0,559.2 C1305.3,558.9 1305.7,559.3 1306.0,559.7 C1306.3,560.0 1306.7,560.6 1307.0,561.3 C1307.3,562.0 1307.7,563.0 1308.0,563.9 C1308.3,564.8 1308.7,565.6 1309.0,566.4 C1309.3,567.3 1309.7,567.7 1310.0,569.1 C1310.3,570.4 1310.7,572.2 1311.0,574.5 C1311.3,576.8 1311.7,579.6 1312.0,582.7 C1312.3,585.8 1312.7,589.5 1313.0,593.2 C1313.3,596.9 1313.7,601.3 1314.0,604.6 C1314.3,607.9 1314.7,612.0 1315.0,613.1 C1315.3,614.3 1315.7,612.7 1316.0,611.6 C1316.3,610.4 1316.7,608.6 1317.0,606.5 C1317.3,604.3 1317.7,601.0 1318.0,598.7 C1318.3,596.3 1318.7,593.4 1319.0,592.5 C1319.3,591.6 1319.7,591.3 1320.0,593.2 C1320.3,595.2 1320.7,600.0 1321.0,604.2 C1321.3,608.4 1321.7,613.2 1322.0,618.3 C1322.3,623.5 1322.7,630.4 1323.0,635.1 C1323.3,639.9 1323.7,644.6 1324.0,647.0 C1324.3,649.4 1324.7,650.2 1325.0,649.7 C1325.3,649.3 1325.7,646.5 1326.0,644.2 C1326.3,641.9 1326.7,639.6 1327.0,635.8 C1327.3,632.1 1327.7,625.5 1328.0,621.6 C1328.3,617.7 1328.7,614.5 1329.0,612.4 C1329.3,610.3 1329.7,609.5 1330.0,609.0 C1330.3,608.5 1330.7,607.8 1331.0,609.4 C1331.3,611.1 1331.7,615.1 1332.0,618.8 C1332.3,622.5 1332.7,627.0 1333.0,631.6 C1333.3,636.3 1333.7,642.1 1334.0,646.5 C1334.3,651.0 1334.7,656.0 1335.0,658.3 C1335.3,660.6 1335.7,660.0 1336.0,660.3 C1336.3,660.6 1336.7,661.2 1337.0,660.3 C1337.3,659.4 1337.7,657.2 1338.0,655.2 C1338.3,653.1 1338.7,650.6 1339.0,648.2 C1339.3,645.8 1339.4,639.2 1340.0,640.5 C1340.6,641.8 1341.5,651.7 1342.4,656.2 C1343.3,660.7 1344.5,667.3 1345.5,667.3 C1346.5,667.3 1347.7,655.4 1348.7,656.2 C1349.8,657.0 1350.8,667.5 1351.8,672.0 C1352.8,676.5 1354.0,679.6 1355.0,683.0 C1356.0,686.4 1357.0,692.5 1358.1,692.5 C1359.1,692.5 1360.2,686.5 1361.3,683.0 C1362.3,679.5 1363.5,671.7 1364.4,671.2 C1365.3,670.7 1366.0,676.9 1366.8,679.9 C1367.6,682.9 1368.4,690.6 1369.2,689.3 C1370.0,688.0 1370.7,673.8 1371.5,672.0 C1372.3,670.2 1373.1,675.9 1373.9,678.3 C1374.7,680.7 1375.3,685.2 1376.2,686.2 C1377.1,687.2 1378.5,683.3 1379.4,684.6 C1380.3,685.9 1380.9,691.7 1381.8,694.1 C1382.7,696.5 1383.9,697.5 1384.9,698.8 C1386.0,700.1 1387.0,703.0 1388.1,702.0 C1389.1,701.0 1390.2,692.8 1391.2,692.5 C1392.2,692.2 1393.4,701.2 1394.4,700.4 C1395.5,699.6 1396.5,688.6 1397.5,687.8 C1398.5,687.0 1399.7,695.6 1400.7,695.6 C1401.8,695.6 1402.8,688.3 1403.8,687.8 C1404.8,687.3 1406.0,692.4 1407.0,692.5 C1408.0,692.6 1408.9,689.4 1410.1,688.6 C1411.3,687.8 1412.6,688.2 1414.1,687.8 C1415.5,687.4 1417.2,686.9 1418.8,686.2 C1420.4,685.5 1421.9,684.3 1423.5,683.8 C1425.1,683.3 1426.7,683.2 1428.3,683.0 C1429.9,682.8 1431.6,682.7 1433.0,682.3 C1434.4,681.9 1435.7,680.7 1436.9,680.7 C1438.1,680.7 1439.5,682.0 1440.0,682.3" stroke="#dc5078" stroke-width="2.3"/>
<path d="M216.0,301.6 L225.1,301.1 L288.8,309.9 L338.3,329.7 L378.9,351.8 L412.8,370.4 L450.6,393.1 L488.4,414.5 L500.0,420.3" stroke="#dc00aa" stroke-width="2.3"/>
<path d="M500.0,420.3 C503.3,421.8 513.3,426.5 520.0,429.4 C526.7,432.2 533.5,435.2 540.2,437.4 C546.9,439.6 553.5,441.0 560.2,442.4 C566.9,443.8 574.3,445.1 580.3,445.8 C586.3,446.5 591.0,446.8 596.4,446.8 C601.8,446.8 607.0,446.7 612.4,445.8 C617.8,444.9 623.1,443.3 628.5,441.4 C633.9,439.5 639.2,437.2 644.6,434.4 C650.0,431.5 655.9,427.8 660.6,424.3 C665.3,420.8 668.7,417.0 672.7,413.3 C676.7,409.6 681.0,405.1 684.7,402.2 C688.4,399.3 691.6,397.1 694.8,395.8 C698.0,394.5 700.8,393.6 703.8,394.2 C706.8,394.8 709.4,396.7 712.9,399.2 C716.4,401.7 720.9,406.3 724.9,409.3 C728.9,412.3 732.9,415.3 736.9,417.3 C740.9,419.3 745.3,420.5 749.0,421.3 C752.7,422.1 755.6,422.2 759.0,421.9 C762.4,421.6 765.4,421.6 769.1,419.3 C772.8,417.0 777.6,411.7 781.1,408.3 C784.6,404.9 787.0,401.6 790.0,399.2 C793.0,396.8 796.3,394.5 798.8,393.9 C801.3,393.3 803.2,393.8 805.1,395.5 C807.0,397.2 808.3,400.9 810.2,404.3 C812.1,407.7 814.4,411.6 816.5,415.6 C818.6,419.6 820.5,424.0 822.8,428.2 C825.1,432.4 827.8,437.3 830.3,440.8 C832.8,444.3 835.4,446.9 837.9,449.0 C840.4,451.1 843.2,452.3 845.5,453.2 C847.8,454.1 849.7,454.3 851.8,454.1 C853.9,453.9 856.0,453.6 858.1,452.2 C860.2,450.8 862.3,448.4 864.4,445.9 C866.5,443.4 868.6,440.8 870.7,437.0 C872.8,433.2 875.1,428.0 877.0,423.2 C878.9,418.4 880.3,412.7 882.0,408.1 C883.7,403.5 885.3,398.4 887.0,395.5 C888.7,392.6 890.5,391.2 892.1,390.4 C893.7,389.5 895.0,389.3 896.5,390.4 C898.0,391.4 899.3,394.4 900.9,396.7 C902.5,399.0 904.2,402.1 905.9,404.3 C907.6,406.5 909.3,408.5 911.0,409.9 C912.7,411.3 914.3,412.3 916.0,412.5 C917.7,412.7 919.4,412.6 921.1,411.2 C922.8,409.8 924.4,407.8 926.1,404.3 C927.8,400.8 929.6,395.2 931.1,390.4 C932.6,385.6 933.8,380.7 934.9,375.3 C936.0,369.9 937.1,362.6 938.0,358.0 C938.9,353.4 939.2,351.8 940.0,347.8 C940.8,343.8 941.7,337.8 942.7,334.2 C943.7,330.6 945.2,326.9 946.1,326.0 C947.0,325.1 947.3,326.0 948.2,328.7 C949.1,331.4 950.5,337.8 951.6,342.3 C952.7,346.9 953.8,351.9 955.0,356.0 C956.2,360.1 957.9,363.9 959.1,366.9 C960.4,369.9 961.4,372.3 962.5,373.8 C963.6,375.3 964.9,376.0 966.0,375.8 C967.1,375.6 968.1,374.8 969.4,372.4 C970.6,370.0 972.1,365.8 973.5,361.5 C974.9,357.2 976.4,350.9 977.6,346.4 C978.9,341.8 980.0,337.4 981.0,334.2 C982.0,331.0 982.9,328.7 983.7,327.3 C984.5,325.9 985.1,325.5 985.8,325.7 C986.5,325.9 986.9,326.4 987.8,328.7 C988.7,331.0 990.1,335.7 991.2,339.6 C992.3,343.5 993.4,348.2 994.6,351.9 C995.9,355.5 997.3,359.0 998.7,361.5 C1000.1,364.0 1001.4,366.4 1002.8,366.9 C1004.2,367.3 1005.5,366.2 1006.9,364.2 C1008.3,362.1 1009.6,359.3 1011.0,354.6 C1012.4,349.9 1013.9,342.0 1015.0,336.0 C1016.1,330.0 1016.9,323.6 1017.9,318.8 C1018.9,314.0 1020.0,309.4 1020.9,307.1 C1021.8,304.8 1022.2,304.2 1023.1,304.9 C1024.0,305.6 1025.0,308.4 1026.0,311.5 C1027.0,314.6 1028.0,320.0 1029.0,323.2 C1030.0,326.4 1030.9,329.0 1031.9,330.6 C1032.9,332.2 1033.9,333.1 1034.9,332.8 C1035.9,332.6 1036.8,331.4 1037.8,329.1 C1038.8,326.8 1039.7,323.0 1040.7,318.8 C1041.7,314.6 1042.8,308.3 1043.7,304.1 C1044.6,299.9 1045.2,297.2 1045.9,293.8 C1046.6,290.4 1047.4,284.2 1048.1,283.5 C1048.8,282.8 1049.4,286.2 1050.3,289.4 C1051.2,292.6 1052.2,298.2 1053.2,302.6 C1054.2,307.0 1055.2,312.5 1056.2,315.9 C1057.2,319.3 1058.2,322.0 1059.1,323.2 C1059.9,324.4 1060.6,324.7 1061.3,323.2 C1062.0,321.7 1062.8,318.3 1063.5,314.4 C1064.2,310.5 1065.0,304.8 1065.7,299.7 C1066.4,294.6 1067.2,287.6 1067.9,283.5 C1068.6,279.4 1069.1,275.9 1069.7,275.4 C1070.3,274.9 1071.0,277.0 1071.6,280.6 C1072.2,284.2 1072.6,290.4 1073.1,296.8 C1073.6,303.2 1074.0,311.5 1074.6,318.8 C1075.2,326.1 1076.1,334.0 1076.8,340.9 C1077.5,347.8 1078.3,354.4 1079.0,360.0 C1079.7,365.6 1080.5,370.5 1081.2,374.7 C1081.9,378.9 1082.7,382.4 1083.4,385.0 C1084.1,387.6 1084.9,389.1 1085.6,390.1 C1086.3,391.1 1087.1,391.5 1087.8,390.9 C1088.5,390.3 1089.3,389.1 1090.0,386.5 C1090.7,383.9 1091.2,379.1 1092.0,375.5 C1092.8,371.9 1093.8,367.7 1094.8,364.6 C1095.8,361.5 1097.2,357.6 1098.2,357.1 C1099.2,356.7 1100.0,359.1 1100.9,361.9 C1101.8,364.7 1102.7,369.6 1103.6,374.1 C1104.5,378.7 1105.5,384.6 1106.4,389.2 C1107.3,393.8 1108.2,398.3 1109.1,401.4 C1110.0,404.5 1110.9,406.9 1111.8,407.6 C1112.7,408.3 1113.7,407.4 1114.6,405.5 C1115.5,403.6 1116.4,399.6 1117.3,396.0 C1118.2,392.4 1119.1,387.8 1120.0,383.7 C1120.9,379.6 1121.9,374.1 1122.8,371.4 C1123.7,368.7 1124.6,367.5 1125.5,367.3 C1126.4,367.1 1127.3,368.7 1128.2,370.1 C1129.1,371.5 1130.0,374.4 1130.9,375.5 C1131.8,376.6 1132.8,377.6 1133.7,376.9 C1134.6,376.2 1135.4,373.9 1136.4,371.4 C1137.4,368.9 1138.8,364.6 1139.8,361.9 C1140.8,359.2 1141.7,356.2 1142.5,355.0 C1143.3,353.8 1143.9,353.5 1144.6,354.4 C1145.3,355.3 1145.8,357.2 1146.6,360.5 C1147.4,363.8 1148.5,369.6 1149.4,374.1 C1150.3,378.7 1151.2,383.9 1152.1,387.8 C1153.0,391.7 1153.9,395.1 1154.8,397.4 C1155.7,399.7 1156.7,400.3 1157.6,401.4 C1158.5,402.5 1159.4,403.0 1160.3,404.2 C1161.2,405.4 1162.1,407.3 1163.0,408.3 C1163.9,409.3 1164.9,410.8 1165.8,410.3 C1166.7,409.8 1167.6,408.6 1168.5,405.5 C1169.4,402.4 1170.3,397.3 1171.2,391.9 C1172.1,386.4 1173.0,379.2 1173.9,372.8 C1174.8,366.4 1175.9,358.2 1176.7,353.7 C1177.5,349.1 1178.0,347.1 1178.7,345.5 C1179.4,343.9 1180.1,343.7 1180.8,344.1 C1181.5,344.6 1182.1,347.3 1182.8,348.2 C1183.5,349.1 1184.2,350.3 1184.9,349.6 C1185.6,348.9 1186.2,346.2 1186.9,344.1 C1187.6,342.1 1188.2,338.0 1189.0,337.3 C1189.8,336.6 1190.7,336.6 1191.5,340.0 C1192.3,343.4 1193.0,350.1 1193.7,357.8 C1194.4,365.5 1195.1,377.1 1195.8,386.4 C1196.5,395.7 1197.1,407.3 1197.8,413.7 C1198.5,420.1 1199.5,424.2 1200.0,424.6 C1200.5,425.0 1200.7,418.5 1201.0,416.0 C1201.3,413.5 1201.7,411.1 1202.0,409.6 C1202.3,408.1 1202.7,407.5 1203.0,407.0 C1203.3,406.4 1203.7,406.5 1204.0,406.4 C1204.3,406.4 1204.7,406.1 1205.0,406.5 C1205.3,407.0 1205.7,408.4 1206.0,409.2 C1206.3,410.1 1206.7,410.5 1207.0,411.5 C1207.3,412.5 1207.7,413.9 1208.0,415.3 C1208.3,416.7 1208.7,418.5 1209.0,419.8 C1209.3,421.1 1209.7,422.5 1210.0,423.3 C1210.3,424.2 1210.7,425.0 1211.0,424.8 C1211.3,424.7 1211.7,424.2 1212.0,422.4 C1212.3,420.7 1212.7,417.4 1213.0,414.3 C1213.3,411.1 1213.7,407.4 1214.0,403.5 C1214.3,399.5 1214.7,394.3 1215.0,390.5 C1215.3,386.7 1215.7,382.5 1216.0,380.9 C1216.3,379.3 1216.7,379.3 1217.0,380.7 C1217.3,382.1 1217.7,384.7 1218.0,389.3 C1218.3,394.0 1218.7,401.1 1219.0,408.4 C1219.3,415.8 1219.7,425.1 1220.0,433.2 C1220.3,441.2 1220.7,450.1 1221.0,456.7 C1221.3,463.3 1221.7,468.9 1222.0,472.6 C1222.3,476.2 1222.7,478.9 1223.0,478.5 C1223.3,478.1 1223.7,473.9 1224.0,470.0 C1224.3,466.2 1224.7,460.7 1225.0,455.6 C1225.3,450.5 1225.7,444.4 1226.0,439.3 C1226.3,434.3 1226.7,428.7 1227.0,425.2 C1227.3,421.7 1227.7,419.5 1228.0,418.5 C1228.3,417.6 1228.7,418.3 1229.0,419.6 C1229.3,420.9 1229.7,423.6 1230.0,426.1 C1230.3,428.6 1230.7,431.5 1231.0,434.5 C1231.3,437.4 1231.7,441.2 1232.0,443.8 C1232.3,446.4 1232.7,447.9 1233.0,450.0 C1233.3,452.2 1233.7,454.6 1234.0,456.6 C1234.3,458.7 1234.7,460.7 1235.0,462.3 C1235.3,463.9 1235.7,465.1 1236.0,466.3 C1236.3,467.4 1236.7,468.2 1237.0,469.2 C1237.3,470.1 1237.7,471.7 1238.0,471.8 C1238.3,471.8 1238.7,470.9 1239.0,469.7 C1239.3,468.5 1239.7,466.6 1240.0,464.6 C1240.3,462.6 1240.7,460.2 1241.0,457.8 C1241.3,455.5 1241.7,452.6 1242.0,450.6 C1242.3,448.6 1242.7,446.1 1243.0,445.9 C1243.3,445.7 1243.7,447.4 1244.0,449.5 C1244.3,451.6 1244.7,454.7 1245.0,458.7 C1245.3,462.8 1245.7,468.6 1246.0,473.9 C1246.3,479.1 1246.7,485.7 1247.0,490.3 C1247.3,494.9 1247.7,498.9 1248.0,501.3 C1248.3,503.8 1248.7,504.9 1249.0,505.0 C1249.3,505.1 1249.7,503.9 1250.0,501.9 C1250.3,499.8 1250.7,495.3 1251.0,492.6 C1251.3,490.0 1251.7,487.3 1252.0,485.7 C1252.3,484.0 1252.7,482.8 1253.0,482.8 C1253.3,482.9 1253.7,483.8 1254.0,486.1 C1254.3,488.4 1254.7,492.6 1255.0,496.7 C1255.3,500.8 1255.7,506.5 1256.0,510.6 C1256.3,514.8 1256.7,519.0 1257.0,521.6 C1257.3,524.3 1257.7,526.1 1258.0,526.3 C1258.3,526.5 1258.7,525.0 1259.0,522.7 C1259.3,520.3 1259.7,515.9 1260.0,512.0 C1260.3,508.1 1260.7,503.3 1261.0,499.4 C1261.3,495.5 1261.7,491.4 1262.0,488.5 C1262.3,485.6 1262.7,482.8 1263.0,481.8 C1263.3,480.8 1263.7,481.0 1264.0,482.5 C1264.3,484.0 1264.7,487.5 1265.0,490.7 C1265.3,493.8 1265.7,497.5 1266.0,501.3 C1266.3,505.0 1266.7,509.4 1267.0,513.2 C1267.3,516.9 1267.7,520.6 1268.0,523.7 C1268.3,526.7 1268.7,529.4 1269.0,531.5 C1269.3,533.5 1269.7,534.4 1270.0,536.1 C1270.3,537.9 1270.7,540.5 1271.0,541.9 C1271.3,543.4 1271.7,544.4 1272.0,545.0 C1272.3,545.6 1272.7,546.2 1273.0,545.7 C1273.3,545.3 1273.7,544.3 1274.0,542.4 C1274.3,540.4 1274.7,537.6 1275.0,533.9 C1275.3,530.2 1275.7,524.5 1276.0,519.9 C1276.3,515.3 1276.7,510.3 1277.0,506.3 C1277.3,502.3 1277.7,498.2 1278.0,495.9 C1278.3,493.6 1278.7,491.8 1279.0,492.5 C1279.3,493.2 1279.7,496.2 1280.0,500.0 C1280.3,503.8 1280.7,509.5 1281.0,515.3 C1281.3,521.0 1281.7,528.5 1282.0,534.6 C1282.3,540.8 1282.7,547.3 1283.0,552.0 C1283.3,556.7 1283.7,561.1 1284.0,563.0 C1284.3,564.9 1284.7,564.7 1285.0,563.3 C1285.3,561.9 1285.7,558.3 1286.0,554.4 C1286.3,550.6 1286.7,545.0 1287.0,540.4 C1287.3,535.8 1287.7,530.6 1288.0,526.8 C1288.3,523.0 1288.7,519.3 1289.0,517.8 C1289.3,516.2 1289.7,515.9 1290.0,517.3 C1290.3,518.8 1290.7,522.7 1291.0,526.4 C1291.3,530.1 1291.7,534.5 1292.0,539.3 C1292.3,544.1 1292.7,551.0 1293.0,555.2 C1293.3,559.4 1293.7,562.4 1294.0,564.6 C1294.3,566.8 1294.7,568.1 1295.0,568.6 C1295.3,569.1 1295.7,568.5 1296.0,567.5 C1296.3,566.5 1296.7,564.1 1297.0,562.6 C1297.3,561.0 1297.7,558.9 1298.0,558.2 C1298.3,557.5 1298.7,558.1 1299.0,558.3 C1299.3,558.4 1299.7,558.5 1300.0,559.1 C1300.3,559.7 1300.7,561.1 1301.0,561.8 C1301.3,562.5 1301.7,563.3 1302.0,563.1 C1302.3,562.9 1302.7,561.5 1303.0,560.7 C1303.3,559.8 1303.7,558.5 1304.0,557.9 C1304.3,557.4 1304.7,556.8 1305.0,557.4 C1305.3,557.9 1305.7,559.1 1306.0,561.3 C1306.3,563.5 1306.7,566.7 1307.0,570.7 C1307.3,574.7 1307.7,580.3 1308.0,585.1 C1308.3,589.9 1308.7,595.1 1309.0,599.5 C1309.3,604.0 1309.7,608.8 1310.0,611.9 C1310.3,615.0 1310.7,617.6 1311.0,618.1 C1311.3,618.6 1311.7,617.1 1312.0,615.0 C1312.3,612.9 1312.7,608.4 1313.0,605.4 C1313.3,602.4 1313.7,599.4 1314.0,597.0 C1314.3,594.5 1314.7,591.6 1315.0,590.7 C1315.3,589.9 1315.7,589.8 1316.0,592.0 C1316.3,594.1 1316.7,599.1 1317.0,603.8 C1317.3,608.5 1317.7,614.8 1318.0,620.3 C1318.3,625.8 1318.7,631.6 1319.0,636.8 C1319.3,642.0 1319.7,647.8 1320.0,651.3 C1320.3,654.9 1320.7,657.3 1321.0,658.0 C1321.3,658.8 1321.7,657.3 1322.0,656.0 C1322.3,654.8 1322.7,652.8 1323.0,650.5 C1323.3,648.3 1323.7,645.3 1324.0,642.6 C1324.3,639.8 1324.7,635.8 1325.0,634.0 C1325.3,632.2 1325.7,632.1 1326.0,631.8 C1326.3,631.5 1326.7,631.3 1327.0,632.1 C1327.3,633.0 1327.7,633.5 1328.0,636.8 C1328.3,640.1 1328.7,646.7 1329.0,651.8 C1329.3,657.0 1329.7,662.4 1330.0,667.8 C1330.3,673.3 1330.7,680.1 1331.0,684.8 C1331.3,689.4 1331.7,693.0 1332.0,695.8 C1332.3,698.6 1332.7,700.1 1333.0,701.6 C1333.3,703.1 1333.7,704.4 1334.0,704.7 C1334.3,704.9 1334.7,703.8 1335.0,703.1 C1335.3,702.4 1335.7,701.3 1336.0,700.4 C1336.3,699.4 1336.7,697.8 1337.0,697.3 C1337.3,696.8 1337.7,697.2 1338.0,697.2 C1338.3,697.3 1338.7,697.1 1339.0,697.8 C1339.3,698.4 1339.7,700.5 1340.0,701.2 C1340.3,701.8 1340.7,702.0 1341.0,701.5 C1341.3,701.1 1341.7,700.5 1342.0,698.6 C1342.3,696.7 1342.7,692.6 1343.0,690.1 C1343.3,687.6 1343.7,685.0 1344.0,683.8 C1344.3,682.6 1344.7,683.2 1345.0,683.0 C1345.3,682.8 1345.7,683.4 1346.0,682.7 C1346.3,682.0 1346.7,680.1 1347.0,678.7 C1347.3,677.4 1347.7,675.5 1348.0,674.5 C1348.3,673.6 1348.7,673.3 1349.0,673.1 C1349.3,673.0 1349.7,673.5 1350.0,673.4 C1350.3,673.3 1350.7,672.6 1351.0,672.6 C1351.3,672.6 1351.7,672.0 1352.0,673.2 C1352.3,674.4 1352.7,677.2 1353.0,679.8 C1353.3,682.5 1353.7,686.4 1354.0,688.9 C1354.3,691.3 1354.7,693.3 1355.0,694.7 C1355.3,696.1 1355.7,696.3 1356.0,697.0 C1356.3,697.7 1356.7,698.2 1357.0,699.0 C1357.3,699.9 1357.7,701.2 1358.0,702.0 C1358.3,702.9 1358.7,703.6 1359.0,704.2 C1359.3,704.8 1359.7,704.7 1360.0,705.7 C1360.3,706.6 1360.7,708.1 1361.0,709.7 C1361.3,711.4 1361.7,714.2 1362.0,715.6 C1362.3,717.0 1362.7,718.3 1363.0,718.3 C1363.3,718.4 1363.7,716.9 1364.0,715.9 C1364.3,715.0 1364.7,713.4 1365.0,712.9 C1365.3,712.3 1365.7,712.5 1366.0,712.6 C1366.3,712.8 1366.7,713.6 1367.0,713.8 C1367.3,714.0 1367.7,713.9 1368.0,713.8 C1368.3,713.7 1368.7,713.3 1369.0,713.2 C1369.3,713.2 1369.7,713.6 1370.0,713.4 C1370.3,713.1 1370.7,712.8 1371.0,711.7 C1371.3,710.6 1371.7,708.1 1372.0,706.7 C1372.3,705.3 1372.7,703.6 1373.0,703.3 C1373.3,703.0 1373.7,704.1 1374.0,705.0 C1374.3,705.9 1374.7,708.0 1375.0,709.0 C1375.3,709.9 1375.7,710.3 1376.0,710.7 C1376.3,711.0 1376.7,711.3 1377.0,711.3 C1377.3,711.2 1377.7,710.4 1378.0,710.2 C1378.3,710.1 1378.7,710.4 1379.0,710.4 C1379.3,710.4 1379.7,710.5 1380.0,710.4 C1380.3,710.4 1380.7,709.6 1381.0,710.1 C1381.3,710.5 1381.7,711.7 1382.0,713.0 C1382.3,714.4 1382.7,717.1 1383.0,718.0 C1383.3,719.0 1383.7,719.0 1384.0,718.8 C1384.3,718.5 1384.7,717.2 1385.0,716.4 C1385.3,715.7 1385.7,714.8 1386.0,714.4 C1386.3,714.0 1386.7,714.3 1387.0,714.0 C1387.3,713.8 1387.7,713.2 1388.0,712.9 C1388.3,712.6 1388.7,712.0 1389.0,712.3 C1389.3,712.6 1389.7,713.6 1390.0,714.5 C1390.3,715.4 1390.7,717.3 1391.0,717.8 C1391.3,718.4 1391.7,718.4 1392.0,717.8 C1392.3,717.2 1392.7,715.2 1393.0,714.2 C1393.3,713.2 1393.7,712.2 1394.0,712.0 C1394.3,711.7 1394.7,712.6 1395.0,712.8 C1395.3,713.1 1395.7,713.6 1396.0,713.6 C1396.3,713.5 1396.7,712.8 1397.0,712.6 C1397.3,712.4 1397.7,712.2 1398.0,712.4 C1398.3,712.6 1398.7,713.7 1399.0,713.9 C1399.3,714.1 1399.7,714.4 1400.0,713.7 C1400.3,713.1 1400.7,711.3 1401.0,709.9 C1401.3,708.6 1401.7,706.5 1402.0,705.7 C1402.3,704.9 1402.7,705.0 1403.0,705.4 C1403.3,705.7 1403.7,707.4 1404.0,708.0 C1404.3,708.5 1404.7,708.6 1405.0,708.5 C1405.3,708.3 1405.7,707.6 1406.0,707.2 C1406.3,706.9 1406.7,706.6 1407.0,706.3 C1407.3,706.1 1407.7,706.1 1408.0,705.6 C1408.3,705.1 1408.7,703.9 1409.0,703.2 C1409.3,702.6 1409.7,701.5 1410.0,701.4 C1410.3,701.4 1410.7,702.1 1411.0,702.9 C1411.3,703.7 1411.7,705.6 1412.0,706.3 C1412.3,707.0 1412.7,707.3 1413.0,707.0 C1413.3,706.6 1413.7,705.2 1414.0,704.4 C1414.3,703.6 1414.7,702.7 1415.0,702.3 C1415.3,701.9 1415.7,702.1 1416.0,702.0 C1416.3,702.0 1416.7,702.1 1417.0,702.0 C1417.3,701.9 1417.7,701.4 1418.0,701.5 C1418.3,701.7 1418.7,702.1 1419.0,702.7 C1419.3,703.2 1419.7,704.3 1420.0,704.6 C1420.3,704.9 1420.7,705.0 1421.0,704.3 C1421.3,703.7 1421.7,701.8 1422.0,700.8 C1422.3,699.8 1422.7,698.7 1423.0,698.4 C1423.3,698.1 1423.7,698.5 1424.0,698.8 C1424.3,699.1 1424.7,700.1 1425.0,700.2 C1425.3,700.4 1425.7,699.9 1426.0,699.7 C1426.3,699.4 1426.7,698.9 1427.0,698.8 C1427.3,698.7 1427.7,699.2 1428.0,699.3 C1428.3,699.3 1428.7,699.5 1429.0,699.0 C1429.3,698.6 1429.7,697.3 1430.0,696.5 C1430.3,695.7 1430.7,694.5 1431.0,694.1 C1431.3,693.8 1431.7,694.1 1432.0,694.4 C1432.3,694.7 1432.7,695.8 1433.0,696.1 C1433.3,696.4 1433.7,696.3 1434.0,696.2 C1434.3,696.1 1434.7,695.7 1435.0,695.6 C1435.3,695.5 1435.7,695.6 1436.0,695.5 C1436.3,695.3 1436.7,695.1 1437.0,694.6 C1437.3,694.2 1437.7,693.2 1438.0,692.8 C1438.3,692.4 1438.7,691.4 1439.0,692.1 C1439.3,692.8 1439.8,696.3 1440.0,697.1" stroke="#dc00aa" stroke-width="2.3"/>
<path d="M216.0,341.3 L225.1,342.3 L288.8,355.5 L338.3,365.6 L378.9,375.1 L412.8,381.8 L450.6,388.7 L488.4,394.4 L500.0,396.2" stroke="#b400dc" stroke-width="2.3"/>
<path d="M500.0,396.2 C506.7,396.5 526.8,397.2 540.2,398.2 C553.6,399.2 567.0,400.1 580.3,402.2 C593.6,404.3 606.6,407.6 620.0,411.0 C633.4,414.4 650.5,419.6 660.6,422.3 C670.7,425.0 674.0,425.6 680.7,427.3 C687.4,429.0 694.1,431.1 700.8,432.4 C707.5,433.6 714.2,434.4 720.9,434.8 C727.6,435.2 734.3,435.2 741.0,435.0 C747.7,434.8 754.3,434.2 761.0,433.4 C767.7,432.6 776.3,431.2 781.1,430.4 C785.9,429.6 786.4,429.6 790.0,428.8 C793.6,428.0 798.4,427.3 802.6,425.7 C806.8,424.1 811.0,421.7 815.2,419.4 C819.4,417.1 823.6,414.1 827.8,411.8 C832.0,409.5 836.2,407.4 840.4,405.5 C844.6,403.6 848.8,401.9 853.0,400.5 C857.2,399.1 861.6,398.2 865.6,397.3 C869.6,396.4 873.6,396.2 877.0,394.8 C880.4,393.4 882.9,391.5 885.8,389.1 C888.7,386.7 891.7,384.3 894.6,380.3 C897.5,376.3 900.7,370.2 903.4,365.2 C906.1,360.2 908.9,354.3 911.0,350.1 C913.1,345.9 914.3,342.9 916.0,340.0 C917.7,337.1 919.3,334.2 921.0,333.0 C922.7,331.8 924.3,331.8 926.0,333.0 C927.7,334.2 929.4,337.6 931.1,340.0 C932.8,342.4 934.7,345.6 936.2,347.6 C937.7,349.6 938.7,350.0 940.0,351.9 C941.3,353.8 942.5,356.6 944.1,358.7 C945.7,360.8 948.0,363.0 949.6,364.2 C951.2,365.4 952.1,365.8 953.7,365.6 C955.3,365.4 957.3,364.2 959.1,362.8 C960.9,361.4 962.8,359.4 964.6,357.4 C966.4,355.3 968.3,353.2 970.1,350.5 C971.9,347.8 973.7,344.6 975.5,341.0 C977.3,337.4 979.3,332.3 981.0,328.7 C982.7,325.1 984.5,321.2 985.8,319.1 C987.0,317.1 987.6,316.4 988.5,316.4 C989.4,316.4 990.0,316.8 991.2,319.1 C992.5,321.4 994.3,326.2 996.0,330.1 C997.7,334.0 999.7,338.9 1001.5,342.3 C1003.3,345.7 1005.1,348.8 1006.9,350.5 C1008.7,352.2 1011.0,352.4 1012.4,352.6 C1013.8,352.8 1013.8,352.9 1015.0,351.9 C1016.2,350.9 1017.9,349.4 1019.4,346.8 C1020.9,344.2 1022.3,340.2 1023.8,336.5 C1025.3,332.8 1026.7,328.4 1028.2,324.7 C1029.7,321.0 1031.1,317.8 1032.6,314.4 C1034.1,311.0 1035.6,307.5 1037.1,304.1 C1038.6,300.7 1040.0,296.7 1041.5,293.8 C1043.0,290.9 1044.4,289.2 1045.9,286.5 C1047.4,283.8 1049.0,279.7 1050.3,277.6 C1051.6,275.5 1052.5,274.2 1053.5,274.0 C1054.5,273.8 1055.3,273.9 1056.2,276.2 C1057.1,278.5 1058.1,283.2 1059.1,287.9 C1060.1,292.5 1061.1,299.0 1062.1,304.1 C1063.1,309.2 1064.0,314.4 1065.0,318.8 C1066.0,323.2 1066.8,327.4 1067.9,330.6 C1069.0,333.8 1070.4,336.2 1071.6,337.9 C1072.8,339.6 1074.2,340.9 1075.3,340.9 C1076.4,340.9 1077.2,339.2 1078.2,337.9 C1079.2,336.5 1080.2,333.8 1081.2,332.8 C1082.2,331.8 1083.1,331.0 1084.1,332.1 C1085.1,333.2 1086.1,337.2 1087.1,339.4 C1088.1,341.6 1089.2,342.7 1090.0,345.5 C1090.8,348.3 1091.3,352.5 1092.0,356.4 C1092.7,360.3 1093.3,365.3 1094.1,368.7 C1094.9,372.1 1095.8,375.3 1096.8,376.9 C1097.8,378.5 1099.1,378.7 1100.2,378.2 C1101.3,377.7 1102.4,376.1 1103.6,374.1 C1104.8,372.1 1105.9,368.7 1107.1,366.0 C1108.2,363.3 1109.4,360.1 1110.5,357.8 C1111.6,355.5 1113.0,353.4 1113.9,352.3 C1114.8,351.2 1115.1,350.8 1115.9,351.0 C1116.7,351.2 1117.7,351.7 1118.7,353.7 C1119.7,355.7 1121.0,360.5 1122.1,363.2 C1123.2,365.9 1124.2,368.1 1125.5,370.1 C1126.8,372.2 1128.2,373.7 1129.6,375.5 C1131.0,377.3 1132.3,378.7 1133.7,381.0 C1135.1,383.3 1136.4,386.2 1137.8,389.2 C1139.2,392.1 1140.7,396.3 1141.9,398.7 C1143.2,401.1 1144.2,402.6 1145.3,403.5 C1146.4,404.4 1147.6,404.8 1148.7,404.2 C1149.8,403.6 1151.0,402.4 1152.1,400.1 C1153.2,397.8 1154.4,394.6 1155.5,390.5 C1156.6,386.4 1157.8,380.7 1158.9,375.5 C1160.0,370.3 1161.3,363.7 1162.3,359.1 C1163.3,354.6 1164.3,350.7 1165.1,348.2 C1165.9,345.7 1166.4,344.1 1167.1,344.1 C1167.8,344.1 1168.4,344.8 1169.2,348.2 C1170.0,351.6 1171.0,358.7 1171.9,364.6 C1172.8,370.5 1173.7,378.0 1174.6,383.7 C1175.5,389.4 1176.4,395.3 1177.3,398.7 C1178.2,402.1 1179.2,403.8 1180.1,404.2 C1181.0,404.6 1181.9,403.4 1182.8,401.4 C1183.7,399.3 1184.6,396.2 1185.5,391.9 C1186.4,387.6 1187.4,381.4 1188.3,375.5 C1189.2,369.6 1190.2,362.3 1191.0,356.4 C1191.8,350.5 1192.3,344.3 1193.0,340.0 C1193.7,335.7 1194.4,331.6 1195.1,330.5 C1195.8,329.4 1196.3,330.7 1197.1,333.2 C1197.9,335.7 1199.3,341.9 1200.0,345.5 C1200.7,349.1 1200.7,352.4 1201.0,354.6 C1201.3,356.8 1201.7,357.6 1202.0,358.8 C1202.3,360.1 1202.7,361.6 1203.0,362.1 C1203.3,362.6 1203.7,361.4 1204.0,361.9 C1204.3,362.4 1204.7,363.7 1205.0,364.9 C1205.3,366.2 1205.7,367.5 1206.0,369.6 C1206.3,371.6 1206.7,374.6 1207.0,377.4 C1207.3,380.1 1207.7,383.7 1208.0,386.1 C1208.3,388.5 1208.7,390.8 1209.0,391.8 C1209.3,392.9 1209.7,393.1 1210.0,392.4 C1210.3,391.7 1210.7,390.1 1211.0,387.6 C1211.3,385.1 1211.7,380.6 1212.0,377.5 C1212.3,374.4 1212.7,371.3 1213.0,368.9 C1213.3,366.6 1213.7,364.3 1214.0,363.4 C1214.3,362.5 1214.7,362.6 1215.0,363.6 C1215.3,364.6 1215.7,367.2 1216.0,369.4 C1216.3,371.7 1216.7,374.6 1217.0,377.3 C1217.3,380.0 1217.7,383.0 1218.0,385.5 C1218.3,388.0 1218.7,390.3 1219.0,392.2 C1219.3,394.2 1219.7,395.4 1220.0,397.2 C1220.3,399.1 1220.7,400.8 1221.0,403.4 C1221.3,405.9 1221.7,409.4 1222.0,412.4 C1222.3,415.4 1222.7,418.2 1223.0,421.6 C1223.3,425.0 1223.7,429.9 1224.0,432.8 C1224.3,435.7 1224.7,437.9 1225.0,438.9 C1225.3,439.9 1225.7,439.7 1226.0,438.7 C1226.3,437.8 1226.7,435.5 1227.0,433.3 C1227.3,431.1 1227.7,427.7 1228.0,425.7 C1228.3,423.6 1228.7,421.0 1229.0,420.8 C1229.3,420.6 1229.7,422.4 1230.0,424.6 C1230.3,426.7 1230.7,430.1 1231.0,433.6 C1231.3,437.1 1231.7,442.0 1232.0,445.6 C1232.3,449.3 1232.7,453.4 1233.0,455.4 C1233.3,457.5 1233.7,458.4 1234.0,457.8 C1234.3,457.3 1234.7,454.7 1235.0,452.1 C1235.3,449.4 1235.7,445.1 1236.0,442.0 C1236.3,438.9 1236.7,435.3 1237.0,433.4 C1237.3,431.5 1237.7,429.9 1238.0,430.6 C1238.3,431.2 1238.7,434.2 1239.0,437.2 C1239.3,440.3 1239.7,445.1 1240.0,448.8 C1240.3,452.5 1240.7,456.1 1241.0,459.5 C1241.3,462.8 1241.7,466.3 1242.0,468.8 C1242.3,471.2 1242.7,473.2 1243.0,474.3 C1243.3,475.5 1243.7,475.2 1244.0,475.6 C1244.3,476.1 1244.7,476.6 1245.0,477.2 C1245.3,477.7 1245.7,478.5 1246.0,478.8 C1246.3,479.2 1246.7,479.6 1247.0,479.3 C1247.3,479.1 1247.7,478.5 1248.0,477.4 C1248.3,476.3 1248.7,475.0 1249.0,472.5 C1249.3,469.9 1249.7,465.2 1250.0,462.2 C1250.3,459.2 1250.7,456.5 1251.0,454.5 C1251.3,452.5 1251.7,450.4 1252.0,450.3 C1252.3,450.1 1252.7,450.6 1253.0,453.6 C1253.3,456.7 1253.7,462.6 1254.0,468.6 C1254.3,474.7 1254.7,482.5 1255.0,489.9 C1255.3,497.3 1255.7,506.0 1256.0,513.1 C1256.3,520.3 1256.7,528.5 1257.0,532.7 C1257.3,536.9 1257.7,538.0 1258.0,538.2 C1258.3,538.4 1258.7,536.4 1259.0,533.9 C1259.3,531.3 1259.7,526.8 1260.0,522.8 C1260.3,518.8 1260.7,513.9 1261.0,509.9 C1261.3,505.9 1261.7,501.4 1262.0,498.7 C1262.3,496.0 1262.7,495.2 1263.0,494.0 C1263.3,492.8 1263.7,491.8 1264.0,491.5 C1264.3,491.3 1264.7,492.2 1265.0,492.6 C1265.3,493.0 1265.7,493.4 1266.0,493.8 C1266.3,494.3 1266.7,494.6 1267.0,495.2 C1267.3,495.7 1267.7,495.6 1268.0,497.0 C1268.3,498.4 1268.7,500.9 1269.0,503.6 C1269.3,506.2 1269.7,509.9 1270.0,513.0 C1270.3,516.1 1270.7,519.8 1271.0,522.3 C1271.3,524.8 1271.7,527.4 1272.0,528.2 C1272.3,529.0 1272.7,528.7 1273.0,527.2 C1273.3,525.7 1273.7,522.0 1274.0,519.0 C1274.3,515.9 1274.7,511.6 1275.0,508.8 C1275.3,506.1 1275.7,503.3 1276.0,502.5 C1276.3,501.6 1276.7,501.7 1277.0,503.7 C1277.3,505.8 1277.7,509.9 1278.0,514.7 C1278.3,519.5 1278.7,526.7 1279.0,532.4 C1279.3,538.1 1279.7,544.4 1280.0,548.9 C1280.3,553.5 1280.7,557.6 1281.0,559.8 C1281.3,562.0 1281.7,563.3 1282.0,562.2 C1282.3,561.0 1282.7,556.8 1283.0,552.9 C1283.3,549.0 1283.7,543.7 1284.0,538.9 C1284.3,534.1 1284.7,528.8 1285.0,524.2 C1285.3,519.6 1285.7,514.9 1286.0,511.3 C1286.3,507.8 1286.7,504.9 1287.0,502.9 C1287.3,500.8 1287.7,499.9 1288.0,499.1 C1288.3,498.2 1288.7,497.2 1289.0,497.6 C1289.3,498.0 1289.7,499.8 1290.0,501.6 C1290.3,503.5 1290.7,505.1 1291.0,508.8 C1291.3,512.6 1291.7,518.3 1292.0,524.3 C1292.3,530.3 1292.7,537.6 1293.0,544.7 C1293.3,551.8 1293.7,559.9 1294.0,567.0 C1294.3,574.1 1294.7,582.2 1295.0,587.5 C1295.3,592.7 1295.7,596.9 1296.0,598.7 C1296.3,600.4 1296.7,600.2 1297.0,597.9 C1297.3,595.7 1297.7,591.1 1298.0,585.2 C1298.3,579.4 1298.7,570.0 1299.0,562.8 C1299.3,555.6 1299.7,547.8 1300.0,542.0 C1300.3,536.2 1300.7,530.9 1301.0,527.9 C1301.3,525.0 1301.7,523.1 1302.0,524.1 C1302.3,525.0 1302.7,529.7 1303.0,533.7 C1303.3,537.7 1303.7,543.2 1304.0,548.1 C1304.3,552.9 1304.7,558.6 1305.0,562.9 C1305.3,567.2 1305.7,571.2 1306.0,573.9 C1306.3,576.6 1306.7,578.1 1307.0,579.2 C1307.3,580.3 1307.7,580.0 1308.0,580.6 C1308.3,581.1 1308.7,581.6 1309.0,582.5 C1309.3,583.4 1309.7,584.8 1310.0,586.1 C1310.3,587.5 1310.7,589.0 1311.0,590.6 C1311.3,592.2 1311.7,594.3 1312.0,595.6 C1312.3,596.9 1312.7,597.6 1313.0,598.4 C1313.3,599.1 1313.7,599.2 1314.0,600.2 C1314.3,601.2 1314.7,602.2 1315.0,604.2 C1315.3,606.2 1315.7,609.5 1316.0,612.0 C1316.3,614.5 1316.7,616.2 1317.0,619.2 C1317.3,622.1 1317.7,626.7 1318.0,629.8 C1318.3,632.8 1318.7,636.0 1319.0,637.4 C1319.3,638.9 1319.7,639.2 1320.0,638.5 C1320.3,637.7 1320.7,635.1 1321.0,633.0 C1321.3,630.8 1321.7,628.3 1322.0,625.6 C1322.3,622.8 1322.7,618.1 1323.0,616.3 C1323.3,614.5 1323.7,613.9 1324.0,614.9 C1324.3,615.8 1324.7,618.3 1325.0,621.8 C1325.3,625.2 1325.7,630.4 1326.0,635.7 C1326.3,641.0 1326.7,647.5 1327.0,653.6 C1327.3,659.8 1327.7,668.1 1328.0,672.8 C1328.3,677.4 1328.7,679.4 1329.0,681.6 C1329.3,683.7 1329.7,685.1 1330.0,685.5 C1330.3,685.9 1330.7,685.2 1331.0,684.1 C1331.3,683.0 1331.7,679.6 1332.0,678.8 C1332.3,678.0 1332.7,678.5 1333.0,679.4 C1333.3,680.3 1333.7,681.8 1334.0,684.1 C1334.3,686.4 1334.7,690.3 1335.0,693.2 C1335.3,696.1 1335.7,700.2 1336.0,701.7 C1336.3,703.2 1336.7,702.0 1337.0,702.2 C1337.3,702.4 1337.7,703.1 1338.0,703.2 C1338.3,703.3 1338.7,702.3 1339.0,702.7 C1339.3,703.1 1339.7,704.8 1340.0,705.4 C1340.3,706.1 1340.7,707.4 1341.0,706.5 C1341.3,705.7 1341.7,703.1 1342.0,700.5 C1342.3,697.9 1342.7,693.0 1343.0,691.0 C1343.3,688.9 1343.7,688.3 1344.0,688.0 C1344.3,687.8 1344.7,689.6 1345.0,689.5 C1345.3,689.4 1345.7,688.8 1346.0,687.7 C1346.3,686.5 1346.7,684.0 1347.0,682.5 C1347.3,681.0 1347.7,679.9 1348.0,678.7 C1348.3,677.6 1348.7,676.5 1349.0,675.5 C1349.3,674.6 1349.7,673.2 1350.0,673.2 C1350.3,673.3 1350.7,674.1 1351.0,675.9 C1351.3,677.8 1351.7,681.7 1352.0,684.4 C1352.3,687.1 1352.7,690.9 1353.0,692.4 C1353.3,693.9 1353.7,693.4 1354.0,693.5 C1354.3,693.6 1354.7,692.3 1355.0,693.1 C1355.3,694.0 1355.7,696.2 1356.0,698.4 C1356.3,700.5 1356.7,704.1 1357.0,706.1 C1357.3,708.1 1357.7,709.4 1358.0,710.3 C1358.3,711.3 1358.7,711.3 1359.0,711.8 C1359.3,712.3 1359.7,713.0 1360.0,713.5 C1360.3,714.0 1360.7,714.5 1361.0,714.7 C1361.3,714.9 1361.7,714.4 1362.0,714.8 C1362.3,715.1 1362.7,715.8 1363.0,716.8 C1363.3,717.8 1363.7,720.1 1364.0,720.9 C1364.3,721.8 1364.7,722.4 1365.0,721.7 C1365.3,720.9 1365.7,718.1 1366.0,716.6 C1366.3,715.0 1366.7,712.9 1367.0,712.5 C1367.3,712.2 1367.7,713.7 1368.0,714.5 C1368.3,715.3 1368.7,717.1 1369.0,717.2 C1369.3,717.2 1369.7,716.1 1370.0,714.8 C1370.3,713.6 1370.7,711.0 1371.0,709.7 C1371.3,708.4 1371.7,707.4 1372.0,707.0 C1372.3,706.6 1372.7,707.2 1373.0,707.5 C1373.3,707.7 1373.7,707.9 1374.0,708.4 C1374.3,708.9 1374.7,709.6 1375.0,710.5 C1375.3,711.3 1375.7,712.9 1376.0,713.6 C1376.3,714.4 1376.7,715.5 1377.0,714.9 C1377.3,714.3 1377.7,711.2 1378.0,710.1 C1378.3,709.0 1378.7,707.8 1379.0,708.6 C1379.3,709.4 1379.7,712.8 1380.0,714.9 C1380.3,717.0 1380.7,720.0 1381.0,721.1 C1381.3,722.2 1381.7,721.8 1382.0,721.4 C1382.3,721.0 1382.7,719.5 1383.0,718.8 C1383.3,718.2 1383.7,717.5 1384.0,717.5 C1384.3,717.6 1384.7,718.6 1385.0,719.0 C1385.3,719.3 1385.7,719.4 1386.0,719.5 C1386.3,719.5 1386.7,719.4 1387.0,719.4 C1387.3,719.3 1387.7,719.4 1388.0,719.3 C1388.3,719.1 1388.7,718.9 1389.0,718.3 C1389.3,717.7 1389.7,716.3 1390.0,715.6 C1390.3,715.0 1390.7,714.2 1391.0,714.4 C1391.3,714.6 1391.7,716.2 1392.0,716.9 C1392.3,717.6 1392.7,718.8 1393.0,718.8 C1393.3,718.7 1393.7,717.5 1394.0,716.4 C1394.3,715.4 1394.7,713.4 1395.0,712.6 C1395.3,711.8 1395.7,711.6 1396.0,711.7 C1396.3,711.7 1396.7,712.7 1397.0,712.9 C1397.3,713.1 1397.7,713.1 1398.0,713.0 C1398.3,712.9 1398.7,712.4 1399.0,712.2 C1399.3,711.9 1399.7,712.0 1400.0,711.6 C1400.3,711.2 1400.7,710.8 1401.0,710.1 C1401.3,709.3 1401.7,707.6 1402.0,706.9 C1402.3,706.3 1402.7,705.7 1403.0,706.1 C1403.3,706.5 1403.7,708.6 1404.0,709.3 C1404.3,710.1 1404.7,711.0 1405.0,710.7 C1405.3,710.4 1405.7,708.7 1406.0,707.6 C1406.3,706.5 1406.7,704.5 1407.0,704.1 C1407.3,703.7 1407.7,704.4 1408.0,705.1 C1408.3,705.8 1408.7,707.5 1409.0,708.1 C1409.3,708.7 1409.7,708.8 1410.0,708.6 C1410.3,708.5 1410.7,707.5 1411.0,707.1 C1411.3,706.7 1411.7,706.6 1412.0,706.3 C1412.3,706.1 1412.7,706.0 1413.0,705.8 C1413.3,705.5 1413.7,704.8 1414.0,704.7 C1414.3,704.5 1414.7,704.6 1415.0,704.9 C1415.3,705.2 1415.7,706.4 1416.0,706.7 C1416.3,706.9 1416.7,707.2 1417.0,706.6 C1417.3,705.9 1417.7,704.0 1418.0,703.0 C1418.3,701.9 1418.7,700.6 1419.0,700.3 C1419.3,700.1 1419.7,701.0 1420.0,701.5 C1420.3,702.1 1420.7,703.5 1421.0,703.5 C1421.3,703.6 1421.7,702.7 1422.0,701.9 C1422.3,701.2 1422.7,699.7 1423.0,699.0 C1423.3,698.3 1423.7,697.9 1424.0,697.7 C1424.3,697.5 1424.7,698.0 1425.0,697.9 C1425.3,697.8 1425.7,697.3 1426.0,697.1 C1426.3,696.9 1426.7,696.7 1427.0,696.7 C1427.3,696.8 1427.7,697.4 1428.0,697.4 C1428.3,697.4 1428.7,697.3 1429.0,696.8 C1429.3,696.2 1429.7,694.7 1430.0,694.1 C1430.3,693.5 1430.7,692.8 1431.0,693.0 C1431.3,693.2 1431.7,694.4 1432.0,695.1 C1432.3,695.7 1432.7,696.8 1433.0,696.9 C1433.3,696.9 1433.7,695.8 1434.0,695.2 C1434.3,694.6 1434.7,693.5 1435.0,693.2 C1435.3,693.0 1435.7,693.4 1436.0,693.6 C1436.3,693.8 1436.7,694.4 1437.0,694.6 C1437.3,694.8 1437.7,694.7 1438.0,694.8 C1438.3,694.9 1438.7,695.2 1439.0,695.4 C1439.3,695.6 1439.8,696.0 1440.0,696.1" stroke="#b400dc" stroke-width="2.3"/>
<path d="M216.0,334.1 L225.1,333.2 L288.8,320.0 L338.3,315.8 L378.9,330.3 L412.8,354.0 L450.6,383.0 L488.4,408.2 L500.0,416.3" stroke="#0000f0" stroke-width="2.3"/>
<path d="M500.0,416.3 C503.3,418.3 513.3,424.7 520.0,428.4 C526.7,432.1 533.5,435.4 540.2,438.4 C546.9,441.4 553.5,444.1 560.2,446.4 C566.9,448.7 573.6,450.8 580.3,452.4 C587.0,454.0 594.4,455.3 600.4,455.9 C606.4,456.5 611.5,456.2 616.5,456.0 C621.5,455.8 625.8,455.4 630.5,454.5 C635.2,453.6 639.6,452.4 644.6,450.4 C649.6,448.4 655.9,445.2 660.6,442.4 C665.3,439.6 668.7,436.8 672.7,433.4 C676.7,430.0 680.7,426.5 684.7,422.3 C688.7,418.1 692.8,413.0 696.8,408.3 C700.8,403.6 704.9,397.6 708.8,394.2 C712.6,390.8 716.9,389.0 719.9,388.2 C722.9,387.4 724.1,387.7 726.9,389.2 C729.7,390.7 733.2,393.7 736.9,397.2 C740.6,400.7 745.0,406.1 749.0,410.3 C753.0,414.5 757.0,418.8 761.0,422.3 C765.0,425.8 769.1,429.1 773.1,431.4 C777.1,433.7 781.5,435.1 785.1,436.0 C788.8,436.9 792.1,436.8 795.0,437.0 C797.9,437.2 799.2,437.2 802.6,437.0 C806.0,436.8 811.0,436.4 815.2,435.8 C819.4,435.2 823.6,434.4 827.8,433.3 C832.0,432.2 836.6,431.0 840.4,429.5 C844.2,428.0 847.1,426.7 850.5,424.4 C853.9,422.1 857.2,419.0 860.6,415.6 C864.0,412.2 867.4,408.5 870.7,404.3 C874.1,400.1 877.4,394.8 880.7,390.4 C884.1,386.0 887.4,381.8 890.8,377.8 C894.2,373.8 897.5,370.3 900.9,366.5 C904.3,362.7 907.6,359.5 911.0,355.1 C914.4,350.7 918.3,343.9 921.1,340.0 C923.9,336.1 925.9,333.2 928.0,332.0 C930.1,330.8 932.2,331.7 934.0,333.0 C935.8,334.3 936.8,337.4 938.7,340.0 C940.7,342.6 943.6,346.5 945.7,348.9 C947.8,351.3 949.4,353.3 951.3,354.6 C953.2,355.9 955.1,356.5 957.0,356.5 C958.9,356.5 960.8,355.9 962.7,354.6 C964.6,353.3 966.5,351.4 968.4,348.9 C970.3,346.4 972.1,343.2 974.0,339.4 C975.9,335.6 978.0,330.3 979.7,326.2 C981.4,322.1 982.9,317.5 984.4,314.8 C985.9,312.1 987.4,310.1 988.8,310.1 C990.2,310.1 991.7,311.5 993.0,314.8 C994.3,318.1 995.5,324.3 996.7,330.0 C998.0,335.7 999.2,343.2 1000.5,348.9 C1001.8,354.6 1002.9,359.8 1004.3,364.0 C1005.7,368.2 1007.4,371.7 1009.0,374.4 C1010.6,377.1 1012.5,379.0 1013.8,380.1 C1015.0,381.2 1015.6,381.3 1016.5,381.0 C1017.4,380.7 1018.5,379.5 1019.4,378.2 C1020.2,376.9 1020.6,376.5 1021.6,373.2 C1022.6,369.9 1024.1,364.6 1025.3,358.5 C1026.5,352.4 1027.8,344.1 1029.0,336.5 C1030.2,328.9 1031.5,319.5 1032.6,312.9 C1033.7,306.3 1034.6,300.5 1035.6,296.8 C1036.6,293.1 1037.5,290.9 1038.5,290.9 C1039.5,290.9 1040.5,294.5 1041.5,296.8 C1042.5,299.1 1043.4,302.9 1044.4,304.9 C1045.4,306.8 1046.5,308.4 1047.6,308.5 C1048.7,308.6 1049.9,307.6 1051.0,305.6 C1052.1,303.7 1053.0,299.2 1054.0,296.8 C1055.0,294.4 1056.1,291.4 1056.9,290.9 C1057.8,290.4 1058.2,290.9 1059.1,293.8 C1060.0,296.7 1061.1,303.4 1062.1,308.5 C1063.1,313.6 1064.0,319.8 1065.0,324.7 C1066.0,329.6 1066.9,334.6 1067.9,337.9 C1068.9,341.2 1070.0,343.4 1070.9,344.6 C1071.8,345.8 1072.2,345.7 1073.1,345.3 C1073.9,344.9 1075.0,343.9 1076.0,342.4 C1077.0,340.9 1078.1,337.7 1079.0,336.5 C1079.9,335.3 1080.5,334.3 1081.2,335.0 C1081.9,335.7 1082.7,337.7 1083.4,340.9 C1084.1,344.1 1084.8,349.5 1085.6,354.1 C1086.4,358.8 1087.5,364.4 1088.5,368.8 C1089.5,373.2 1090.5,377.7 1091.5,380.6 C1092.5,383.6 1093.4,385.4 1094.4,386.5 C1095.4,387.6 1096.4,387.7 1097.4,387.2 C1098.4,386.7 1099.3,384.7 1100.2,383.7 C1101.1,382.7 1102.0,381.0 1103.0,381.0 C1104.0,381.0 1105.2,382.3 1106.4,383.7 C1107.7,385.1 1109.1,387.7 1110.5,389.2 C1111.9,390.7 1113.5,392.4 1114.6,392.6 C1115.7,392.8 1116.4,392.4 1117.3,390.5 C1118.2,388.6 1119.1,384.9 1120.0,381.0 C1120.9,377.1 1122.0,370.9 1122.8,367.3 C1123.6,363.7 1124.4,359.8 1125.1,359.1 C1125.8,358.4 1126.2,360.2 1126.8,363.2 C1127.4,366.2 1128.2,371.9 1128.9,376.9 C1129.6,381.9 1130.2,388.3 1130.9,393.3 C1131.6,398.3 1132.3,403.0 1133.0,406.9 C1133.7,410.8 1134.4,414.4 1135.0,416.5 C1135.6,418.6 1136.0,419.7 1136.7,419.2 C1137.4,418.7 1138.3,416.4 1139.1,413.7 C1139.8,411.0 1140.5,407.1 1141.2,402.8 C1141.9,398.5 1142.6,392.4 1143.2,387.8 C1143.8,383.2 1144.4,378.2 1144.9,375.5 C1145.4,372.8 1145.7,371.2 1146.2,371.4 C1146.7,371.6 1147.3,374.2 1148.0,376.9 C1148.7,379.6 1149.4,384.4 1150.1,387.8 C1150.8,391.2 1151.4,394.9 1152.1,397.4 C1152.8,399.9 1153.4,401.7 1154.1,402.8 C1154.8,403.9 1155.5,405.1 1156.2,404.2 C1156.9,403.3 1157.5,401.7 1158.2,397.4 C1158.9,393.1 1159.6,385.0 1160.3,378.2 C1161.0,371.4 1161.7,362.3 1162.3,356.4 C1162.9,350.5 1163.5,345.9 1164.0,342.8 C1164.5,339.7 1164.8,338.0 1165.3,338.0 C1165.8,338.0 1166.2,339.5 1166.7,342.8 C1167.2,346.1 1167.9,352.4 1168.5,357.8 C1169.1,363.2 1169.8,370.7 1170.5,375.5 C1171.2,380.3 1171.9,384.3 1172.6,386.4 C1173.3,388.4 1173.9,388.7 1174.6,387.8 C1175.3,386.9 1176.0,383.7 1176.7,381.0 C1177.4,378.3 1178.1,373.6 1178.7,371.4 C1179.3,369.2 1179.8,368.0 1180.4,368.0 C1181.0,368.0 1181.5,369.7 1182.1,371.4 C1182.7,373.1 1183.5,376.6 1184.2,378.2 C1184.9,379.8 1185.5,382.1 1186.2,381.0 C1186.9,379.9 1187.7,376.4 1188.3,371.4 C1188.9,366.4 1189.4,358.3 1190.0,351.0 C1190.6,343.7 1191.2,334.1 1191.7,327.7 C1192.2,321.3 1192.7,315.5 1193.0,312.7 C1193.3,309.9 1193.3,310.0 1193.6,310.7 C1193.9,311.4 1194.3,312.1 1194.7,317.0 C1195.1,321.9 1195.6,330.6 1196.2,340.0 C1196.8,349.4 1197.4,365.2 1198.1,373.5 C1198.8,381.8 1199.6,387.7 1200.3,389.7 C1201.0,391.7 1201.8,389.0 1202.5,385.3 C1203.2,381.6 1204.0,372.2 1204.7,367.6 C1205.4,363.0 1206.0,358.1 1206.5,357.4 C1207.0,356.7 1207.3,358.5 1207.9,363.2 C1208.5,367.9 1209.2,377.4 1209.9,385.3 C1210.6,393.2 1211.4,404.2 1212.1,410.3 C1212.8,416.4 1213.2,421.4 1213.8,422.1 C1214.4,422.8 1215.0,419.4 1215.7,414.7 C1216.4,410.0 1217.2,399.0 1217.9,394.1 C1218.6,389.2 1219.1,384.8 1219.7,385.3 C1220.3,385.8 1220.9,390.7 1221.6,397.1 C1222.3,403.6 1223.1,415.0 1223.8,424.0 C1224.5,433.0 1224.8,445.0 1225.5,451.1 C1226.2,457.2 1227.0,460.0 1227.9,460.9 C1228.8,461.8 1230.0,458.2 1230.9,456.4 C1231.8,454.6 1232.4,449.6 1233.2,450.2 C1234.0,450.8 1234.9,457.2 1235.7,460.0 C1236.5,462.8 1237.2,467.1 1238.0,467.1 C1238.8,467.1 1239.7,464.4 1240.4,460.0 C1241.2,455.6 1241.8,445.8 1242.5,440.4 C1243.2,435.0 1243.9,429.1 1244.6,427.9 C1245.2,426.7 1245.7,428.1 1246.4,433.2 C1247.1,438.2 1248.0,450.2 1248.8,458.2 C1249.6,466.2 1250.4,476.6 1251.1,481.4 C1251.8,486.2 1252.5,487.7 1253.2,486.8 C1253.9,485.9 1254.8,479.2 1255.5,476.1 C1256.2,473.0 1257.0,468.3 1257.7,468.0 C1258.5,467.7 1259.1,470.0 1260.0,474.3 C1260.9,478.6 1261.9,487.3 1263.0,493.9 C1264.1,500.4 1265.4,507.7 1266.6,513.6 C1267.8,519.6 1269.2,526.3 1270.2,529.6 C1271.2,532.9 1271.8,534.7 1272.5,533.2 C1273.2,531.7 1273.9,525.8 1274.6,520.7 C1275.2,515.7 1275.9,506.8 1276.4,502.9 C1277.0,499.0 1277.4,496.3 1277.9,497.5 C1278.4,498.7 1278.9,503.1 1279.6,510.0 C1280.2,516.9 1281.1,530.0 1281.8,538.6 C1282.5,547.2 1283.2,557.0 1283.9,561.8 C1284.6,566.5 1285.0,568.0 1285.7,567.1 C1286.4,566.2 1287.2,560.0 1288.0,556.4 C1288.8,552.8 1289.7,546.3 1290.4,545.7 C1291.2,545.1 1291.7,549.3 1292.5,552.9 C1293.3,556.5 1294.4,565.3 1295.2,567.1 C1296.0,568.9 1296.8,568.4 1297.5,563.6 C1298.2,558.9 1298.9,545.3 1299.6,538.6 C1300.2,531.9 1300.8,524.6 1301.4,523.4 C1302.0,522.2 1302.5,526.5 1303.2,531.4 C1304.0,536.3 1305.0,547.2 1305.9,552.9 C1306.8,558.6 1307.8,564.5 1308.6,565.4 C1309.4,566.3 1310.1,559.7 1310.7,558.2 C1311.3,556.7 1311.6,554.9 1312.1,556.4 C1312.6,557.9 1313.3,563.2 1313.9,567.1 C1314.5,571.0 1315.0,574.5 1315.7,580.0 C1316.4,585.5 1317.3,594.7 1318.0,600.0 C1318.7,605.3 1319.3,611.0 1320.0,612.0 C1320.7,613.0 1321.3,605.0 1322.0,606.0 C1322.7,607.0 1323.3,612.3 1324.0,618.0 C1324.7,623.7 1325.3,633.8 1326.0,640.0 C1326.7,646.2 1327.3,653.7 1328.0,655.0 C1328.7,656.3 1329.3,650.5 1330.0,648.0 C1330.7,645.5 1331.3,638.8 1332.0,640.0 C1332.7,641.2 1333.3,649.7 1334.0,655.0 C1334.7,660.3 1335.3,666.2 1336.0,672.0 C1336.7,677.8 1337.3,685.3 1338.0,690.0 C1338.7,694.7 1339.1,701.2 1340.0,700.0 C1340.9,698.8 1342.3,684.5 1343.2,683.0 C1344.1,681.5 1344.7,693.5 1345.5,690.9 C1346.3,688.3 1347.2,673.1 1347.9,667.3 C1348.6,661.5 1348.9,656.2 1349.5,656.2 C1350.1,656.2 1350.6,662.0 1351.3,667.3 C1352.0,672.6 1352.7,683.1 1353.4,687.8 C1354.2,692.5 1355.0,693.8 1355.8,695.6 C1356.6,697.4 1357.3,696.7 1358.1,698.8 C1358.9,700.9 1359.6,706.2 1360.5,708.3 C1361.4,710.4 1362.7,711.1 1363.6,711.4 C1364.5,711.6 1365.2,709.3 1366.0,709.8 C1366.8,710.3 1367.6,715.9 1368.4,714.6 C1369.2,713.3 1370.1,704.9 1370.7,702.0 C1371.3,699.1 1371.6,696.2 1372.3,697.2 C1373.0,698.2 1373.9,705.9 1374.7,708.3 C1375.5,710.7 1376.3,712.7 1377.0,711.4 C1377.7,710.1 1378.0,700.1 1378.6,700.4 C1379.2,700.7 1380.0,709.7 1380.7,713.0 C1381.4,716.3 1382.1,720.4 1382.9,720.1 C1383.7,719.8 1384.8,713.4 1385.7,711.4 C1386.6,709.4 1387.3,708.0 1388.1,708.3 C1388.9,708.6 1389.6,713.0 1390.4,713.0 C1391.2,713.0 1392.0,708.6 1392.8,708.3 C1393.6,708.0 1394.4,711.7 1395.2,711.4 C1396.0,711.1 1396.6,707.0 1397.5,706.7 C1398.4,706.4 1399.8,710.3 1400.7,709.8 C1401.6,709.3 1402.1,704.3 1403.0,703.5 C1403.9,702.7 1405.2,705.4 1406.2,705.1 C1407.2,704.9 1408.2,702.3 1409.3,702.0 C1410.3,701.7 1411.4,704.0 1412.5,703.5 C1413.6,703.0 1414.7,699.3 1415.7,698.8 C1416.8,698.3 1417.8,700.9 1418.8,700.4 C1419.8,699.9 1421.0,696.1 1422.0,695.6 C1423.0,695.1 1424.2,697.7 1425.1,697.2 C1426.0,696.7 1426.6,692.8 1427.5,692.5 C1428.4,692.2 1429.5,695.9 1430.6,695.6 C1431.6,695.3 1432.9,691.1 1433.8,690.9 C1434.7,690.6 1435.3,694.4 1436.1,694.1 C1436.9,693.8 1437.8,689.3 1438.5,689.3 C1439.2,689.3 1439.8,693.3 1440.0,694.1" stroke="#0000f0" stroke-width="2.3"/>
<path d="M216.0,323.0 L225.1,325.3 L288.8,345.5 L338.3,359.3 L378.9,370.0 L412.8,378.0 L450.6,386.2 L488.4,391.9 L500.0,393.8" stroke="#000" stroke-width="4"/>
<path d="M500.0,393.8 C506.7,394.4 526.8,396.0 540.2,397.2 C553.6,398.4 570.3,399.9 580.3,401.2 C590.3,402.4 593.7,403.3 600.4,404.7 C607.1,406.1 613.8,407.5 620.5,409.3 C627.2,411.1 633.9,413.5 640.6,415.3 C647.3,417.1 653.9,419.0 660.6,420.3 C667.3,421.6 674.0,422.6 680.7,423.3 C687.4,424.0 694.1,424.5 700.8,424.3 C707.5,424.1 714.2,423.1 720.9,421.9 C727.6,420.7 735.0,418.7 741.0,417.3 C747.0,415.9 752.0,414.0 757.0,413.3 C762.0,412.6 766.4,412.6 771.1,412.9 C775.8,413.2 782.0,414.6 785.1,415.3 C788.2,416.0 787.1,415.9 790.0,416.9 C792.9,417.9 798.4,420.4 802.6,421.3 C806.8,422.2 811.0,422.6 815.2,422.5 C819.4,422.4 823.6,421.8 827.8,420.7 C832.0,419.6 836.2,417.7 840.4,416.2 C844.6,414.7 848.8,412.9 853.0,411.8 C857.2,410.7 861.4,409.8 865.6,409.3 C869.8,408.8 874.4,409.1 878.2,408.7 C882.0,408.3 885.1,407.9 888.3,406.8 C891.4,405.7 894.2,404.1 897.1,401.8 C900.0,399.5 903.2,396.1 905.9,392.9 C908.6,389.7 911.0,385.8 913.5,382.8 C916.0,379.8 918.6,376.6 921.1,374.7 C923.6,372.8 925.7,371.8 928.6,371.3 C931.5,370.8 935.5,371.5 938.7,371.5 C941.9,371.5 944.9,372.0 947.6,371.2 C950.3,370.4 952.6,368.9 955.1,366.9 C957.6,364.9 960.2,361.8 962.7,359.3 C965.2,356.8 967.9,353.8 970.3,351.7 C972.7,349.6 974.8,347.7 976.9,346.6 C979.0,345.5 980.5,345.0 982.6,345.1 C984.7,345.2 986.9,346.2 989.2,347.4 C991.6,348.6 994.3,351.0 996.7,352.1 C999.1,353.2 1001.4,353.9 1003.4,354.0 C1005.4,354.1 1007.1,353.9 1009.0,352.7 C1010.9,351.5 1013.3,350.0 1015.0,346.8 C1016.7,343.6 1017.9,337.9 1019.4,333.5 C1020.9,329.1 1022.3,324.2 1023.8,320.3 C1025.3,316.4 1026.7,312.8 1028.2,310.0 C1029.7,307.2 1030.9,305.1 1032.6,303.4 C1034.3,301.7 1036.5,301.1 1038.5,300.0 C1040.5,298.9 1042.8,297.4 1044.4,296.5 C1046.0,295.6 1046.9,294.6 1048.1,294.6 C1049.3,294.7 1050.6,295.2 1051.8,296.8 C1053.0,298.4 1054.2,301.7 1055.4,304.1 C1056.6,306.6 1057.9,309.4 1059.1,311.5 C1060.3,313.6 1061.6,315.6 1062.8,316.6 C1064.0,317.6 1065.3,317.8 1066.5,317.4 C1067.7,317.0 1069.0,315.3 1070.1,314.4 C1071.2,313.5 1072.2,312.1 1073.1,312.2 C1074.0,312.3 1074.9,313.3 1075.6,315.1 C1076.3,316.9 1076.8,319.9 1077.5,323.2 C1078.2,326.5 1079.0,331.1 1079.7,335.0 C1080.4,338.9 1081.2,343.1 1081.9,346.8 C1082.6,350.5 1083.2,353.7 1084.1,357.1 C1085.0,360.5 1086.1,364.3 1087.1,367.4 C1088.1,370.4 1089.0,373.4 1090.0,375.4 C1091.0,377.3 1091.8,378.4 1092.9,379.1 C1094.0,379.9 1095.4,380.0 1096.6,379.9 C1097.8,379.8 1099.2,378.6 1100.3,378.4 C1101.4,378.2 1102.2,378.2 1103.2,378.6 C1104.2,379.0 1105.3,380.0 1106.4,381.0 C1107.5,382.0 1108.7,383.7 1109.8,384.4 C1110.9,385.1 1112.2,385.5 1113.2,385.1 C1114.2,384.8 1115.0,383.9 1115.9,382.3 C1116.8,380.7 1117.8,378.0 1118.7,375.5 C1119.6,373.0 1120.5,369.5 1121.4,367.3 C1122.3,365.1 1123.3,363.4 1124.1,362.5 C1124.9,361.6 1125.5,361.3 1126.2,361.9 C1126.9,362.5 1127.4,363.7 1128.2,366.0 C1129.0,368.3 1130.0,372.7 1130.9,375.5 C1131.8,378.3 1132.8,381.3 1133.7,383.0 C1134.6,384.7 1135.5,385.8 1136.4,385.7 C1137.3,385.6 1138.2,384.4 1139.1,382.3 C1140.0,380.2 1141.1,375.4 1141.9,372.8 C1142.7,370.2 1143.2,367.9 1143.9,366.6 C1144.6,365.4 1145.3,365.0 1146.0,365.3 C1146.7,365.6 1147.2,366.6 1148.0,368.7 C1148.8,370.8 1149.8,375.7 1150.7,378.2 C1151.6,380.7 1152.7,382.5 1153.5,383.7 C1154.3,384.9 1154.8,385.3 1155.5,385.1 C1156.2,384.9 1156.9,384.1 1157.6,382.3 C1158.3,380.5 1158.9,376.8 1159.6,374.1 C1160.3,371.4 1161.0,368.0 1161.7,366.0 C1162.4,364.0 1163.0,362.5 1163.7,361.9 C1164.4,361.3 1165.1,361.4 1165.8,362.5 C1166.5,363.6 1167.1,366.3 1167.8,368.7 C1168.5,371.1 1169.1,374.6 1169.8,376.9 C1170.5,379.2 1171.2,381.3 1171.9,382.3 C1172.6,383.3 1173.2,383.7 1173.9,383.0 C1174.6,382.3 1175.3,380.6 1176.0,378.2 C1176.7,375.8 1177.3,371.2 1178.0,368.7 C1178.7,366.2 1179.5,364.2 1180.1,363.2 C1180.7,362.2 1181.1,362.0 1181.7,362.5 C1182.3,363.0 1182.9,364.5 1183.5,366.0 C1184.1,367.5 1184.8,370.3 1185.5,371.4 C1186.2,372.5 1186.9,373.9 1187.6,372.8 C1188.3,371.7 1188.9,368.5 1189.6,364.6 C1190.3,360.7 1191.1,353.7 1191.7,349.6 C1192.3,345.5 1192.8,341.9 1193.3,340.0 C1193.8,338.1 1194.0,337.8 1194.4,338.0 C1194.8,338.2 1195.4,339.1 1195.8,341.4 C1196.2,343.7 1196.3,347.1 1196.8,352.0 C1197.3,356.9 1198.1,365.5 1198.8,370.6 C1199.5,375.7 1200.3,380.1 1201.0,382.4 C1201.7,384.7 1202.5,385.1 1203.2,384.6 C1203.9,384.1 1204.7,381.2 1205.4,379.4 C1206.1,377.5 1206.8,374.2 1207.6,373.5 C1208.3,372.8 1209.2,373.3 1209.9,375.0 C1210.7,376.7 1211.4,380.9 1212.1,383.8 C1212.8,386.7 1213.6,390.6 1214.3,392.6 C1215.0,394.6 1215.8,395.4 1216.5,395.6 C1217.2,395.9 1218.0,393.4 1218.7,394.1 C1219.4,394.8 1220.3,396.9 1220.9,400.0 C1221.5,403.1 1222.0,408.9 1222.5,413.0 C1223.0,417.1 1223.3,420.3 1223.8,424.3 C1224.3,428.3 1224.8,433.7 1225.5,436.8 C1226.2,439.9 1227.3,442.4 1228.2,443.0 C1229.1,443.6 1230.0,441.4 1230.9,440.4 C1231.8,439.4 1232.8,436.9 1233.6,436.8 C1234.4,436.7 1235.0,436.8 1235.7,439.5 C1236.4,442.2 1237.2,449.2 1238.0,452.9 C1238.8,456.6 1239.8,460.6 1240.7,461.8 C1241.6,463.0 1242.6,460.8 1243.4,460.0 C1244.2,459.2 1245.0,456.2 1245.7,456.8 C1246.5,457.4 1247.2,459.5 1247.9,463.6 C1248.6,467.7 1249.3,475.8 1250.0,481.4 C1250.7,487.0 1251.5,493.6 1252.3,497.5 C1253.1,501.4 1254.1,504.6 1255.0,504.6 C1255.9,504.6 1256.9,499.4 1257.7,497.5 C1258.5,495.6 1259.3,493.3 1260.0,493.0 C1260.7,492.7 1261.3,493.2 1262.1,495.7 C1262.9,498.2 1263.9,505.4 1264.8,508.2 C1265.7,511.0 1266.6,512.2 1267.5,512.7 C1268.4,513.2 1269.4,511.3 1270.2,510.9 C1271.0,510.4 1271.8,509.0 1272.5,510.0 C1273.2,511.0 1273.8,513.8 1274.6,517.1 C1275.4,520.4 1276.4,526.9 1277.3,529.6 C1278.2,532.3 1279.1,533.5 1280.0,533.2 C1280.9,532.9 1281.8,530.6 1282.7,527.9 C1283.6,525.2 1284.7,519.3 1285.4,517.1 C1286.1,514.9 1286.5,513.9 1287.1,514.5 C1287.7,515.1 1288.2,516.7 1288.9,520.7 C1289.6,524.7 1290.3,533.0 1291.1,538.6 C1291.8,544.2 1292.6,550.7 1293.4,554.6 C1294.2,558.5 1295.0,561.8 1295.7,561.8 C1296.5,561.8 1297.2,557.4 1297.9,554.6 C1298.7,551.8 1299.5,545.7 1300.2,544.8 C1300.9,543.9 1301.6,546.5 1302.3,549.3 C1303.0,552.1 1303.7,558.2 1304.6,561.8 C1305.5,565.4 1306.9,568.5 1307.7,570.7 C1308.5,572.9 1308.6,572.4 1309.2,575.2 C1309.8,578.0 1310.8,582.5 1311.6,587.3 C1312.4,592.1 1313.2,600.8 1314.0,604.2 C1314.8,607.6 1315.6,608.0 1316.4,607.8 C1317.2,607.6 1318.0,602.4 1318.8,603.0 C1319.6,603.6 1320.4,606.4 1321.2,611.4 C1322.0,616.4 1322.8,626.8 1323.6,633.2 C1324.4,639.7 1325.3,648.1 1326.1,650.1 C1326.9,652.1 1327.8,647.7 1328.5,645.3 C1329.2,642.9 1329.8,635.6 1330.4,635.6 C1331.0,635.6 1331.5,640.1 1332.1,645.3 C1332.7,650.5 1333.3,661.8 1334.0,667.0 C1334.7,672.2 1335.3,675.5 1336.2,676.7 C1337.1,677.9 1338.4,673.1 1339.3,674.3 C1340.2,675.5 1341.0,680.3 1341.8,683.9 C1342.6,687.5 1343.2,694.4 1344.2,696.0 C1345.2,697.6 1346.8,692.4 1347.8,693.6 C1348.8,694.8 1349.4,700.4 1350.2,703.2 C1351.0,706.0 1351.7,709.9 1352.6,710.5 C1353.5,711.1 1354.6,706.1 1355.5,706.9 C1356.4,707.7 1357.1,712.1 1357.9,715.3 C1358.7,718.5 1359.6,725.0 1360.4,726.2 C1361.2,727.4 1362.1,724.4 1362.8,722.6 C1363.5,720.8 1364.0,714.5 1364.7,715.3 C1365.4,716.1 1366.1,724.0 1367.1,727.4 C1368.1,730.8 1369.8,734.2 1370.8,735.8 C1371.8,737.4 1372.5,735.4 1373.2,737.1 C1373.9,738.8 1374.1,743.8 1374.7,746.1 C1375.3,748.4 1376.0,748.1 1376.6,750.8 C1377.2,753.4 1378.2,760.1 1378.5,762.0" stroke="#000" stroke-width="4"/>
</g>
<text transform="translate(160,771.7) scale(0.950,1)" font-size="50.6" text-anchor="end"><tspan dy="5.8">−</tspan><tspan dy="-5.8">30</tspan></text>
<text transform="translate(160,681.7) scale(0.950,1)" font-size="50.6" text-anchor="end"><tspan dy="5.8">−</tspan><tspan dy="-5.8">20</tspan></text>
<text transform="translate(160,591.7) scale(0.950,1)" font-size="50.6" text-anchor="end"><tspan dy="5.8">−</tspan><tspan dy="-5.8">10</tspan></text>
<text transform="translate(160,501.7) scale(0.950,1)" font-size="50.6" text-anchor="end">0</text>
<text transform="translate(160,411.7) scale(0.950,1)" font-size="50.6" text-anchor="end">10</text>
<text transform="translate(160,321.7) scale(0.950,1)" font-size="50.6" text-anchor="end">20</text>
<text transform="translate(160,231.7) scale(0.950,1)" font-size="50.6" text-anchor="end">30</text>
<text transform="translate(160,141.7) scale(0.950,1)" font-size="50.6" text-anchor="end">40</text>
<text transform="translate(160,51.7) scale(0.950,1)" font-size="50.6" text-anchor="end">50</text>
<text transform="translate(573.3,845) scale(0.950,1)" font-size="50.6" text-anchor="middle">10</text>
<text transform="translate(1083.7,845) scale(0.950,1)" font-size="50.6" text-anchor="middle">100</text>
<text transform="translate(245,725.4) scale(0.9486,1)" font-size="50.6">Ending 2025<tspan dy="6">−</tspan><tspan dy="-6">09</tspan><tspan dy="6">−</tspan><tspan dy="-6">12 09:19:59</tspan></text>
<text transform="translate(828.7,920) scale(0.937,1)" font-size="68" text-anchor="middle">Freq [mHz]</text>
<text transform="translate(50.5,393.3) rotate(-90) scale(0.937,1)" font-size="68" text-anchor="middle">Power [dB]</text>
</svg></body></html>
